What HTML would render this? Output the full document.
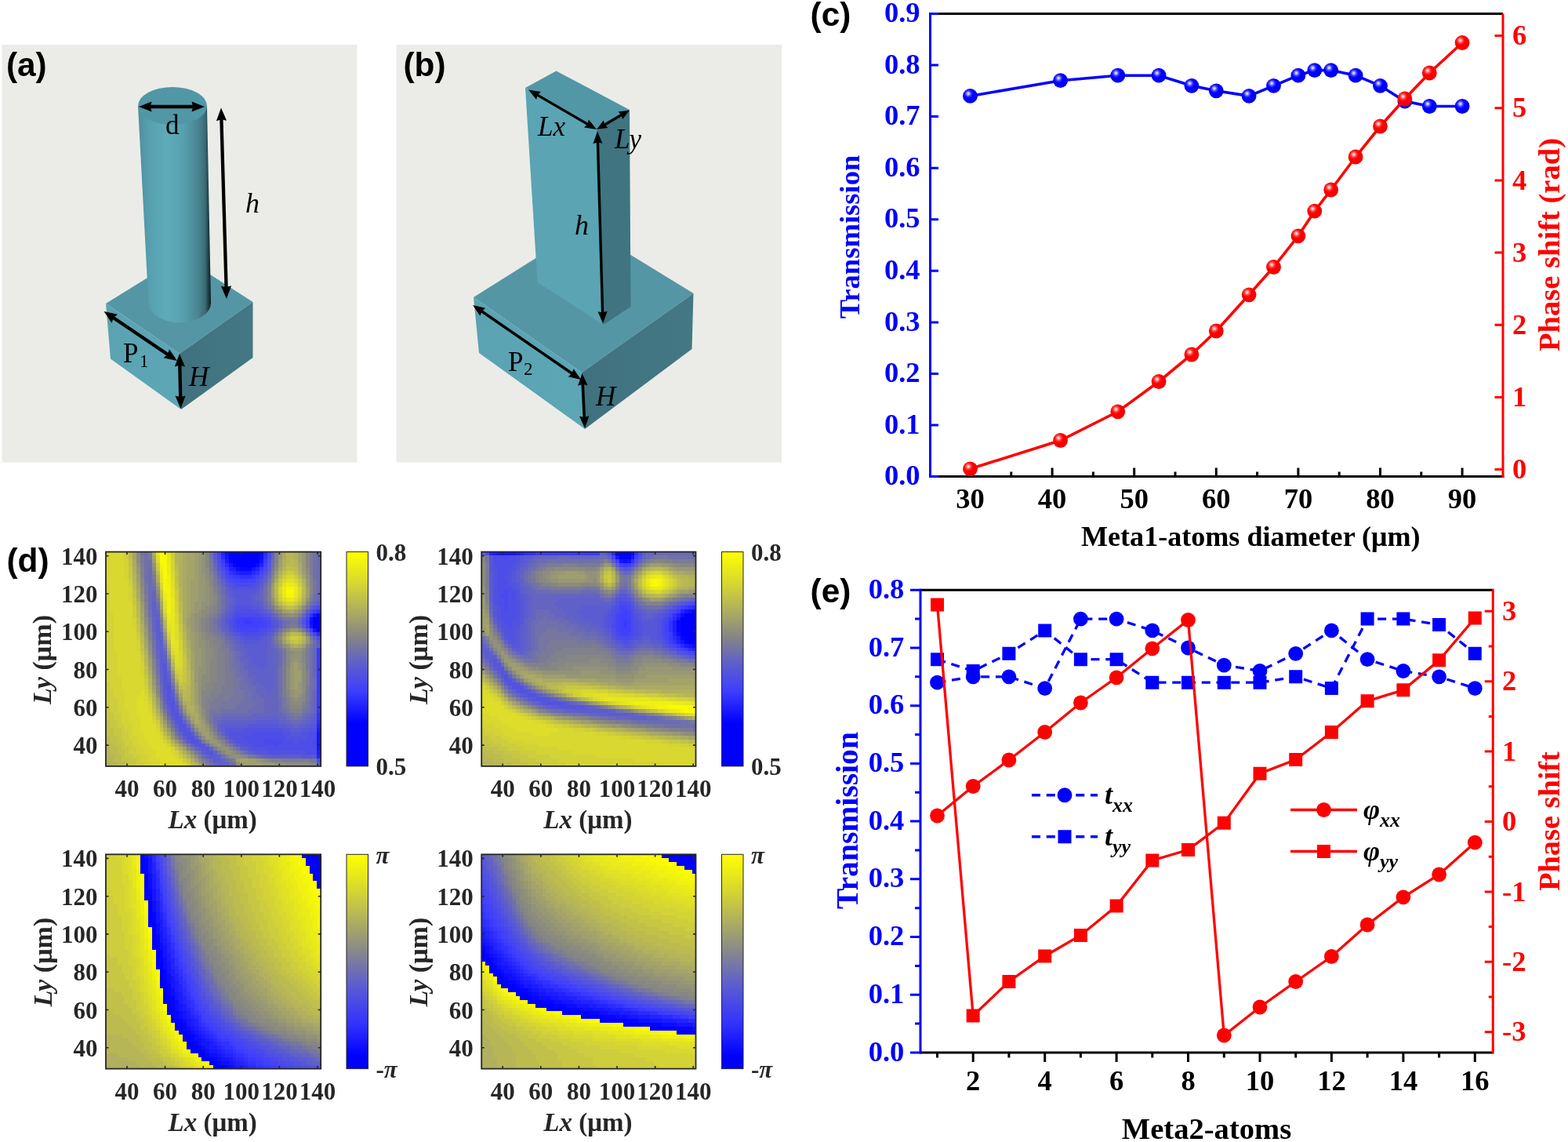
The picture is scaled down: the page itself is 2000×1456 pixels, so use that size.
<!DOCTYPE html>
<html lang="en"><head><meta charset="utf-8"><title>Meta-atoms figure</title>
<style>
html,body{margin:0;padding:0;background:#fff}
body{width:2000px;height:1456px;overflow:hidden}
svg{display:block}
.s{font-family:'Liberation Serif','DejaVu Serif',serif;font-weight:bold}
.n{font-family:'Liberation Serif','DejaVu Serif',serif;font-weight:normal}
.a{font-family:'Liberation Sans','DejaVu Sans',sans-serif;font-weight:bold}
</style></head><body>
<svg width="2000" height="1456" viewBox="0 0 2000 1456">
<defs>
<linearGradient id="gC" x1="176" y1="0" x2="269" y2="0" gradientUnits="userSpaceOnUse">
<stop offset="0" stop-color="#4d909f"/><stop offset=".15" stop-color="#569fae"/><stop offset=".4" stop-color="#5eacbb"/><stop offset=".62" stop-color="#58a0af"/><stop offset=".82" stop-color="#4a8592"/><stop offset=".92" stop-color="#3b6c77"/><stop offset=".97" stop-color="#1e3a41"/><stop offset="1" stop-color="#0a1518"/></linearGradient>
<linearGradient id="gL" x1="0" y1="0" x2="1" y2="0"><stop offset="0" stop-color="#5ba3b2"/><stop offset="1" stop-color="#5ca6b5"/></linearGradient>
<linearGradient id="gR" x1="0" y1="0" x2="1" y2="0"><stop offset="0" stop-color="#3f727e"/><stop offset="1" stop-color="#437884"/></linearGradient>
<radialGradient id="sB" cx=".38" cy=".36" r=".62" fx=".37" fy=".33"><stop offset="0" stop-color="#f4f4ff"/><stop offset=".1" stop-color="#c4c4ff"/><stop offset=".3" stop-color="#3c3cff"/><stop offset=".5" stop-color="#0000ff"/><stop offset="1" stop-color="#0000f4"/></radialGradient>
<radialGradient id="sR" cx=".38" cy=".36" r=".62" fx=".37" fy=".33"><stop offset="0" stop-color="#fff4f4"/><stop offset=".1" stop-color="#ffc4c4"/><stop offset=".3" stop-color="#ff3c3c"/><stop offset=".5" stop-color="#ff0000"/><stop offset="1" stop-color="#f40000"/></radialGradient>
</defs>
<rect x="2.5" y="57" width="453" height="532.5" fill="#ebece8"/>
<rect x="505.5" y="57" width="491.5" height="532.5" fill="#ebece8"/>
<polygon points="135,387 232,327 322.5,385 229,451" fill="#5596a5"/>
<polygon points="135,387 229,451 231,522 141,457.5" fill="url(#gL)"/>
<polygon points="229,451 322.5,385 322.5,456 231,522" fill="url(#gR)"/>
<path d="M176,135 L189.5,388 A39.8,25 0 0 0 269,386 L264,135 Z" fill="url(#gC)"/>
<ellipse cx="220" cy="135" rx="44" ry="24" fill="#5297a6"/>
<polygon points="604,379 746.5,289.5 884.5,374 742,475" fill="#5596a5"/>
<polygon points="604,379 742,475 746,547 611,450" fill="url(#gL)"/>
<polygon points="742,475 884.5,374 882.5,445 746,547" fill="url(#gR)"/>
<polygon points="670,112 709.5,90.5 803,140 761,166" fill="#5297a6"/>
<polygon points="670,112 761,166 769.5,414 685.5,360" fill="#5aa4b3"/>
<polygon points="761,166 803,140 804.5,391 769.5,414" fill="#3f7480"/>
<path d="M191.0,136.0L247.0,136.0" stroke="#000" stroke-width="4.3" fill="none"/>
<path d="M261.0,136.0L244.5,142.6L246.2,136.0L244.5,129.4zM177.0,136.0L193.5,129.4L191.8,136.0L193.5,142.6z"/>
<path d="M282.4,151.5L288.6,367.0" stroke="#000" stroke-width="4.3" fill="none"/>
<path d="M289.0,381.0L281.9,364.7L288.6,366.2L295.1,364.3zM282.0,137.5L289.1,153.8L282.4,152.3L275.9,154.2z"/>
<path d="M144.1,404.8L214.4,452.2" stroke="#000" stroke-width="4.3" fill="none"/>
<path d="M226.0,460.0L208.6,456.3L213.7,451.7L216.0,445.3zM132.5,397.0L149.9,400.7L144.8,405.3L142.5,411.7z"/>
<path d="M229.3,465.0L230.2,507.0" stroke="#000" stroke-width="4.3" fill="none"/>
<path d="M230.5,521.0L223.5,504.6L230.2,506.2L236.7,504.4zM229.0,451.0L236.0,467.4L229.3,465.8L222.8,467.6z"/>
<path d="M685.0,120.9L750.0,158.6" stroke="#000" stroke-width="3.3" fill="none"/>
<path d="M761.0,165.0L745.1,162.5L749.3,158.2L750.9,152.5zM674.0,114.5L689.9,117.0L685.7,121.3L684.1,127.0z"/>
<path d="M770.9,159.2L793.1,146.3" stroke="#000" stroke-width="3.3" fill="none"/>
<path d="M803.0,140.5L794.2,152.1L792.5,146.6L788.5,142.5zM761.0,165.0L769.8,153.4L771.5,158.9L775.5,163.0z"/>
<path d="M762.4,180.7L768.6,399.3" stroke="#000" stroke-width="3.4" fill="none"/>
<path d="M769.0,412.5L762.6,397.2L768.6,398.6L774.6,396.8zM762.0,167.5L768.4,182.8L762.4,181.4L756.4,183.2z"/>
<path d="M613.9,396.5L730.1,476.5" stroke="#000" stroke-width="3.4" fill="none"/>
<path d="M741.0,484.0L724.8,480.2L729.5,476.1L731.6,470.3zM603.0,389.0L619.2,392.8L614.5,396.9L612.4,402.7z"/>
<path d="M743.2,489.2L745.3,532.8" stroke="#000" stroke-width="3.6" fill="none"/>
<path d="M746.0,546.0L739.0,530.8L745.3,532.1L751.4,530.2zM742.5,476.0L749.5,491.2L743.2,489.9L737.1,491.8z"/>
<text class="a" x="7.9" y="97.3" font-size="42.4">(a)</text>
<text class="a" x="514.4" y="97.3" font-size="42.4">(b)</text>
<text class="n" x="211" y="171.3" font-size="35">d</text>
<text class="n" x="313" y="271" font-size="36" font-style="italic">h</text>
<text class="n" x="157" y="462" font-size="35">P</text>
<text class="n" x="178" y="467.5" font-size="23">1</text>
<text class="n" x="241" y="492" font-size="35" font-style="italic">H</text>
<text class="n" x="686" y="172.5" font-size="35" font-style="italic">Lx</text>
<text class="n" x="784" y="189" font-size="35" font-style="italic">Ly</text>
<text class="n" x="733" y="299" font-size="36" font-style="italic">h</text>
<text class="n" x="648" y="472.5" font-size="35">P</text>
<text class="n" x="668" y="477.5" font-size="23">2</text>
<text class="n" x="760" y="517" font-size="35" font-style="italic">H</text>
<line x1="1185.0" y1="17.5" x2="1917" y2="17.5" stroke="#000" stroke-width="3" />
<line x1="1185.0" y1="607.6" x2="1918.5" y2="607.6" stroke="#000" stroke-width="3" />
<line x1="1186.5" y1="16.0" x2="1186.5" y2="609.1" stroke="#0000ff" stroke-width="3" />
<line x1="1917" y1="17.5" x2="1917" y2="609.1" stroke="#ff0000" stroke-width="3" />
<path d="M1186.5,607.6h10.5M1186.5,542.0h10.5M1186.5,476.5h10.5M1186.5,410.9h10.5M1186.5,345.3h10.5M1186.5,279.8h10.5M1186.5,214.2h10.5M1186.5,148.6h10.5M1186.5,83.1h10.5M1186.5,17.5h10.5" stroke="#0000ff" stroke-width="3" fill="none"/>
<path d="M1917,598.5h-10.5M1917,506.4h-10.5M1917,414.2h-10.5M1917,322.0h-10.5M1917,229.9h-10.5M1917,137.8h-10.5M1917,45.6h-10.5" stroke="#ff0000" stroke-width="3" fill="none"/>
<path d="M1237.5,607.6v-11M1289.8,607.6v-6M1342.1,607.6v-11M1394.4,607.6v-6M1446.7,607.6v-11M1499.0,607.6v-6M1551.3,607.6v-11M1603.6,607.6v-6M1655.9,607.6v-11M1708.2,607.6v-6M1760.5,607.6v-11M1812.8,607.6v-6M1865.1,607.6v-11" stroke="#000" stroke-width="3" fill="none"/>
<text class="s" x="1173.5" y="618.2" font-size="36.5" fill="#0000ff" text-anchor="end">0.0</text>
<text class="s" x="1173.5" y="552.6" font-size="36.5" fill="#0000ff" text-anchor="end">0.1</text>
<text class="s" x="1173.5" y="487.1" font-size="36.5" fill="#0000ff" text-anchor="end">0.2</text>
<text class="s" x="1173.5" y="421.5" font-size="36.5" fill="#0000ff" text-anchor="end">0.3</text>
<text class="s" x="1173.5" y="355.9" font-size="36.5" fill="#0000ff" text-anchor="end">0.4</text>
<text class="s" x="1173.5" y="290.4" font-size="36.5" fill="#0000ff" text-anchor="end">0.5</text>
<text class="s" x="1173.5" y="224.8" font-size="36.5" fill="#0000ff" text-anchor="end">0.6</text>
<text class="s" x="1173.5" y="159.2" font-size="36.5" fill="#0000ff" text-anchor="end">0.7</text>
<text class="s" x="1173.5" y="93.7" font-size="36.5" fill="#0000ff" text-anchor="end">0.8</text>
<text class="s" x="1173.5" y="28.1" font-size="36.5" fill="#0000ff" text-anchor="end">0.9</text>
<text class="s" x="1929" y="610.1" font-size="36.5" fill="#ff0000">0</text>
<text class="s" x="1929" y="518.0" font-size="36.5" fill="#ff0000">1</text>
<text class="s" x="1929" y="425.8" font-size="36.5" fill="#ff0000">2</text>
<text class="s" x="1929" y="333.6" font-size="36.5" fill="#ff0000">3</text>
<text class="s" x="1929" y="241.5" font-size="36.5" fill="#ff0000">4</text>
<text class="s" x="1929" y="149.3" font-size="36.5" fill="#ff0000">5</text>
<text class="s" x="1929" y="57.2" font-size="36.5" fill="#ff0000">6</text>
<text class="s" x="1237.5" y="647.6" font-size="36.5" text-anchor="middle">30</text>
<text class="s" x="1342.1" y="647.6" font-size="36.5" text-anchor="middle">40</text>
<text class="s" x="1446.7" y="647.6" font-size="36.5" text-anchor="middle">50</text>
<text class="s" x="1551.3" y="647.6" font-size="36.5" text-anchor="middle">60</text>
<text class="s" x="1655.9" y="647.6" font-size="36.5" text-anchor="middle">70</text>
<text class="s" x="1760.5" y="647.6" font-size="36.5" text-anchor="middle">80</text>
<text class="s" x="1865.1" y="647.6" font-size="36.5" text-anchor="middle">90</text>
<text class="s" x="1595.3" y="696.2" font-size="36.1" text-anchor="middle">Meta1-atoms diameter (μm)</text>
<text class="s" x="1096" y="302" font-size="36.6" fill="#0000ff" text-anchor="middle" transform="rotate(-90 1096 302)">Transmission</text>
<text class="s" x="1988.5" y="312" font-size="38.6" fill="#ff0000" text-anchor="middle" transform="rotate(-90 1988.5 312)">Phase shift (rad)</text>
<text class="a" x="1033.6" y="33.3" font-size="42.4">(c)</text>
<polyline points="1237.5,122.4 1352.6,102.7 1425.8,96.2 1478.1,96.2 1519.9,109.3 1551.3,115.8 1593.1,122.4 1624.5,109.3 1655.9,96.2 1676.8,89.6 1697.7,89.6 1729.1,96.2 1760.5,109.3 1791.9,129.0 1823.3,135.5 1865.1,135.5" fill="none" stroke="#0000ff" stroke-width="3.6"/>
<g fill="url(#sB)"><circle cx="1237.5" cy="122.4" r="9.4"/><circle cx="1352.6" cy="102.7" r="9.4"/><circle cx="1425.8" cy="96.2" r="9.4"/><circle cx="1478.1" cy="96.2" r="9.4"/><circle cx="1519.9" cy="109.3" r="9.4"/><circle cx="1551.3" cy="115.8" r="9.4"/><circle cx="1593.1" cy="122.4" r="9.4"/><circle cx="1624.5" cy="109.3" r="9.4"/><circle cx="1655.9" cy="96.2" r="9.4"/><circle cx="1676.8" cy="89.6" r="9.4"/><circle cx="1697.7" cy="89.6" r="9.4"/><circle cx="1729.1" cy="96.2" r="9.4"/><circle cx="1760.5" cy="109.3" r="9.4"/><circle cx="1791.9" cy="129.0" r="9.4"/><circle cx="1823.3" cy="135.5" r="9.4"/><circle cx="1865.1" cy="135.5" r="9.4"/></g>
<polyline points="1237.5,597.8 1352.6,561.5 1425.8,524.8 1478.1,486.5 1519.9,452.0 1551.3,422.0 1593.1,375.8 1624.5,340.5 1655.9,300.8 1676.8,269.2 1697.7,242.0 1729.1,200.0 1760.5,161.0 1791.9,126.0 1823.3,93.0 1865.1,54.5" fill="none" stroke="#ff0000" stroke-width="3.6"/>
<g fill="url(#sR)"><circle cx="1237.5" cy="597.8" r="9.4"/><circle cx="1352.6" cy="561.5" r="9.4"/><circle cx="1425.8" cy="524.8" r="9.4"/><circle cx="1478.1" cy="486.5" r="9.4"/><circle cx="1519.9" cy="452.0" r="9.4"/><circle cx="1551.3" cy="422.0" r="9.4"/><circle cx="1593.1" cy="375.8" r="9.4"/><circle cx="1624.5" cy="340.5" r="9.4"/><circle cx="1655.9" cy="300.8" r="9.4"/><circle cx="1676.8" cy="269.2" r="9.4"/><circle cx="1697.7" cy="242.0" r="9.4"/><circle cx="1729.1" cy="200.0" r="9.4"/><circle cx="1760.5" cy="161.0" r="9.4"/><circle cx="1791.9" cy="126.0" r="9.4"/><circle cx="1823.3" cy="93.0" r="9.4"/><circle cx="1865.1" cy="54.5" r="9.4"/></g>
<line x1="1174" y1="752.25" x2="1904.25" y2="752.25" stroke="#000" stroke-width="3" />
<line x1="1174" y1="1342" x2="1904.25" y2="1342" stroke="#000" stroke-width="3" />
<line x1="1174" y1="750.75" x2="1174" y2="1343.5" stroke="#0000ff" stroke-width="3" />
<line x1="1904.25" y1="750.75" x2="1904.25" y2="1343.5" stroke="#ff0000" stroke-width="3" />
<path d="M1174,1342.0h-13M1174,1305.1h-7M1174,1268.3h-13M1174,1231.4h-7M1174,1194.6h-13M1174,1157.7h-7M1174,1120.8h-13M1174,1084.0h-7M1174,1047.1h-13M1174,1010.3h-7M1174,973.4h-13M1174,936.5h-7M1174,899.7h-13M1174,862.8h-7M1174,826.0h-13M1174,789.1h-7M1174,752.2h-13" stroke="#0000ff" stroke-width="3" fill="none"/>
<path d="M1904.25,1315.7h-10.5M1904.25,1271.0h-5.5M1904.25,1226.3h-10.5M1904.25,1181.6h-5.5M1904.25,1136.9h-10.5M1904.25,1092.2h-5.5M1904.25,1047.5h-10.5M1904.25,1002.8h-5.5M1904.25,958.1h-10.5M1904.25,913.4h-5.5M1904.25,868.7h-10.5M1904.25,824.0h-5.5M1904.25,779.3h-10.5" stroke="#ff0000" stroke-width="3" fill="none"/>
<path d="M1195.5,1342v6.5M1241.2,1342v12M1286.9,1342v6.5M1332.7,1342v12M1378.4,1342v6.5M1424.1,1342v12M1469.8,1342v6.5M1515.5,1342v12M1561.3,1342v6.5M1607.0,1342v12M1652.7,1342v6.5M1698.4,1342v12M1744.1,1342v6.5M1789.9,1342v12M1835.6,1342v6.5M1881.3,1342v12" stroke="#000" stroke-width="3" fill="none"/>
<text class="s" x="1153.3" y="1352.5" font-size="36.5" fill="#0000ff" text-anchor="end">0.0</text>
<text class="s" x="1153.3" y="1278.8" font-size="36.5" fill="#0000ff" text-anchor="end">0.1</text>
<text class="s" x="1153.3" y="1205.1" font-size="36.5" fill="#0000ff" text-anchor="end">0.2</text>
<text class="s" x="1153.3" y="1131.3" font-size="36.5" fill="#0000ff" text-anchor="end">0.3</text>
<text class="s" x="1153.3" y="1057.6" font-size="36.5" fill="#0000ff" text-anchor="end">0.4</text>
<text class="s" x="1153.3" y="983.9" font-size="36.5" fill="#0000ff" text-anchor="end">0.5</text>
<text class="s" x="1153.3" y="910.2" font-size="36.5" fill="#0000ff" text-anchor="end">0.6</text>
<text class="s" x="1153.3" y="836.5" font-size="36.5" fill="#0000ff" text-anchor="end">0.7</text>
<text class="s" x="1153.3" y="762.8" font-size="36.5" fill="#0000ff" text-anchor="end">0.8</text>
<text class="s" x="1916" y="1327.3" font-size="36.5" fill="#ff0000">-3</text>
<text class="s" x="1916" y="1237.9" font-size="36.5" fill="#ff0000">-2</text>
<text class="s" x="1916" y="1148.5" font-size="36.5" fill="#ff0000">-1</text>
<text class="s" x="1916" y="1059.1" font-size="36.5" fill="#ff0000">0</text>
<text class="s" x="1916" y="969.7" font-size="36.5" fill="#ff0000">1</text>
<text class="s" x="1916" y="880.3" font-size="36.5" fill="#ff0000">2</text>
<text class="s" x="1916" y="790.9" font-size="36.5" fill="#ff0000">3</text>
<text class="s" x="1241.2" y="1389.5" font-size="36.5" text-anchor="middle">2</text>
<text class="s" x="1332.7" y="1389.5" font-size="36.5" text-anchor="middle">4</text>
<text class="s" x="1424.1" y="1389.5" font-size="36.5" text-anchor="middle">6</text>
<text class="s" x="1515.5" y="1389.5" font-size="36.5" text-anchor="middle">8</text>
<text class="s" x="1607.0" y="1389.5" font-size="36.5" text-anchor="middle">10</text>
<text class="s" x="1698.4" y="1389.5" font-size="36.5" text-anchor="middle">12</text>
<text class="s" x="1789.9" y="1389.5" font-size="36.5" text-anchor="middle">14</text>
<text class="s" x="1881.3" y="1389.5" font-size="36.5" text-anchor="middle">16</text>
<text class="s" x="1539" y="1451.5" font-size="38.6" text-anchor="middle">Meta2-atoms</text>
<text class="s" x="1094" y="1046" font-size="39.6" fill="#0000ff" text-anchor="middle" transform="rotate(-90 1094 1046)">Transmission</text>
<text class="s" x="1989" y="1047" font-size="38.3" fill="#ff0000" text-anchor="middle" transform="rotate(-90 1989 1047)">Phase shift</text>
<text class="a" x="1033.6" y="768.3" font-size="42.4">(e)</text>
<polyline points="1195.5,840.7 1241.2,855.5 1286.9,833.3 1332.7,803.9 1378.4,840.7 1424.1,840.7 1469.8,870.2 1515.5,870.2 1561.3,870.2 1607.0,870.2 1652.7,862.8 1698.4,877.6 1744.1,789.1 1789.9,789.1 1835.6,796.5 1881.3,833.3" fill="none" stroke="#0000ff" stroke-width="3.3" stroke-dasharray="11 7.75"/>
<path fill="#0000ff" d="M1187.0,832.2h17v17h-17zM1232.7,847.0h17v17h-17zM1278.4,824.8h17v17h-17zM1324.2,795.4h17v17h-17zM1369.9,832.2h17v17h-17zM1415.6,832.2h17v17h-17zM1461.3,861.7h17v17h-17zM1507.0,861.7h17v17h-17zM1552.8,861.7h17v17h-17zM1598.5,861.7h17v17h-17zM1644.2,854.3h17v17h-17zM1689.9,869.1h17v17h-17zM1735.6,780.6h17v17h-17zM1781.4,780.6h17v17h-17zM1827.1,788.0h17v17h-17zM1872.8,824.8h17v17h-17z"/>
<polyline points="1195.5,870.2 1241.2,862.8 1286.9,862.8 1332.7,877.6 1378.4,789.1 1424.1,789.1 1469.8,803.9 1515.5,826.0 1561.3,848.1 1607.0,855.5 1652.7,833.3 1698.4,803.9 1744.1,840.7 1789.9,855.5 1835.6,862.8 1881.3,877.6" fill="none" stroke="#0000ff" stroke-width="3.3" stroke-dasharray="11 7.75"/>
<g fill="#0000ff"><circle cx="1195.5" cy="870.2" r="9.4"/><circle cx="1241.2" cy="862.8" r="9.4"/><circle cx="1286.9" cy="862.8" r="9.4"/><circle cx="1332.7" cy="877.6" r="9.4"/><circle cx="1378.4" cy="789.1" r="9.4"/><circle cx="1424.1" cy="789.1" r="9.4"/><circle cx="1469.8" cy="803.9" r="9.4"/><circle cx="1515.5" cy="826.0" r="9.4"/><circle cx="1561.3" cy="848.1" r="9.4"/><circle cx="1607.0" cy="855.5" r="9.4"/><circle cx="1652.7" cy="833.3" r="9.4"/><circle cx="1698.4" cy="803.9" r="9.4"/><circle cx="1744.1" cy="840.7" r="9.4"/><circle cx="1789.9" cy="855.5" r="9.4"/><circle cx="1835.6" cy="862.8" r="9.4"/><circle cx="1881.3" cy="877.6" r="9.4"/></g>
<polyline points="1195.5,771.0 1241.2,1295.0 1286.9,1251.5 1332.7,1219.0 1378.4,1192.5 1424.1,1155.0 1469.8,1097.0 1515.5,1083.5 1561.3,1049.2 1607.0,986.2 1652.7,968.5 1698.4,933.5 1744.1,893.8 1789.9,879.8 1835.6,841.8 1881.3,788.0" fill="none" stroke="#ff0000" stroke-width="3.3"/>
<path fill="#ff0000" d="M1187.0,762.5h17v17h-17zM1232.7,1286.5h17v17h-17zM1278.4,1243.0h17v17h-17zM1324.2,1210.5h17v17h-17zM1369.9,1184.0h17v17h-17zM1415.6,1146.5h17v17h-17zM1461.3,1088.5h17v17h-17zM1507.0,1075.0h17v17h-17zM1552.8,1040.8h17v17h-17zM1598.5,977.8h17v17h-17zM1644.2,960.0h17v17h-17zM1689.9,925.0h17v17h-17zM1735.6,885.2h17v17h-17zM1781.4,871.2h17v17h-17zM1827.1,833.2h17v17h-17zM1872.8,779.5h17v17h-17z"/>
<polyline points="1195.5,1040.0 1241.2,1002.5 1286.9,969.0 1332.7,933.5 1378.4,896.0 1424.1,863.8 1469.8,826.8 1515.5,790.5 1561.3,1320.0 1607.0,1284.0 1652.7,1251.5 1698.4,1219.5 1744.1,1179.0 1789.9,1143.8 1835.6,1115.0 1881.3,1074.2" fill="none" stroke="#ff0000" stroke-width="3.3"/>
<g fill="#ff0000"><circle cx="1195.5" cy="1040.0" r="9.4"/><circle cx="1241.2" cy="1002.5" r="9.4"/><circle cx="1286.9" cy="969.0" r="9.4"/><circle cx="1332.7" cy="933.5" r="9.4"/><circle cx="1378.4" cy="896.0" r="9.4"/><circle cx="1424.1" cy="863.8" r="9.4"/><circle cx="1469.8" cy="826.8" r="9.4"/><circle cx="1515.5" cy="790.5" r="9.4"/><circle cx="1561.3" cy="1320.0" r="9.4"/><circle cx="1607.0" cy="1284.0" r="9.4"/><circle cx="1652.7" cy="1251.5" r="9.4"/><circle cx="1698.4" cy="1219.5" r="9.4"/><circle cx="1744.1" cy="1179.0" r="9.4"/><circle cx="1789.9" cy="1143.8" r="9.4"/><circle cx="1835.6" cy="1115.0" r="9.4"/><circle cx="1881.3" cy="1074.2" r="9.4"/></g>
<line x1="1316" y1="1013.75" x2="1400" y2="1013.75" stroke="#0000ff" stroke-width="3.3" stroke-dasharray="11 7.75"/>
<circle cx="1358.0" cy="1013.75" r="9.4" fill="#0000ff"/>
<text class="s" x="1409" y="1025.25" font-size="36" font-style="italic">t<tspan font-size="26" dy="9.5">xx</tspan></text>
<line x1="1316" y1="1066.75" x2="1400" y2="1066.75" stroke="#0000ff" stroke-width="3.3" stroke-dasharray="11 7.75"/>
<rect x="1349.5" y="1058.25" width="17" height="17" fill="#0000ff"/>
<text class="s" x="1409" y="1078.25" font-size="36" font-style="italic">t<tspan font-size="26" dy="9.5">yy</tspan></text>
<line x1="1646" y1="1032.5" x2="1731" y2="1032.5" stroke="#ff0000" stroke-width="3.3"/>
<circle cx="1688.5" cy="1032.5" r="9.4" fill="#ff0000"/>
<text class="s" x="1739" y="1044.0" font-size="36" font-style="italic">φ<tspan font-size="26" dy="9.5">xx</tspan></text>
<line x1="1646" y1="1085.5" x2="1731" y2="1085.5" stroke="#ff0000" stroke-width="3.3"/>
<rect x="1680.0" y="1077.0" width="17" height="17" fill="#ff0000"/>
<text class="s" x="1739" y="1097.0" font-size="36" font-style="italic">φ<tspan font-size="26" dy="9.5">yy</tspan></text>
<text class="a" x="8.4" y="728.6" font-size="42.4">(d)</text>
<defs><linearGradient id="cb" x1="0" y1="1" x2="0" y2="0">
<stop offset="0.0" stop-color="#0000ff"/>
<stop offset="0.2" stop-color="#0000ff"/>
<stop offset="0.35" stop-color="#3e3eff"/>
<stop offset="0.47" stop-color="#5c5cd0"/>
<stop offset="0.6" stop-color="#848486"/>
<stop offset="0.72" stop-color="#acac62"/>
<stop offset="0.85" stop-color="#d6d632"/>
<stop offset="1.0" stop-color="#ffff00"/>
</linearGradient><linearGradient id="cp" x1="0" y1="1" x2="0" y2="0">
<stop offset="0.0" stop-color="#0000ff"/>
<stop offset="0.06" stop-color="#0000ff"/>
<stop offset="0.2" stop-color="#3030ff"/>
<stop offset="0.37" stop-color="#5858d8"/>
<stop offset="0.55" stop-color="#88888c"/>
<stop offset="0.65" stop-color="#a4a46a"/>
<stop offset="0.75" stop-color="#c0c04c"/>
<stop offset="0.87" stop-color="#e0e024"/>
<stop offset="1.0" stop-color="#ffff00"/>
</linearGradient></defs>
<g shape-rendering="crispEdges" transform="translate(135 703.6) scale(4.89643 4.88036)"><path fill="#d8d830" d="M0 0h56v56H0z"/><path fill="#0000ff" d="m35 0h3v1h-3z"/><path fill="#0000ff" d="m35 1h2v1h-2zm20 17h1v1h-1z"/><path fill="#0000ff" d="m34 0h1v1h-1zm4 0h1v1h-1zm-1 1h1v1h-1zm18 18h1v1h-1z"/><path fill="#0000ff" d="m34 1h1v1h-1zm4 0h1v1h-1zm-3 1h2v1h-2z"/><path fill="#0000ff" d="m33 0h1v1h-1zm4 2h1v1h-1zm18 15h1v1h-1zm-1 1h1v1h-1z"/><path fill="#0000ff" d="m39 0h1v1h-1zm-6 1h1v1h-1zm1 1h1v1h-1zm4 0h1v1h-1z"/><path fill="#0000ff" d="m39 1h1v1h-1zm-4 2h3v1h-3zm19 14h1v1h-1zm0 2h1v1h-1z"/><path fill="#0000ff" d="m32 0h1v1h-1zm1 2h1v1h-1zm1 1h1v1h-1z"/><path fill="#0000ff" d="m32 1h1v1h-1zm7 1h1v1h-1zm-1 1h1v1h-1zm17 17h1v1h-1z"/><path fill="#0606ff" d="m40 0h1v1h-1zm-8 2h1v1h-1zm1 1h1v1h-1zm2 1h3v1h-3zm20 12h1v1h-1z"/><path fill="#0d0dff" d="m31 0h1v1h-1zm9 1h1v1h-1zm-1 2h1v1h-1zm-5 1h1v1h-1zm19 14h1v1h-1z"/><path fill="#1515ff" d="m31 1h1v1h-1zm9 1h1v1h-1zm-8 1h1v1h-1zm6 1h1v1h-1zm16 12h1v1h-1zm-1 1h1v1h-1zm0 2h1v1h-1zm1 1h1v1h-1zm1 27h1v5h-1z"/><path fill="#1c1cff" d="m31 2h1v1h-1zm2 2h1v1h-1zm2 1h3v1h-3zm20 41h1v1h-1zm0 6h1v1h-1z"/><path fill="#2323ff" d="m30 0h1v1h-1zm10 3h1v1h-1zm-8 1h1v1h-1zm7 0h1v1h-1zm-5 1h1v1h-1zm21 40h1v1h-1zm0 8h1v1h-1z"/><path fill="#2b2bff" d="m41 0h1v1h-1zm-11 1h1v1h-1zm1 2h1v1h-1zm2 2h1v1h-1zm5 0h1v1h-1zm17 16h1v1h-1zm0 23h1v1h-1z"/><path fill="#3232ff" d="m41 1h1v1h-1zm-9 4h1v1h-1zm7 0h1v1h-1zm-4 1h3v1h-3zm20 9h1v1h-1zm-2 1h1v1h-1zm2 26h1v2h-1z"/><path fill="#3a3aff" d="m30 2h1v1h-1zm11 0h1v1h-1zm-10 2h1v1h-1zm9 0h1v1h-1zm-7 2h2v1h-2zm5 0h1v1h-1zm-2 12h2v1h-2zm16 0h1v1h-1zm3 7h1v17h-1z"/><path fill="#4040fc" d="m30 3h1v1h-1zm11 0h1v1h-1zm-9 3h1v1h-1zm3 1h2v1h-2zm19 8h1v1h-1zm-19 2h4v1h-4zm17 0h1v1h-1zm-18 1h2v1h-2zm4 0h3v1h-3zm-3 1h5v1h-5zm17 0h1v1h-1zm1 1h1v1h-1z"/><path fill="#4444f5" d="m29 0h1v1h-1zm2 5h1v1h-1zm9 0h1v1h-1zm-1 1h1v1h-1zm-6 1h2v1h-2zm4 0h2v1h-2zm-3 10h1v1h-1zm5 0h2v1h-2zm2 1h1v1h-1zm-7 1h1v1h-1zm6 0h2v1h-2zm-5 1h5v1h-5zm19 1h1v1h-1z"/><path fill="#4949ee" d="m42 0h1v1h-1zm-13 1h1v1h-1zm1 3h1v1h-1zm11 0h1v1h-1zm-10 2h1v1h-1zm1 1h1v1h-1zm2 1h4v1h-4zm21 6h1v1h-1zm-21 2h6v1h-6zm-1 1h1v3h-1zm8 0h1v1h-1zm1 1h1v2h-1zm-8 2h1v1h-1zm6 0h1v1h-1zm-4 1h1v1h-1zm5 28h5v1h-5zm13 0h1v2h-1zm-10 1h1v1h-1z"/><path fill="#4d4de7" d="m42 1h1v1h-1zm-13 1h1v1h-1zm11 4h1v1h-1zm-1 1h1v1h-1zm-6 1h1v1h-1zm5 0h1v1h-1zm-4 7h5v1h-5zm19 0h1v1h-1zm-20 1h1v1h-1zm7 0h1v1h-1zm12 0h1v1h-1zm-10 1h1v1h-1zm-10 1h1v1h-1zm1 2h1v1h-1zm8 0h1v1h-1zm-6 1h1v1h-1zm2 0h4v1h-4zm18 1h1v1h-1zm-17 25h8v1h-8zm15 0h2v1h-2zm-17 1h11v1h-11zm16 0h3v1h-3zm-15 1h4v1h-4zm9 0h3v1h-3zm4 0h4v1h-4zm-12 1h6v1h-6zm7 0h9v1h-9zm-3 1h13v1h-13zm10 1h3v1h-3zm3 2h1v1h-1z"/><path fill="#5252e0" d="m42 2h1v1h-1zm-13 1h1v1h-1zm1 2h1v1h-1zm11 0h1v1h-1zm-10 2h1v1h-1zm1 1h1v1h-1zm7 0h1v1h-1zm-6 1h6v1h-6zm1 5h4v1h-4zm20 0h1v1h-1zm-21 1h1v1h-1zm6 0h1v1h-1zm2 1h1v1h-1zm-9 1h1v1h-1zm11 1h1v2h-1zm8 0h1v1h-1zm-19 1h1v1h-1zm10 1h1v1h-1zm-8 1h1v1h-1zm7 0h1v1h-1zm-5 1h4v1h-4zm-20 13h1v4h-1zm1 4h1v3h-1zm1 3h1v2h-1zm1 2h1v1h-1zm0 1h2v1h-2zm1 1h1v1h-1zm16 0h10v1h-10zm17 0h2v1h-2zm-33 1h2v1h-2zm12 0h6v1h-6zm14 0h2v1h-2zm5 0h2v1h-2zm-30 1h2v1h-2zm12 0h3v1h-3zm14 0h5v1h-5zm-25 1h2v1h-2zm12 0h3v1h-3zm15 0h1v1h-1zm-25 1h1v1h-1zm12 0h2v1h-2zm2 1h4v1h-4zm4 1h10v1h-10z"/><path fill="#5656d9" d="m28 0h1v1h-1zm14 3h1v1h-1zm-13 1h1v1h-1zm1 2h1v1h-1zm10 1h1v1h-1zm-9 1h1v1h-1zm1 1h1v1h-1zm7 0h1v1h-1zm-6 1h6v1h-6zm0 1h5v1h-5zm1 1h4v2h-4zm-1 2h1v1h-1zm5 0h2v1h-2zm2 1h1v1h-1zm-8 1h1v1h-1zm10 0h1v1h-1zm-11 1h1v2h-1zm12 0h1v1h-1zm8 0h1v1h-1zm-7 1h1v2h-1zm-12 2h1v1h-1zm11 0h1v1h-1zm-10 1h1v1h-1zm2 1h1v1h-1zm5 0h1v1h-1zm-4 1h4v1h-4zm-21 6h1v5h-1zm0 5h2v1h-2zm0 1h1v1h-1zm2 3h1v1h-1zm-1 1h1v1h-1zm2 2h1v1h-1zm-1 1h1v1h-1zm2 1h1v1h-1zm-1 1h1v1h-1zm19 1h8v1h-8zm16 0h2v1h-2zm-34 1h1v1h-1zm2 0h1v1h-1zm10 0h5v1h-5zm15 0h2v1h-2zm5 0h2v1h-2zm-20 1h1v1h-1zm17 0h3v1h-3zm-16 1h1v1h-1zm1 1h1v1h-1zm-10 1h1v1h-1zm2 0h1v1h-1zm10 0h1v1h-1zm-10 1h2v1h-2zm12 0h1v1h-1zm-11 1h2v1h-2zm13 0h3v1h-3zm12 1h4v1h-4z"/><path fill="#5b5bd2" d="m28 1h1v1h-1zm14 3h1v1h-1zm-1 2h1v1h-1zm-1 2h1v1h-1zm-8 2h1v2h-1zm7 0h1v1h-1zm-1 1h1v2h-1zm-5 1h1v2h-1zm5 1h2v1h-2zm17 0h1v1h-1zm-23 1h1v2h-1zm8 0h1v1h-1zm1 1h1v1h-1zm-10 1h1v1h-1zm-18 2h1v5h-1zm18 1h1v1h-1zm20 0h1v1h-1zm1 1h1v1h-1zm-10 1h1v1h-1zm11 0h1v1h-1zm-19 1h1v1h-1zm7 0h1v1h-1zm-27 1h1v5h-1zm21 0h1v1h-1zm5 0h2v1h-2zm15 0h1v1h-1zm-19 1h6v1h-6zm1 1h5v2h-5zm1 2h4v2h-4zm-24 1h2v1h-2zm0 1h1v2h-1zm25 0h3v1h-3zm1 1h1v1h-1zm-24 3h1v1h-1zm-1 3h1v2h-1zm2 1h1v1h-1zm-1 3h1v1h-1zm2 0h1v1h-1zm-1 3h1v1h-1zm37 0h1v1h-1zm-15 1h6v1h-6zm14 0h2v1h-2zm-35 1h1v1h-1zm12 0h7v1h-7zm15 0h2v1h-2zm7 0h1v1h-1zm-22 1h1v1h-1zm18 0h3v1h-3zm-26 1h1v1h-1zm-2 1h1v1h-1zm1 1h1v1h-1zm3 0h1v1h-1zm10 1h1v1h-1zm-10 1h1v1h-1zm12 0h1v1h-1zm-11 1h1v1h-1zm13 0h1v1h-1zm-11 1h2v1h-2zm16 0h8v1h-8zm-15 1h2v1h-2zm27 1h1v1h-1z"/><path fill="#6060c9" d="m28 2h1v1h-1zm1 3h1v1h-1zm1 2h1v1h-1zm11 0h1v1h-1zm-10 2h1v2h-1zm9 0h1v1h-1zm-1 2h1v2h-1zm-7 1h1v2h-1zm-20 1h1v3h-1zm28 0h1v1h-1zm13 1h1v1h-1zm-22 1h1v1h-1zm21 0h1v1h-1zm-40 1h2v1h-2zm31 0h1v1h-1zm-30 1h1v1h-1zm17 0h1v3h-1zm14 0h1v1h-1zm1 1h1v2h-1zm-14 2h1v1h-1zm13 0h1v1h-1zm-30 1h1v2h-1zm18 0h1v1h-1zm11 0h1v1h-1zm-10 1h1v1h-1zm9 0h1v3h-1zm12 0h1v1h-1zm-41 1h1v3h-1zm21 0h1v1h-1zm1 1h1v1h-1zm20 0h1v1h-1zm-20 1h2v1h-2zm7 0h2v5h-2zm-6 1h1v1h-1zm-21 1h1v1h-1zm21 0h2v1h-2zm1 1h1v1h-1zm0 1h2v1h-2zm0 1h3v1h-3zm4 0h3v1h-3zm-27 1h1v3h-1zm24 0h6v1h-6zm-22 1h1v1h-1zm23 0h5v2h-5zm1 2h4v1h-4zm1 1h3v1h-3zm-24 1h1v1h-1zm25 0h1v1h-1zm-27 2h1v1h-1zm1 3h1v1h-1zm3 1h1v1h-1zm35 0h1v1h-1zm-15 1h6v1h-6zm14 0h1v1h-1zm-33 1h1v1h-1zm10 0h9v1h-9zm15 0h2v1h-2zm7 0h1v1h-1zm-23 1h1v1h-1zm18 0h2v1h-2zm3 0h2v1h-2zm-31 2h1v1h-1zm11 0h1v1h-1zm-7 1h1v1h-1zm8 0h1v1h-1zm1 1h1v1h-1zm-10 1h1v1h-1zm13 1h1v1h-1zm-7 1h1v1h-1zm9 0h1v1h-1zm-11 1h1v1h-1zm3 0h1v1h-1zm12 0h2v1h-2zm-11 1h1v1h-1zm-1 1h3v1h-3z"/><path fill="#6565bf" d="m43 0h1v2h-1zm-15 3h1v1h-1zm14 2h1v1h-1zm-13 1h1v1h-1zm1 2h1v1h-1zm-18 2h1v3h-1zm28 0h1v3h-1zm-9 1h1v4h-1zm24 0h1v2h-1zm-1 2h1v1h-1zm-13 1h1v1h-1zm-28 1h1v1h-1zm29 0h1v1h-1zm-12 1h1v1h-1zm21 0h1v1h-1zm-39 1h1v4h-1zm38 1h1v1h-1zm-20 2h1v1h-1zm1 1h1v1h-1zm1 1h1v1h-1zm1 1h1v1h-1zm1 1h1v2h-1zm9 0h1v1h-1zm1 1h1v11h-1zm10 0h1v8h-1zm-41 1h1v2h-1zm2 0h1v1h-1zm20 0h1v2h-1zm0 2h2v1h-2zm1 1h1v2h-1zm-20 2h1v1h-1zm21 0h1v1h-1zm0 1h2v1h-2zm1 1h1v1h-1zm-24 1h1v1h-1zm24 0h2v1h-2zm1 1h2v1h-2zm0 1h3v1h-3zm4 0h2v1h-2zm11 0h1v6h-1zm-14 1h5v1h-5zm1 1h4v4h-4zm-26 1h1v1h-1zm3 0h1v1h-1zm-2 3h1v1h-1zm22 0h8v1h-8zm15 0h1v1h-1zm-23 1h9v1h-9zm15 0h2v1h-2zm7 0h1v1h-1zm-35 1h1v1h-1zm12 0h1v1h-1zm18 0h1v1h-1zm4 0h1v1h-1zm-30 1h1v1h-1zm28 0h1v1h-1zm-31 1h1v1h-1zm11 0h1v1h-1zm4 4h1v1h-1zm-10 1h1v1h-1zm4 0h1v1h-1zm13 2h1v1h-1zm-13 1h1v1h-1zm1 1h1v1h-1z"/><path fill="#6b6bb5" d="m55 0h1v11h-1zm-12 2h1v1h-1zm-32 2h1v5h-1zm17 0h1v1h-1zm14 2h1v1h-1zm-13 1h1v1h-1zm12 1h1v1h-1zm-30 1h2v1h-2zm19 0h1v2h-1zm-19 1h1v5h-1zm43 2h1v1h-1zm-13 1h1v1h-1zm-28 1h1v1h-1zm17 1h1v1h-1zm14 1h1v1h-1zm-15 1h1v3h-1zm16 0h1v1h-1zm5 0h1v1h-1zm-4 1h1v2h-1zm-32 2h1v1h-1zm-2 1h1v2h-1zm19 1h1v1h-1zm12 0h1v2h-1zm-11 1h1v1h-1zm22 0h1v2h-1zm-21 1h1v2h-1zm-18 1h1v1h-1zm19 1h1v3h-1zm11 0h1v4h-1zm-32 2h1v2h-1zm22 1h1v2h-1zm0 2h2v1h-2zm1 1h1v1h-1zm0 1h2v1h-2zm18 0h1v3h-1zm-17 1h1v1h-1zm-23 1h1v2h-1zm3 0h1v1h-1zm20 0h2v1h-2zm1 1h1v1h-1zm0 1h2v1h-2zm0 1h3v1h-3zm7 0h1v4h-1zm-6 1h2v1h-2zm14 0h1v3h-1zm-38 1h1v1h-1zm23 0h3v1h-3zm-1 1h4v1h-4zm-7 1h8v1h-8zm16 0h1v1h-1zm6 0h1v1h-1zm-24 1h2v1h-2zm19 0h1v1h-1zm4 0h1v1h-1zm-23 1h1v1h-1zm20 0h3v1h-3zm-29 4h1v1h-1zm1 1h1v1h-1zm6 1h1v1h-1zm-2 2h1v1h-1zm12 0h1v1h-1zm-11 1h1v1h-1zm14 0h1v1h-1zm-8 1h1v1h-1zm1 1h1v1h-1z"/><path fill="#7070ab" d="m10 0h1v2h-1zm17 0h1v2h-1zm27 0h1v7h-1zm-44 2h2v2h-2zm33 1h1v1h-1zm-33 1h1v4h-1zm18 1h1v1h-1zm-16 3h1v1h-1zm17 0h1v1h-1zm12 1h1v4h-1zm-11 2h1v4h-1zm24 0h1v1h-1zm-41 2h1v1h-1zm40 0h1v1h-1zm-11 1h1v1h-1zm-31 1h1v2h-1zm32 0h1v1h-1zm-14 1h1v1h-1zm-1 2h1v1h-1zm19 0h1v1h-1zm-33 1h1v1h-1zm36 0h1v1h-1zm-21 1h1v1h-1zm16 0h1v1h-1zm-15 1h1v1h-1zm14 0h1v1h-1zm-32 2h1v2h-1zm19 0h1v1h-1zm1 1h1v2h-1zm12 0h1v1h-1zm1 1h1v1h-1zm8 0h1v14h-1zm-20 1h1v3h-1zm0 3h2v1h-2zm-20 1h1v2h-1zm3 0h1v1h-1zm18 0h1v2h-1zm11 0h1v8h-1zm-11 2h2v1h-2zm1 1h1v1h-1zm0 1h2v2h-2zm1 2h2v3h-2zm-22 1h1v1h-1zm4 1h1v1h-1zm17 1h4v1h-4zm-1 1h4v1h-4zm-15 1h1v1h-1zm11 0h7v1h-7zm16 0h1v1h-1zm6 0h1v1h-1zm-24 1h2v1h-2zm19 0h1v1h-1zm4 0h1v1h-1zm-35 1h1v1h-1zm4 0h1v1h-1zm28 0h1v1h-1zm2 0h1v1h-1zm-33 2h1v1h-1zm11 0h1v1h-1zm-6 1h1v1h-1zm-4 1h1v1h-1zm11 0h1v1h-1zm1 1h1v1h-1zm1 1h1v1h-1zm-10 1h1v1h-1zm13 1h1v1h-1zm-4 2h1v1h-1zm-4 1h1v1h-1zm1 1h1v1h-1zm6 0h1v1h-1z"/><path fill="#7676a0" d="m9 0h1v1h-1zm2 1h1v1h-1zm16 1h1v1h-1zm16 2h1v1h-1zm-15 2h1v1h-1zm-16 1h1v1h-1zm30 0h1v1h-1zm12 0h1v4h-1zm-44 1h1v3h-1zm19 1h1v2h-1zm13 4h1v1h-1zm10 1h1v1h-1zm-23 1h1v1h-1zm-18 2h1v2h-1zm17 0h1v1h-1zm18 0h1v1h-1zm2 1h2v1h-2zm-20 1h1v2h-1zm19 0h1v1h-1zm4 1h1v1h-1zm-22 1h1v1h-1zm1 1h1v1h-1zm23 0h1v1h-1zm-9 1h1v1h-1zm-29 1h1v1h-1zm16 0h1v1h-1zm22 0h1v1h-1zm-41 1h1v2h-1zm20 1h1v4h-1zm14 0h1v3h-1zm-30 3h1v1h-1zm16 1h2v1h-2zm1 1h1v2h-1zm-20 1h1v1h-1zm20 1h2v3h-2zm-16 1h1v1h-1zm16 2h3v2h-3zm-19 2h1v1h-1zm18 0h4v1h-4zm14 0h1v3h-1zm-16 1h5v1h-5zm22 0h1v2h-1zm-23 1h5v1h-5zm-14 1h1v1h-1zm12 0h3v1h-3zm20 0h1v1h-1zm4 0h1v1h-1zm-24 1h1v3h-1zm21 0h1v1h-1zm1 1h1v1h-1zm-21 3h1v1h-1zm-5 1h1v1h-1zm1 1h1v1h-1zm1 1h1v1h-1zm7 1h1v1h-1zm-10 1h1v1h-1zm1 1h1v1h-1zm6 0h1v1h-1zm6 0h1v1h-1zm3 1h1v1h-1zm-6 1h1v1h-1zm21 0h2v1h-2z"/><path fill="#7b7b96" d="m11 0h1v1h-1zm42 0h1v6h-1zm-44 1h1v3h-1zm18 2h1v2h-1zm16 2h1v1h-1zm-31 1h1v1h-1zm16 1h1v2h-1zm14 1h1v1h-1zm-32 3h1v2h-1zm19 0h1v4h-1zm-16 1h1v1h-1zm40 0h1v1h-1zm-10 2h1v1h-1zm8 1h1v1h-1zm-23 1h1v1h-1zm17 0h1v1h-1zm5 0h1v1h-1zm-23 1h1v4h-1zm20 0h3v1h-3zm-33 1h1v1h-1zm-3 1h1v2h-1zm37 0h2v1h-2zm-20 2h1v1h-1zm24 0h1v1h-1zm-23 1h1v1h-1zm15 0h1v1h-1zm-14 1h1v2h-1zm15 1h1v1h-1zm-15 1h2v1h-2zm16 0h1v1h-1zm6 0h1v6h-1zm-21 1h1v5h-1zm-19 1h1v1h-1zm34 2h1v9h-1zm-15 2h2v4h-2zm-18 2h1v2h-1zm17 2h3v2h-3zm22 0h1v4h-1zm-34 2h1v1h-1zm11 0h4v1h-4zm-1 1h4v1h-4zm-1 1h3v1h-3zm-8 1h1v1h-1zm8 0h2v1h-2zm20 0h1v1h-1zm4 0h1v1h-1zm-2 2h2v1h-2zm-33 2h1v1h-1zm5 0h1v1h-1zm-4 2h1v1h-1zm12 2h1v1h-1zm-1 3h1v1h-1zm5 0h1v1h-1zm-9 2h1v1h-1zm13 0h1v1h-1zm-12 1h1v1h-1zm21 0h7v1h-7zm-20 1h1v1h-1z"/><path fill="#81818c" d="m26 0h1v1h-1zm18 0h1v3h-1zm-35 4h1v3h-1zm3 1h1v1h-1zm15 0h1v1h-1zm26 1h1v2h-1zm-25 3h1v2h-1zm14 0h1v4h-1zm-29 2h1v1h-1zm40 0h1v1h-1zm-43 2h1v2h-1zm18 1h1v2h-1zm16 1h1v1h-1zm-17 1h1v1h-1zm-13 1h1v1h-1zm12 0h1v4h-1zm20 3h1v1h-1zm-35 1h1v2h-1zm16 0h1v1h-1zm18 0h1v1h-1zm-17 1h1v1h-1zm-13 1h1v1h-1zm13 0h2v1h-2zm25 0h1v1h-1zm-24 1h1v2h-1zm0 2h2v8h-2zm-17 2h1v1h-1zm4 0h1v1h-1zm36 3h1v4h-1zm-35 2h1v1h-1zm11 1h3v1h-3zm-15 1h1v1h-1zm15 0h2v1h-2zm-1 1h3v1h-3zm0 1h2v1h-2zm-1 1h2v1h-2zm21 0h1v2h-1zm-33 1h1v1h-1zm12 0h1v5h-1zm25 0h1v1h-1zm-3 2h3v1h-3zm-33 1h1v1h-1zm5 0h1v1h-1zm2 3h1v1h-1zm5 0h1v1h-1zm1 2h1v1h-1zm-10 1h1v1h-1zm1 1h1v1h-1zm11 0h1v1h-1zm1 1h1v1h-1zm3 2h1v1h-1zm-3 1h1v1h-1zm2 1h1v1h-1zm10 0h3v1h-3z"/><path fill="#868684" d="m52 0h1v4h-1zm-26 1h1v3h-1zm18 2h1v1h-1zm-17 3h1v3h-1zm16 0h1v1h-1zm-34 1h1v2h-1zm44 1h1v3h-1zm-25 3h1v3h-1zm24 2h1v1h-1zm-25 1h1v2h-1zm-17 1h1v2h-1zm16 1h1v1h-1zm20 0h1v1h-1zm-21 1h1v4h-1zm1 4h1v1h-1zm0 1h2v1h-2zm-15 1h1v1h-1zm16 0h1v1h-1zm18 0h1v1h-1zm-18 1h2v1h-2zm25 0h1v1h-1zm-24 1h1v3h-1zm19 1h1v4h-1zm4 0h1v3h-1zm-24 2h2v6h-2zm-15 1h1v2h-1zm14 5h2v2h-2zm-13 2h1v1h-1zm12 0h2v2h-2zm22 0h1v2h-1zm4 1h1v2h-1zm-26 1h1v3h-1zm23 1h1v1h-1zm-34 1h1v1h-1zm34 0h3v1h-3zm-22 4h1v1h-1zm-10 1h1v1h-1zm11 1h1v1h-1zm-7 4h1v1h-1zm7 0h1v1h-1zm-6 1h1v1h-1zm11 0h1v1h-1zm-2 1h1v1h-1zm6 1h1v1h-1zm6 1h1v1h-1zm11 1h2v1h-2z"/><path fill="#8c8c7e" d="m8 0h1v3h-1zm4 4h1v1h-1zm14 0h1v3h-1zm18 0h1v1h-1zm8 0h1v2h-1zm-9 3h1v1h-1zm-34 2h1v2h-1zm18 0h1v5h-1zm-14 1h1v1h-1zm30 3h1v1h-1zm-17 1h1v1h-1zm25 0h1v1h-1zm-26 1h2v1h-2zm20 0h1v1h-1zm-31 1h1v1h-1zm11 0h1v1h-1zm22 0h1v1h-1zm2 0h1v1h-1zm-39 1h1v2h-1zm14 0h1v4h-1zm23 3h1v1h-1zm3 0h1v1h-1zm-25 1h1v2h-1zm-10 1h1v1h-1zm30 0h1v1h-1zm-19 1h1v2h-1zm-15 1h1v2h-1zm35 0h1v1h-1zm-20 1h2v3h-2zm21 0h1v1h-1zm4 0h1v1h-1zm-3 1h1v1h-1zm-22 2h1v4h-1zm25 1h1v8h-1zm-4 1h1v6h-1zm-35 1h1v1h-1zm5 1h1v1h-1zm8 0h2v2h-2zm0 2h1v2h-1zm-7 2h1v1h-1zm-5 1h1v1h-1zm35 1h1v1h-1zm2 0h1v1h-1zm-31 1h1v1h-1zm30 0h2v1h-2zm-24 2h1v2h-1zm-10 2h1v1h-1zm6 0h1v1h-1zm2 3h1v1h-1zm-6 1h1v1h-1zm7 0h1v1h-1zm1 1h1v1h-1zm3 0h1v1h-1zm-2 1h1v1h-1zm3 0h1v1h-1zm1 1h1v1h-1zm-1 1h1v1h-1zm-7 1h1v1h-1zm11 0h1v1h-1zm-10 1h1v1h-1zm9 0h1v1h-1zm3 0h1v1h-1zm-11 1h1v1h-1zm17 0h1v1h-1zm-16 1h1v1h-1zm9 0h1v1h-1zm13 0h6v1h-6z"/><path fill="#929279" d="m25 0h1v6h-1zm-17 3h1v1h-1zm4 0h1v1h-1zm40 3h1v1h-1zm-26 1h1v6h-1zm-13 2h1v1h-1zm-4 2h1v2h-1zm34 1h1v1h-1zm9 0h1v1h-1zm-27 1h2v1h-2zm0 1h1v1h-1zm19 0h1v1h-1zm-20 1h1v1h-1zm26 0h1v1h-1zm-27 1h2v1h-2zm25 0h1v1h-1zm-25 1h1v4h-1zm-13 2h1v1h-1zm14 2h1v2h-1zm0 2h2v2h-2zm1 2h1v5h-1zm-14 1h1v1h-1zm38 0h2v1h-2zm-33 1h1v1h-1zm32 0h3v1h-3zm0 1h1v1h-1zm2 0h1v1h-1zm-26 2h2v2h-2zm-12 2h1v1h-1zm12 0h1v8h-1zm24 4h1v2h-1zm2 1h1v1h-1zm-1 1h1v1h-1zm-35 3h1v1h-1zm6 0h1v1h-1zm5 2h1v1h-1zm1 2h1v1h-1zm1 2h1v1h-1zm1 3h1v1h-1zm2 1h2v1h-2zm1 1h2v1h-2zm2 1h2v1h-2zm7 1h1v1h-1zm4 1h3v1h-3z"/><path fill="#989874" d="m24 0h1v6h-1zm21 0h1v2h-1zm6 0h1v5h-1zm-43 4h1v2h-1zm36 1h1v1h-1zm-20 1h2v7h-2zm28 1h1v2h-1zm-9 1h1v1h-1zm-34 5h1v1h-1zm14 0h2v2h-2zm-9 2h1v1h-1zm9 0h1v1h-1zm-1 1h1v5h-1zm-12 4h1v2h-1zm38 0h2v1h-2zm-33 1h1v1h-1zm8 0h1v4h-1zm23 0h1v1h-1zm6 1h1v2h-1zm-5 2h1v1h-1zm-24 1h2v5h-2zm25 0h3v1h-3zm-37 2h1v1h-1zm38 1h1v1h-1zm-1 1h1v7h-1zm2 0h1v2h-1zm-27 1h1v4h-1zm-6 1h1v1h-1zm-5 2h1v2h-1zm38 1h1v2h-1zm-32 1h1v1h-1zm31 1h2v1h-2zm0 1h1v1h-1zm-36 1h1v1h-1zm6 0h1v1h-1zm5 2h1v2h-1zm-9 4h1v1h-1zm7 0h1v1h-1zm3 0h1v1h-1zm-9 2h1v1h-1zm10 0h1v1h-1zm-9 2h1v1h-1zm10 0h1v1h-1zm-9 1h1v1h-1zm9 0h2v1h-2zm-8 1h1v1h-1zm10 0h1v1h-1zm10 4h1v1h-1zm-4 1h1v1h-1zm6 0h3v1h-3z"/><path fill="#9e9e6e" d="m23 0h1v7h-1zm-11 2h1v1h-1zm33 0h1v2h-1zm6 3h1v1h-1zm-43 1h1v2h-1zm36 0h1v1h-1zm-22 1h2v6h-2zm-9 1h1v1h-1zm30 1h1v3h-1zm9 0h1v3h-1zm-30 4h1v3h-1zm-13 1h1v2h-1zm37 1h1v1h-1zm3 0h1v1h-1zm-28 2h1v3h-1zm1 4h1v5h-1zm29 0h1v1h-1zm-41 1h1v1h-1zm36 1h1v1h-1zm5 1h1v1h-1zm-35 2h1v1h-1zm-5 2h1v2h-1zm38 1h1v2h-1zm0 2h2v3h-2zm-26 3h1v6h-1zm26 0h1v2h-1zm-37 1h1v1h-1zm1 4h1v1h-1zm7 1h1v1h-1zm-6 2h1v1h-1zm7 0h1v1h-1zm3 0h1v2h-1zm-1 3h1v1h-1zm2 0h1v1h-1zm-1 1h2v1h-2zm1 1h2v1h-2zm1 1h1v1h-1zm-6 3h1v1h-1zm1 1h1v1h-1zm1 1h1v1h-1zm1 1h1v1h-1zm11 0h1v1h-1zm3 0h2v1h-2zm-13 1h1v1h-1zm12 0h5v1h-5z"/><path fill="#a4a469" d="m7 0h1v2h-1zm14 0h2v7h-2zm29 0h1v3h-1zm-38 1h1v1h-1zm33 3h1v1h-1zm6 2h1v1h-1zm-30 1h1v10h-1zm-13 1h1v2h-1zm36 5h1v1h-1zm7 0h1v1h-1zm-37 1h1v1h-1zm31 0h1v1h-1zm5 0h1v1h-1zm-3 1h1v1h-1zm-38 1h1v2h-1zm6 4h1v1h-1zm6 0h1v3h-1zm25 2h1v1h-1zm-36 1h1v2h-1zm12 3h1v5h-1zm-11 4h1v1h-1zm7 4h1v1h-1zm-6 2h1v1h-1zm7 1h1v1h-1zm-6 3h1v1h-1zm10 0h1v2h-1zm-1 3h1v1h-1zm2 1h1v2h-1zm-9 1h1v1h-1zm1 2h1v1h-1zm19 7h2v1h-2z"/><path fill="#aaaa64" d="m20 0h1v19h-1zm26 0h1v2h-1zm-39 2h1v2h-1zm43 1h1v2h-1zm-37 4h1v1h-1zm31 0h1v1h-1zm-36 3h1v2h-1zm6 3h1v1h-1zm34 2h1v1h-1zm-39 3h1v1h-1zm38 3h1v1h-1zm-26 2h1v2h-1zm27 1h1v1h-1zm2 0h1v1h-1zm-40 1h1v1h-1zm6 0h1v1h-1zm1 5h1v1h-1zm-6 1h1v1h-1zm11 0h1v9h-1zm-2 8h1v1h-1zm1 2h1v1h-1zm1 1h2v1h-2zm-8 1h1v1h-1zm9 0h1v2h-1z"/><path fill="#b0b05e" d="m12 0h1v1h-1zm7 0h1v9h-1zm30 0h1v2h-1zm-3 2h1v2h-1zm-39 2h1v2h-1zm38 1h1v1h-1zm5 0h1v1h-1zm-37 1h1v1h-1zm38 1h1v1h-1zm-43 5h1v1h-1zm36 0h1v1h-1zm7 0h1v1h-1zm-42 7h1v2h-1zm6 0h1v1h-1zm5 0h1v2h-1zm27 4h1v1h-1zm4 0h1v1h-1zm-2 1h1v1h-1zm-28 1h1v3h-1zm-11 1h1v1h-1zm1 6h1v1h-1zm8 4h1v1h-1zm-7 1h1v1h-1zm9 2h1v1h-1zm0 1h2v1h-2zm-8 1h1v1h-1zm9 0h1v1h-1zm-8 3h1v1h-1zm1 2h1v1h-1zm2 3h1v1h-1zm1 1h1v1h-1zm1 1h1v1h-1zm1 1h1v1h-1zm1 1h1v1h-1zm1 1h1v1h-1zm-22 1h1v1h-1zm23 0h1v1h-1z"/><path fill="#b6b657" d="m18 0h1v3h-1zm29 0h2v2h-2zm0 2h1v1h-1zm2 0h1v2h-1zm-3 2h1v1h-1zm-39 2h1v2h-1zm37 2h1v1h-1zm7 0h1v1h-1zm-32 1h1v4h-1zm25 2h1v1h-1zm7 0h1v1h-1zm-37 1h1v1h-1zm-6 1h1v2h-1zm38 1h1v1h-1zm3 0h1v1h-1zm-34 4h1v1h-1zm-6 3h1v1h-1zm11 0h1v2h-1zm30 0h1v1h-1zm1 1h1v1h-1zm-35 2h1v1h-1zm-6 3h1v2h-1zm11 1h1v3h-1zm-4 1h1v1h-1zm-6 4h1v2h-1zm7 0h1v1h-1zm3 2h1v3h-1zm-9 3h1v1h-1zm8 0h2v1h-2zm-7 4h1v1h-1zm3 6h1v1h-1zm-16 3h1v2h-1zm0 2h2v2h-2zm1 2h2v1h-2z"/><path fill="#bbbb50" d="m6 0h1v2h-1zm42 2h1v1h-1zm-30 1h1v2h-1zm29 0h2v1h-2zm2 1h1v1h-1zm-36 1h1v1h-1zm32 1h1v1h-1zm5 0h1v1h-1zm-43 2h1v2h-1zm37 1h1v2h-1zm7 0h1v2h-1zm-32 4h1v3h-1zm26 0h1v1h-1zm5 0h1v1h-1zm-42 2h1v2h-1zm40 6h2v1h-2zm-39 1h1v2h-1zm38 0h1v1h-1zm-27 1h1v2h-1zm-10 6h1v1h-1zm11 2h1v4h-1zm-10 4h1v1h-1zm8 0h1v1h-1zm1 1h1v2h-1zm-8 3h1v1h-1zm2 6h1v1h-1zm1 2h1v1h-1zm-15 1h1v2h-1zm0 2h2v1h-2zm1 1h2v2h-2zm1 2h2v2h-2zm1 2h2v1h-2zm19 0h1v1h-1z"/><path fill="#c1c14a" d="m6 2h1v2h-1zm41 2h2v1h-2zm-29 1h1v3h-1zm28 0h1v1h-1zm3 0h1v1h-1zm-42 5h1v2h-1zm7 1h1v1h-1zm33 3h2v1h-2zm-28 2h1v3h-1zm-11 1h1v2h-1zm7 0h1v1h-1zm1 6h1v1h-1zm32 0h1v1h-1zm2 0h1v1h-1zm-41 1h1v2h-1zm11 1h1v2h-1zm-3 3h1v1h-1zm-7 2h1v2h-1zm8 2h1v1h-1zm2 2h1v2h-1zm-9 2h1v1h-1zm1 4h1v1h-1zm1 3h1v1h-1zm-13 1h1v2h-1zm0 2h2v2h-2zm1 2h2v2h-2zm1 2h2v1h-2zm15 0h1v1h-1zm-14 1h1v1h-1zm15 0h1v1h-1zm-15 1h2v1h-2zm16 0h1v1h-1zm-15 1h1v1h-1zm16 0h1v1h-1zm-16 1h2v1h-2zm17 0h1v1h-1zm-16 1h1v1h-1z"/><path fill="#c7c743" d="m6 4h1v3h-1zm7 0h1v1h-1zm32 3h1v1h-1zm5 0h1v1h-1zm-32 1h1v2h-1zm-4 2h1v1h-1zm-7 2h1v2h-1zm1 7h1v2h-1zm11 0h1v2h-1zm31 3h1v1h-1zm-1 1h1v1h-1zm-40 3h1v1h-1zm11 1h1v7h-1zm-10 5h1v1h-1zm9 2h1v1h-1zm-8 3h1v1h-1zm-11 3h1v2h-1zm12 1h1v1h-1zm-12 1h2v2h-2zm1 2h2v2h-2zm1 2h2v2h-2zm12 0h1v1h-1zm-11 2h1v1h-1zm12 0h1v1h-1zm-12 1h2v1h-2zm13 0h1v1h-1zm-12 1h1v1h-1zm0 1h2v1h-2zm1 1h1v1h-1zm0 1h2v1h-2zm1 1h2v2h-2z"/><path fill="#cdcd3d" d="m5 0h1v2h-1zm12 0h1v2h-1zm-4 3h1v1h-1zm34 2h2v1h-2zm-1 1h1v1h-1zm3 0h1v1h-1zm-43 1h1v2h-1zm39 1h1v1h-1zm5 0h1v1h-1zm-32 2h1v3h-1zm27 2h1v1h-1zm5 0h1v1h-1zm-4 1h1v1h-1zm3 0h1v1h-1zm-42 1h1v3h-1zm8 2h1v1h-1zm-7 5h1v2h-1zm11 0h1v2h-1zm-3 1h1v1h-1zm32 0h2v1h-2zm-39 5h1v2h-1zm8 0h1v1h-1zm1 4h1v1h-1zm1 1h1v2h-1zm-9 1h1v2h-1zm-10 1h1v2h-1zm0 2h2v2h-2zm0 2h3v2h-3zm11 0h1v1h-1zm-10 2h2v2h-2zm1 2h2v2h-2zm10 0h1v1h-1zm-9 2h1v1h-1zm10 0h1v1h-1zm-10 1h2v1h-2zm1 1h1v1h-1zm0 1h2v2h-2zm1 2h2v2h-2zm1 2h2v2h-2zm1 2h2v1h-2zm12 0h1v1h-1zm-11 1h1v1h-1zm12 0h1v1h-1zm-12 1h2v1h-2zm13 0h1v1h-1z"/><path fill="#d3d336" d="m5 2h1v5h-1zm12 0h1v3h-1zm-17 6h1v8h-1zm6 1h1v4h-1zm8 0h1v1h-1zm31 2h1v1h-1zm5 0h1v1h-1zm-32 2h1v3h-1zm-18 3h2v10h-2zm7 1h1v3h-1zm9 4h1v1h-1zm-8 2h1v3h-1zm11 0h1v3h-1zm-19 3h3v6h-3zm9 3h1v3h-1zm9 1h2v1h-2zm1 1h1v1h-1zm-19 1h4v2h-4zm1 2h3v2h-3zm9 1h1v2h-1zm-8 1h3v2h-3zm1 2h2v3h-2zm8 1h1v1h-1zm-8 2h3v1h-3zm1 1h2v3h-2zm8 1h1v1h-1zm-7 2h2v2h-2zm8 0h1v1h-1zm-7 2h1v1h-1zm8 0h1v1h-1zm-8 1h2v1h-2zm1 1h1v1h-1zm8 0h1v1h-1zm-8 1h2v1h-2zm9 0h1v1h-1zm-8 1h2v2h-2zm9 0h1v1h-1zm1 1h1v1h-1zm-9 1h2v2h-2zm1 2h2v1h-2z"/><path fill="#dddd2a" d="m13 1h1v1h-1zm4 6h1v2h-1zm29 5h1v1h-1zm3 0h1v1h-1zm-34 2h1v1h-1zm3 5h1v4h-1zm-2 1h1v1h-1zm1 5h1v1h-1zm1 2h1v2h-1zm-9 9h1v2h-1zm-1 2h2v1h-2zm0 1h3v3h-3zm0 3h4v1h-4zm1 1h3v2h-3zm0 2h4v2h-4zm1 2h4v2h-4zm1 2h4v1h-4zm0 1h5v1h-5zm1 1h5v1h-5zm1 1h4v1h-4zm0 1h5v1h-5zm1 1h5v1h-5zm0 1h6v1h-6z"/><path fill="#e2e224" d="m16 0h1v1h-1zm-2 7h1v1h-1zm33 0h2v1h-2zm-1 1h1v1h-1zm3 0h1v1h-1zm-32 1h1v3h-1zm-2 4h1v1h-1zm1 6h1v1h-1zm2 4h1v1h-1zm-1 1h2v1h-2zm1 1h1v2h-1z"/><path fill="#e7e71e" d="m13 0h1v1h-1zm3 1h1v2h-1zm-2 5h1v1h-1zm32 5h1v1h-1zm3 0h1v1h-1zm-34 1h1v1h-1zm2 0h1v6h-1zm30 0h1v1h-1zm-31 6h2v1h-2zm1 1h1v5h-1z"/><path fill="#ebeb18" d="m16 3h1v3h-1zm-2 2h1v1h-1zm33 3h2v1h-2zm-1 1h1v2h-1zm3 0h1v2h-1zm-34 2h1v1h-1zm33 1h1v1h-1zm-32 4h1v2h-1z"/><path fill="#f0f012" d="m14 4h1v1h-1zm2 2h1v4h-1zm-1 4h2v1h-2zm1 1h1v5h-1z"/><path fill="#f5f50c" d="m15 0h1v1h-1zm-1 3h1v1h-1zm1 4h1v3h-1zm32 2h2v1h-2zm0 2h2v1h-2z"/><path fill="#fafa06" d="m14 1h2v2h-2zm1 2h1v4h-1zm32 7h2v1h-2z"/><path fill="#ffff00" d="m14 0h1v1h-1z"/></g>
<path d="M162.0 976.9000000000001v-3.5M162.0 703.6v3.5M135 950.1h3.5M409.2 950.1h-3.5M210.6 976.9000000000001v-3.5M210.6 703.6v3.5M135 901.8h3.5M409.2 901.8h-3.5M259.2 976.9000000000001v-3.5M259.2 703.6v3.5M135 853.5h3.5M409.2 853.5h-3.5M307.8 976.9000000000001v-3.5M307.8 703.6v3.5M135 805.2h3.5M409.2 805.2h-3.5M356.4 976.9000000000001v-3.5M356.4 703.6v3.5M135 757.0h3.5M409.2 757.0h-3.5M405.0 976.9000000000001v-3.5M405.0 703.6v3.5M135 708.7h3.5M409.2 708.7h-3.5" stroke="#262626" stroke-width="1.6" fill="none"/><rect x="135" y="703.6" width="274.2" height="273.3" fill="none" stroke="#262626" stroke-width="1.8"/><g class="s" font-size="31" fill="#262626" text-anchor="end"><text x="124.5" y="961.1">40</text><text x="124.5" y="912.8">60</text><text x="124.5" y="864.5">80</text><text x="124.5" y="816.2">100</text><text x="124.5" y="768.0">120</text><text x="124.5" y="719.7">140</text></g><g class="s" font-size="31" fill="#262626" text-anchor="middle"><text x="162.0" y="1016.2">40</text><text x="210.6" y="1016.2">60</text><text x="259.2" y="1016.2">80</text><text x="307.8" y="1016.2">100</text><text x="356.4" y="1016.2">120</text><text x="405.0" y="1016.2">140</text></g><text class="s" font-size="33" fill="#262626" text-anchor="middle" x="271.1" y="1055.9"><tspan font-style="italic">Lx</tspan> (μm)</text><text class="s" font-size="34.2" fill="#262626" text-anchor="middle" x="65.5" y="840.9" transform="rotate(-90 65.5 840.9)"><tspan font-style="italic">Ly</tspan> (μm)</text><rect x="442" y="703.6" width="27.5" height="273.3" fill="url(#cb)" stroke="#262626" stroke-width="1"/><text class="s" font-size="31" fill="#262626" x="479.5" y="715.0">0.8</text><text class="s" font-size="31" fill="#262626" x="479.5" y="988.3">0.5</text>
<g shape-rendering="crispEdges" transform="translate(614.2 703.6) scale(4.88036 4.88036)"><path fill="#d8d830" d="M0 0h56v56H0z"/><path fill="#0000ff" d="m55 18h1v3h-1z"/><path fill="#0000ff" d="m37 0h1v1h-1zm17 19h1v2h-1z"/><path fill="#0000ff" d="m36 0h1v1h-1zm19 17h1v1h-1zm-1 1h1v1h-1zm1 3h1v1h-1z"/><path fill="#0000ff" d="m54 17h1v1h-1zm-1 2h1v2h-1zm1 2h1v1h-1z"/><path fill="#0000ff" d="m38 0h1v1h-1zm-1 1h1v1h-1zm16 17h1v1h-1zm2 4h1v1h-1z"/><path fill="#0000ff" d="m55 16h1v1h-1zm-2 1h1v1h-1zm0 4h1v1h-1zm1 1h1v1h-1z"/><path fill="#0000ff" d="m36 1h1v1h-1zm2 0h1v1h-1zm16 15h1v1h-1zm-2 2h1v3h-1z"/><path fill="#0000ff" d="m52 21h1v1h-1zm1 1h1v1h-1zm2 1h1v1h-1z"/><path fill="#0000ff" d="m35 0h1v1h-1zm18 16h1v1h-1zm-1 1h1v1h-1zm2 6h1v1h-1z"/><path fill="#0606ff" d="m39 0h1v1h-1zm16 15h1v1h-1zm-4 3h1v3h-1zm1 4h1v1h-1zm1 1h1v1h-1z"/><path fill="#0d0dff" d="m37 2h1v1h-1zm17 13h1v1h-1zm-2 1h1v1h-1zm-1 5h1v1h-1zm4 3h1v1h-1z"/><path fill="#1515ff" d="m4 0h5v1h-5zm31 1h1v1h-1zm4 0h1v1h-1zm-3 1h1v1h-1zm2 0h1v1h-1zm15 13h1v1h-1zm-2 2h1v1h-1zm1 6h1v1h-1zm2 1h1v1h-1z"/><path fill="#1c1cff" d="m3 0h1v1h-1zm6 0h1v1h-1zm41 18h1v3h-1zm1 4h1v1h-1zm2 2h1v1h-1z"/><path fill="#2323ff" d="m2 0h1v1h-1zm8 0h1v1h-1zm42 15h1v1h-1zm-1 1h1v1h-1zm-1 5h1v1h-1zm1 2h1v1h-1zm4 2h1v1h-1z"/><path fill="#2b2bff" d="m11 0h1v1h-1zm23 0h1v1h-1zm21 14h1v1h-1zm-5 3h1v1h-1zm0 5h1v1h-1zm2 2h1v1h-1zm2 1h1v1h-1z"/><path fill="#3232ff" d="m12 0h2v1h-2zm28 0h1v1h-1zm-1 2h1v1h-1zm15 12h1v1h-1zm-4 2h1v1h-1zm-1 2h1v3h-1zm1 5h1v1h-1z"/><path fill="#3a3aff" d="m14 0h17v1h-17zm23 3h1v1h-1zm16 11h1v1h-1zm-2 1h1v1h-1zm-2 2h1v1h-1zm-12 1h1v2h-1zm12 3h1v2h-1zm2 3h1v1h-1zm2 1h1v1h-1z"/><path fill="#4040fc" d="m40 1h1v1h-1zm-5 1h1v1h-1zm1 1h1v1h-1zm2 0h1v1h-1zm14 11h1v1h-1zm-15 1h1v1h-1zm-1 1h2v1h-2zm0 1h3v1h-3zm0 1h1v2h-1zm2 0h1v2h-1zm10 1h1v2h-1zm-12 1h3v1h-3zm1 1h1v1h-1zm12 2h1v1h-1zm3 2h1v1h-1z"/><path fill="#4444f5" d="m34 1h1v1h-1zm2 13h2v1h-2zm0 1h1v1h-1zm2 0h1v2h-1zm12 0h1v1h-1zm-15 1h1v5h-1zm14 0h1v1h-1zm-1 1h1v2h-1zm-12 4h1v1h-1zm2 0h1v1h-1zm10 0h1v2h-1zm2 3h1v1h-1zm5 2h1v1h-1z"/><path fill="#4949ee" d="m41 0h1v1h-1zm-36 1h2v1h-2zm1 9h1v1h-1zm-1 1h2v1h-2zm1 1h1v3h-1zm30 1h2v1h-2zm19 0h1v1h-1zm-17 1h1v1h-1zm13 0h1v1h-1zm-16 1h1v1h-1zm4 1h1v6h-1zm8 2h1v4h-1zm-13 1h1v1h-1zm1 2h1v1h-1zm1 1h3v1h-3zm12 1h1v1h-1zm1 1h1v1h-1zm2 1h1v1h-1zm3 1h1v1h-1z"/><path fill="#4d4de7" d="m1 0h1v1h-1zm32 0h1v1h-1zm-30 1h2v1h-2zm4 0h2v1h-2zm-4 1h6v1h-6zm37 0h1v1h-1zm-37 1h5v1h-5zm36 0h1v1h-1zm-35 1h3v2h-3zm0 2h2v1h-2zm0 1h3v2h-3zm0 2h4v1h-4zm0 1h2v1h-2zm3 0h2v5h-2zm-3 1h1v1h-1zm0 1h2v2h-2zm34 1h1v1h-1zm16 0h1v1h-1zm-49 1h1v1h-1zm30 0h1v1h-1zm-30 1h4v3h-4zm29 0h1v4h-1zm5 0h1v1h-1zm10 0h1v1h-1zm-1 1h1v1h-1zm-8 1h1v5h-1zm7 0h1v1h-1zm-41 1h2v1h-2zm1 1h1v1h-1zm27 1h1v1h-1zm1 2h1v1h-1zm4 0h1v1h-1zm8 0h1v1h-1zm-10 1h1v1h-1zm16 3h1v1h-1z"/><path fill="#5252e0" d="m9 1h1v2h-1zm32 0h1v1h-1zm-33 2h1v1h-1zm-5 1h1v10h-1zm4 0h2v1h-2zm30 0h1v1h-1zm-30 1h1v1h-1zm-1 1h2v1h-2zm1 1h1v1h-1zm0 1h2v1h-2zm1 1h1v1h-1zm1 1h1v8h-1zm27 2h2v1h-2zm-1 1h1v1h-1zm18 0h1v1h-1zm-49 1h1v4h-1zm30 0h1v1h-1zm5 0h1v1h-1zm11 0h1v1h-1zm-17 2h1v4h-1zm7 0h1v1h-1zm7 0h1v1h-1zm-1 1h1v6h-1zm-41 1h1v1h-1zm3 0h2v2h-2zm33 0h1v4h-1zm-36 1h2v1h-2zm1 1h3v2h-3zm28 1h1v1h-1zm-27 1h2v1h-2zm33 0h1v1h-1zm-32 1h1v1h-1zm28 0h1v1h-1zm2 0h1v1h-1zm9 0h1v1h-1zm1 1h1v1h-1zm2 1h1v1h-1zm2 1h1v1h-1zm-47 5h1v1h-1zm1 1h1v1h-1zm0 1h2v1h-2zm1 1h2v1h-2zm1 1h3v1h-3zm2 1h2v1h-2zm2 1h2v1h-2zm2 1h3v1h-3zm3 1h4v1h-4z"/><path fill="#5656d9" d="m2 1h1v4h-1zm8 0h1v2h-1zm-1 2h1v2h-1zm29 1h1v1h-1zm-30 1h1v3h-1zm1 3h1v2h-1zm1 3h1v8h-1zm26 0h2v1h-2zm-1 1h1v1h-1zm3 0h1v1h-1zm1 1h1v1h-1zm13 0h1v1h-1zm-49 1h1v3h-1zm30 1h1v1h-1zm7 0h1v1h-1zm8 0h1v1h-1zm-16 1h1v4h-1zm9 0h1v2h-1zm5 0h1v1h-1zm-1 1h1v1h-1zm-41 1h1v1h-1zm38 0h4v4h-4zm-37 2h1v1h-1zm4 0h1v4h-1zm24 0h1v1h-1zm-27 2h1v1h-1zm28 0h1v1h-1zm7 0h1v1h-1zm3 0h2v1h-2zm-37 1h1v1h-1zm28 0h1v1h-1zm4 0h1v1h-1zm7 0h1v1h-1zm-38 1h2v1h-2zm29 0h2v1h-2zm10 0h1v1h-1zm2 1h1v1h-1zm2 1h1v1h-1zm4 1h1v1h-1zm-52 1h1v1h-1zm0 1h2v1h-2zm1 1h2v1h-2zm1 2h1v1h-1zm4 2h1v1h-1zm0 2h1v1h-1zm3 0h1v1h-1zm-1 1h1v1h-1zm3 0h1v1h-1zm-1 1h1v1h-1zm4 0h1v1h-1zm-1 1h1v1h-1zm5 0h1v1h-1zm-1 1h7v1h-7z"/><path fill="#5b5bd2" d="m0 0h1v1h-1zm32 0h1v1h-1zm10 0h1v1h-1zm-31 1h2v1h-2zm0 1h1v1h-1zm23 0h1v1h-1zm-24 1h1v1h-1zm25 0h1v1h-1zm1 1h1v1h-1zm-34 1h1v8h-1zm7 0h1v3h-1zm1 4h1v2h-1zm1 2h1v6h-1zm23 2h1v1h-1zm17 0h1v1h-1zm-25 1h8v1h-8zm14 0h1v1h-1zm9 0h1v1h-1zm-24 1h8v1h-8zm16 0h1v1h-1zm6 0h1v1h-1zm-21 1h6v1h-6zm16 0h1v1h-1zm3 0h1v1h-1zm-42 1h1v1h-1zm24 0h5v1h-5zm15 0h3v1h-3zm-13 1h3v1h-3zm-25 1h1v1h-1zm6 0h1v6h-1zm21 0h1v1h-1zm1 1h1v1h-1zm-27 1h1v1h-1zm28 0h1v1h-1zm9 1h2v1h-2zm-2 1h2v1h-2zm4 0h2v1h-2zm-8 1h1v1h-1zm3 0h1v1h-1zm-30 1h2v1h-2zm-8 1h1v1h-1zm0 1h2v1h-2zm53 0h1v1h-1zm-52 1h1v1h-1zm1 2h1v1h-1zm1 1h1v1h-1zm2 0h1v1h-1zm2 2h1v1h-1zm-2 1h1v1h-1zm1 1h1v1h-1zm3 2h1v1h-1zm5 0h1v1h-1zm-3 1h1v1h-1zm6 0h1v1h-1zm-3 1h1v1h-1zm7 0h1v1h-1zm-4 1h2v1h-2zm9 0h1v1h-1zm-2 1h8v1h-8zm8 1h5v1h-5z"/><path fill="#6060c9" d="m31 0h1v1h-1zm-18 1h1v1h-1zm20 0h1v1h-1zm-21 1h1v1h-1zm29 0h1v1h-1zm-30 1h1v1h-1zm29 0h1v1h-1zm-30 1h1v2h-1zm0 3h1v2h-1zm1 2h1v2h-1zm25 1h2v1h-2zm-24 1h1v6h-1zm23 0h1v1h-1zm3 0h1v1h-1zm-18 1h11v1h-11zm14 0h1v1h-1zm5 0h1v1h-1zm-37 1h1v2h-1zm17 0h15v1h-15zm1 1h6v1h-6zm28 0h1v1h-1zm-27 1h4v1h-4zm21 0h1v1h-1zm4 0h1v1h-1zm-24 1h4v1h-4zm21 0h2v1h-2zm-32 1h1v9h-1zm13 0h3v1h-3zm-21 1h1v1h-1zm22 0h4v1h-4zm3 1h3v1h-3zm-24 1h1v1h-1zm26 0h2v1h-2zm2 1h1v1h-1zm1 1h1v1h-1zm-27 1h1v1h-1zm28 0h1v1h-1zm8 0h2v1h-2zm-42 1h1v1h-1zm7 0h1v1h-1zm28 0h1v1h-1zm5 0h1v1h-1zm5 0h2v1h-2zm-45 1h2v1h-2zm8 0h1v1h-1zm28 0h3v1h-3zm12 0h1v1h-1zm-48 1h1v1h-1zm2 0h1v1h-1zm8 0h1v1h-1zm40 0h1v1h-1zm-47 1h1v1h-1zm50 0h1v1h-1zm-51 2h1v1h-1zm5 3h1v1h-1zm-2 1h1v1h-1zm6 2h1v1h-1zm-3 1h1v1h-1zm5 0h1v1h-1zm6 2h1v1h-1zm-5 1h1v1h-1zm9 0h1v1h-1zm-6 1h1v1h-1zm11 0h1v1h-1zm-6 1h3v1h-3zm11 0h2v1h-2zm-3 1h3v1h-3zm8 0h2v1h-2zm1 1h4v1h-4z"/><path fill="#6565bf" d="m43 0h2v1h-2zm-29 1h6v1h-6zm9 0h8v1h-8zm19 0h1v1h-1zm-29 1h1v1h-1zm-1 1h1v1h-1zm-1 1h1v1h-1zm28 0h1v1h-1zm-2 1h1v1h-1zm-27 1h1v1h-1zm1 2h1v1h-1zm1 1h1v1h-1zm0 1h2v1h-2zm1 1h18v1h-18zm0 1h7v1h-7zm18 0h1v1h-1zm23 0h2v1h-2zm-41 1h6v1h-6zm27 0h1v1h-1zm10 0h1v1h-1zm-37 1h7v1h-7zm28 0h1v1h-1zm-39 1h1v1h-1zm11 0h1v2h-1zm5 0h3v1h-3zm25 0h3v1h-3zm-24 1h3v1h-3zm-7 1h2v1h-2zm9 0h3v1h-3zm-9 1h1v8h-1zm11 0h2v1h-2zm2 1h3v1h-3zm2 1h3v1h-3zm3 1h2v1h-2zm-25 1h1v1h-1zm27 0h1v1h-1zm1 1h1v1h-1zm1 1h1v1h-1zm7 0h4v1h-4zm-6 1h1v1h-1zm4 0h1v1h-1zm8 0h1v1h-1zm-38 1h1v1h-1zm2 0h1v1h-1zm38 0h1v1h-1zm-49 1h1v1h-1zm52 0h1v1h-1zm-51 1h1v1h-1zm3 0h1v1h-1zm0 4h1v1h-1zm6 2h1v1h-1zm-1 3h1v1h-1zm7 0h1v1h-1zm-5 1h1v1h-1zm2 1h1v1h-1zm11 0h1v1h-1zm-8 1h1v1h-1zm13 0h1v1h-1zm-8 1h1v1h-1zm7 1h2v1h-2zm12 0h1v1h-1zm-5 1h4v1h-4zm8 0h3v1h-3z"/><path fill="#6b6bb5" d="m45 0h11v1h-11zm-25 1h3v1h-3zm11 0h2v1h-2zm12 0h1v1h-1zm-29 1h3v1h-3zm-1 1h1v1h-1zm-1 1h1v1h-1zm-1 1h1v3h-1zm27 0h1v1h-1zm-26 3h1v1h-1zm1 1h1v1h-1zm23 0h2v1h-2zm-22 1h4v1h-4zm12 0h4v1h-4zm12 0h1v1h-1zm1 1h1v1h-1zm-7 1h2v1h-2zm21 0h1v1h-1zm-4 1h1v1h-1zm-7 1h1v1h-1zm5 0h1v1h-1zm-33 1h4v1h-4zm-12 1h1v1h-1zm12 0h5v1h-5zm0 1h2v1h-2zm3 0h4v1h-4zm-4 1h2v1h-2zm7 0h3v1h-3zm-17 1h1v1h-1zm10 0h1v7h-1zm9 0h3v1h-3zm2 1h3v1h-3zm3 1h3v1h-3zm3 1h2v1h-2zm-30 1h1v1h-1zm32 0h1v1h-1zm-31 1h1v1h-1zm32 0h1v1h-1zm7 1h1v1h-1zm5 0h2v1h-2zm-33 1h1v1h-1zm24 0h3v1h-3zm12 0h1v1h-1zm-37 1h2v1h-2zm40 0h1v1h-1zm-46 2h1v1h-1zm-3 1h1v1h-1zm1 1h1v1h-1zm3 4h1v1h-1zm1 1h1v1h-1zm13 2h1v1h-1zm-5 2h1v1h-1zm15 0h1v1h-1zm-11 1h2v1h-2zm16 0h1v1h-1zm-9 1h2v1h-2zm15 0h1v1h-1zm-8 1h2v1h-2zm13 0h1v1h-1zm-5 1h11v1h-11z"/><path fill="#7070ab" d="m44 1h1v1h-1zm5 0h7v1h-7zm-32 1h14v1h-14zm25 0h1v1h-1zm-28 1h1v1h-1zm-1 1h1v1h-1zm-1 1h1v1h-1zm24 0h1v1h-1zm-24 2h1v1h-1zm1 1h1v1h-1zm24 0h1v1h-1zm-23 1h1v1h-1zm4 1h8v1h-8zm12 0h1v1h-1zm5 0h1v1h-1zm-4 1h1v1h-1zm3 0h1v1h-1zm6 1h1v1h-1zm12 0h1v1h-1zm-11 1h1v1h-1zm2 1h4v1h-4zm-27 3h1v1h-1zm-1 1h5v1h-5zm-1 1h8v1h-8zm0 1h3v1h-3zm6 0h4v1h-4zm-16 1h1v1h-1zm10 0h2v1h-2zm9 0h4v1h-4zm-23 1h1v1h-1zm14 0h1v4h-1zm12 0h4v1h-4zm4 1h2v1h-2zm-24 1h1v1h-1zm26 0h1v1h-1zm-30 1h1v1h-1zm5 0h1v1h-1zm27 0h1v1h-1zm7 0h4v1h-4zm-33 1h1v1h-1zm5 0h1v2h-1zm22 0h1v1h-1zm4 0h1v1h-1zm8 0h1v1h-1zm-37 1h1v1h-1zm27 0h1v1h-1zm13 0h1v1h-1zm-50 1h1v1h-1zm54 0h2v1h-2zm-53 1h1v1h-1zm8 4h1v1h-1zm-4 1h1v1h-1zm7 1h1v1h-1zm2 1h1v1h-1zm-6 1h1v1h-1zm9 0h1v1h-1zm-7 1h1v1h-1zm2 1h1v1h-1zm13 0h1v1h-1zm-7 2h1v1h-1zm18 0h1v1h-1zm-12 1h2v1h-2zm18 0h1v1h-1zm-11 1h2v1h-2zm16 0h1v1h-1zm-8 1h2v1h-2zm13 0h2v1h-2zm-4 1h8v1h-8z"/><path fill="#7676a0" d="m1 1h1v2h-1zm44 0h4v1h-4zm-14 1h1v1h-1zm2 0h1v1h-1zm-18 1h2v1h-2zm26 0h1v1h-1zm-27 1h1v1h-1zm21 0h1v1h-1zm-23 2h1v1h-1zm25 0h1v2h-1zm-24 1h1v1h-1zm1 1h1v1h-1zm22 0h1v1h-1zm-21 1h3v1h-3zm12 0h3v1h-3zm11 0h1v1h-1zm-6 2h1v1h-1zm19 1h1v1h-1zm-9 1h1v1h-1zm6 0h1v1h-1zm-46 4h1v1h-1zm1 3h1v1h-1zm14 0h3v1h-3zm-1 1h7v1h-7zm-1 1h11v1h-11zm-14 1h1v1h-1zm4 0h1v1h-1zm10 0h3v1h-3zm10 0h5v1h-5zm-10 1h2v2h-2zm16 0h1v1h-1zm2 1h1v1h-1zm-30 1h1v1h-1zm11 0h2v1h-2zm20 0h1v1h-1zm6 0h1v1h-1zm5 0h2v1h-2zm-36 1h1v1h-1zm5 0h1v1h-1zm21 0h2v1h-2zm3 0h1v1h-1zm11 0h1v1h-1zm-38 1h4v1h-4zm42 0h1v1h-1zm-47 2h1v1h-1zm1 1h1v1h-1zm-4 1h1v1h-1zm5 0h1v1h-1zm-4 1h1v1h-1zm17 5h1v1h-1zm5 1h1v1h-1zm-12 1h1v1h-1zm17 0h1v1h-1zm-14 1h1v1h-1zm6 1h1v1h-1zm6 1h2v1h-2zm19 0h1v1h-1zm-11 1h2v1h-2zm17 0h1v1h-1zm-9 1h3v1h-3zm10 1h1v1h-1z"/><path fill="#7b7b96" d="m43 2h1v1h-1zm7 0h6v1h-6zm-49 1h1v7h-1zm16 0h4v1h-4zm8 0h6v1h-6zm9 0h1v1h-1zm-19 1h1v1h-1zm25 0h1v1h-1zm-27 1h1v2h-1zm26 0h1v1h-1zm-3 1h1v2h-1zm2 0h1v3h-1zm-23 2h1v1h-1zm3 1h9v1h-9zm12 0h1v1h-1zm1 1h1v1h-1zm8 0h1v1h-1zm-6 1h1v1h-1zm8 1h1v1h-1zm9 0h1v1h-1zm-3 1h1v1h-1zm-45 5h1v1h-1zm2 4h1v1h-1zm14 1h7v1h-7zm-1 1h14v1h-14zm0 1h4v1h-4zm13 0h3v1h-3zm-23 1h1v1h-1zm9 0h3v1h-3zm17 0h1v1h-1zm8 0h4v1h-4zm-37 1h1v1h-1zm11 0h3v1h-3zm19 0h1v1h-1zm5 0h1v1h-1zm8 0h2v1h-2zm-32 1h2v1h-2zm20 0h4v1h-4zm16 0h2v1h-2zm-51 1h1v1h-1zm1 1h1v1h-1zm1 1h1v1h-1zm9 3h1v1h-1zm4 2h1v1h-1zm3 1h1v1h-1zm-9 1h1v1h-1zm2 1h1v1h-1zm26 2h1v1h-1zm-16 1h2v1h-2zm22 0h1v1h-1zm-15 1h1v1h-1zm21 0h1v1h-1zm-14 1h2v1h-2zm20 0h1v1h-1zm-12 1h2v1h-2zm9 1h3v1h-3z"/><path fill="#81818c" d="m32 2h1v1h-1zm12 0h1v1h-1zm4 0h2v1h-2zm-27 1h4v1h-4zm-5 1h1v1h-1zm-2 1h1v3h-1zm2 3h2v1h-2zm19 1h1v1h-1zm-34 1h1v3h-1zm33 0h1v1h-1zm6 1h1v1h-1zm13 0h3v1h-3zm-10 2h4v1h-4zm-40 8h1v1h-1zm-2 1h1v1h-1zm1 2h1v1h-1zm3 0h1v1h-1zm1 1h1v1h-1zm15 0h9v1h-9zm-2 1h14v1h-14zm-11 1h1v1h-1zm10 0h4v1h-4zm14 0h2v1h-2zm8 0h2v1h-2zm5 0h2v1h-2zm-35 1h1v1h-1zm7 0h3v1h-3zm17 0h1v1h-1zm5 0h1v1h-1zm11 0h1v1h-1zm-38 1h6v1h-6zm23 0h4v1h-4zm20 0h1v1h-1zm-45 4h1v1h-1zm3 2h1v1h-1zm-7 1h1v1h-1zm1 1h1v1h-1zm15 1h1v1h-1zm5 1h1v1h-1zm-14 1h1v1h-1zm19 0h1v1h-1zm-16 1h1v1h-1zm22 0h1v1h-1zm-18 1h1v1h-1zm24 0h1v1h-1zm-17 1h1v1h-1zm23 0h1v1h-1zm-17 1h2v1h-2zm8 1h2v1h-2zm8 1h3v1h-3z"/><path fill="#868684" d="m0 1h1v2h-1zm45 1h3v1h-3zm-14 1h1v1h-1zm11 0h1v1h-1zm10 0h4v1h-4zm-35 1h2v1h-2zm10 0h3v1h-3zm-12 1h1v2h-1zm0 2h2v1h-2zm3 1h2v1h-2zm8 0h4v1h-4zm13 1h1v1h-1zm-7 1h1v1h-1zm20 1h1v1h-1zm-3 1h1v1h-1zm-48 1h1v1h-1zm1 6h1v1h-1zm2 4h1v1h-1zm-1 2h1v1h-1zm19 2h10v1h-10zm20 0h3v1h-3zm-37 1h1v1h-1zm4 0h1v1h-1zm11 0h8v1h-8zm11 0h3v1h-3zm9 0h2v1h-2zm7 0h3v1h-3zm-36 1h1v1h-1zm7 0h4v1h-4zm15 0h2v1h-2zm6 0h1v1h-1zm13 0h3v1h-3zm-37 1h5v1h-5zm20 0h4v1h-4zm-31 4h1v1h-1zm1 1h1v1h-1zm5 4h1v1h-1zm5 2h1v1h-1zm4 1h1v1h-1zm6 1h2v1h-2zm7 1h1v1h-1zm7 1h2v1h-2zm8 1h2v1h-2z"/><path fill="#8c8c7e" d="m0 3h1v6h-1zm50 0h2v1h-2zm-31 1h8v1h-8zm11 0h1v1h-1zm11 0h1v1h-1zm-25 1h2v1h-2zm19 0h1v1h-1zm-19 1h1v1h-1zm23 0h1v1h-1zm-22 1h1v1h-1zm12 0h1v1h-1zm-9 1h6v1h-6zm10 0h1v1h-1zm5 0h1v1h-1zm4 0h1v1h-1zm-8 1h1v1h-1zm2 1h1v1h-1zm7 0h1v1h-1zm11 1h1v1h-1zm-9 1h1v1h-1zm6 0h1v1h-1zm-47 2h1v1h-1zm1 6h1v1h-1zm-2 1h1v1h-1zm3 1h1v1h-1zm-1 1h1v1h-1zm3 2h1v1h-1zm-1 1h1v1h-1zm2 0h1v1h-1zm1 1h1v1h-1zm21 1h3v1h-3zm14 0h5v1h-5zm-36 1h1v1h-1zm16 0h11v1h-11zm18 0h2v1h-2zm9 0h3v1h-3zm-49 1h1v1h-1zm7 0h1v1h-1zm6 0h2v1h-2zm7 0h4v1h-4zm13 0h2v1h-2zm6 0h2v1h-2zm-38 1h1v1h-1zm7 0h1v1h-1zm27 0h4v1h-4zm-33 1h1v1h-1zm7 0h1v1h-1zm-6 1h1v1h-1zm9 1h1v1h-1zm4 2h1v1h-1zm3 1h1v1h-1zm-11 1h1v1h-1zm15 0h1v1h-1zm-11 2h1v1h-1zm21 0h1v1h-1zm6 1h1v1h-1zm-21 1h1v1h-1zm27 0h1v1h-1zm-21 1h1v1h-1zm27 0h1v1h-1zm-21 1h2v1h-2zm7 1h2v1h-2zm8 1h2v1h-2zm8 1h3v1h-3z"/><path fill="#929279" d="m43 3h1v1h-1zm6 0h1v1h-1zm-31 2h1v1h-1zm9 0h3v1h-3zm13 0h1v1h-1zm-23 1h1v1h-1zm11 0h2v1h-2zm-10 1h2v1h-2zm9 0h2v1h-2zm12 0h1v1h-1zm-39 2h1v3h-1zm41 2h1v1h-1zm2 1h1v1h-1zm-42 3h1v1h-1zm1 6h1v2h-1zm1 2h1v1h-1zm0 1h2v1h-2zm1 1h1v1h-1zm1 2h1v1h-1zm3 1h1v1h-1zm2 1h1v1h-1zm32 0h7v1h-7zm-30 1h1v1h-1zm12 0h9v1h-9zm17 0h2v1h-2zm9 0h6v1h-6zm-34 1h10v1h-10zm15 0h4v1h-4zm8 0h2v1h-2zm-4 1h5v1h-5zm-21 3h1v1h-1zm14 4h1v1h-1zm-14 2h1v1h-1zm32 1h1v1h-1zm-23 1h1v1h-1zm29 0h1v1h-1zm-23 1h1v1h-1zm7 1h1v1h-1zm7 1h2v1h-2zm9 1h1v1h-1z"/><path fill="#989874" d="m32 3h2v1h-2zm15 0h2v1h-2zm4 1h5v1h-5zm-32 1h3v1h-3zm6 0h2v1h-2zm5 0h1v3h-1zm-12 1h2v1h-2zm9 0h1v1h-1zm8 0h1v2h-1zm-15 1h7v1h-7zm11 1h1v1h-1zm3 1h1v1h-1zm20 1h2v1h-2zm-4 1h1v1h-1zm-50 1h1v3h-1zm47 0h1v1h-1zm-46 4h1v1h-1zm-1 4h1v1h-1zm5 6h1v1h-1zm1 1h1v1h-1zm0 1h2v1h-2zm3 1h1v1h-1zm2 1h1v1h-1zm32 0h7v1h-7zm-29 1h2v1h-2zm12 0h5v1h-5zm15 0h15v1h-15zm-19 1h13v1h-13zm18 0h3v1h-3zm-29 1h1v1h-1zm24 0h5v1h-5zm-30 3h1v1h-1zm12 0h1v1h-1zm-11 1h1v1h-1zm14 0h1v1h-1zm-13 1h1v1h-1zm17 0h1v1h-1zm-15 1h1v1h-1zm2 1h1v1h-1zm23 0h1v1h-1zm6 1h1v1h-1zm-23 1h1v1h-1zm4 1h2v1h-2zm7 1h1v1h-1zm6 1h2v1h-2zm8 1h1v1h-1zm8 1h2v1h-2z"/><path fill="#9e9e6e" d="m44 3h3v1h-3zm-13 1h1v1h-1zm3 0h1v1h-1zm16 0h1v1h-1zm-28 1h3v1h-3zm-2 1h7v1h-7zm20 0h1v1h-1zm-8 3h1v1h-1zm8 0h1v1h-1zm12 1h2v1h-2zm-3 1h1v1h-1zm-5 1h3v1h-3zm-44 3h1v2h-1zm0 2h2v2h-2zm0 2h1v1h-1zm1 2h1v1h-1zm6 8h2v1h-2zm1 1h3v1h-3zm-8 1h1v1h-1zm9 0h1v1h-1zm3 0h2v1h-2zm-11 1h1v1h-1zm9 0h1v1h-1zm6 0h6v1h-6zm27 0h13v1h-13zm-41 1h1v1h-1zm28 0h5v1h-5zm10 0h9v1h-9zm-37 1h1v1h-1zm10 0h1v1h-1zm23 0h3v1h-3zm-32 1h1v1h-1zm11 0h1v1h-1zm14 4h1v1h-1zm-16 2h1v1h-1zm3 1h1v1h-1zm31 0h1v1h-1zm-27 1h1v1h-1zm33 0h1v1h-1zm-27 1h2v1h-2zm7 1h1v1h-1zm7 1h2v1h-2zm8 1h2v1h-2z"/><path fill="#a4a469" d="m42 4h1v1h-1zm7 0h1v1h-1zm-8 1h1v1h-1zm12 0h3v1h-3zm-13 3h1v1h-1zm-7 1h1v1h-1zm8 1h1v1h-1zm10 0h1v1h-1zm-9 1h1v1h-1zm-41 8h1v2h-1zm9 12h2v1h-2zm4 1h2v1h-2zm-2 1h1v1h-1zm13 0h5v1h-5zm24 0h7v1h-7zm-16 1h3v1h-3zm6 0h17v1h-17zm-21 2h1v1h-1zm3 1h1v1h-1zm-13 2h1v1h-1zm2 1h1v1h-1zm25 0h1v1h-1zm6 1h1v1h-1zm-26 1h1v1h-1zm4 1h1v1h-1zm35 0h1v1h-1zm-29 1h1v1h-1zm6 1h2v1h-2zm7 1h2v1h-2zm8 1h2v1h-2zm8 1h2v1h-2z"/><path fill="#aaaa64" d="m31 5h1v1h-1zm20 0h2v1h-2zm-20 2h1v1h-1zm9 0h1v1h-1zm-6 1h1v1h-1zm20 1h2v1h-2zm-6 2h1v1h-1zm-37 21h3v1h-3zm2 1h1v1h-1zm3 0h9v1h-9zm-2 1h1v1h-1zm17 0h2v1h-2zm-15 1h1v1h-1zm21 0h19v1h-19zm-12 3h1v1h-1zm5 1h1v1h-1zm-18 2h1v1h-1zm30 0h1v1h-1zm6 1h1v1h-1zm-24 2h1v1h-1zm6 1h1v1h-1zm7 1h1v1h-1zm7 1h2v1h-2zm8 1h2v1h-2z"/><path fill="#b0b05e" d="m32 4h1v1h-1zm11 0h1v1h-1zm5 0h1v1h-1zm2 1h1v1h-1zm-19 1h1v1h-1zm23 0h2v1h-2zm-22 2h1v1h-1zm20 1h2v1h-2zm-2 1h1v1h-1zm-7 1h1v1h-1zm-43 21h1v1h-1zm1 1h1v1h-1zm13 0h2v1h-2zm-12 1h1v1h-1zm13 0h2v1h-2zm13 0h3v1h-3zm-25 1h1v1h-1zm32 0h2v1h-2zm-31 1h1v1h-1zm15 0h1v1h-1zm28 0h9v1h-9zm-42 1h1v1h-1zm1 1h1v1h-1zm3 2h1v1h-1zm27 0h1v1h-1zm-25 1h1v1h-1zm3 1h1v1h-1zm35 0h1v1h-1zm-31 1h1v1h-1zm37 0h1v1h-1zm-32 1h1v1h-1zm6 1h1v1h-1zm6 1h2v1h-2zm8 1h1v1h-1zm7 1h2v1h-2zm-50 7h1v1h-1z"/><path fill="#b6b657" d="m33 4h1v1h-1zm11 0h1v1h-1zm3 0h1v1h-1zm-13 1h1v1h-1zm7 1h1v1h-1zm11 0h2v1h-2zm2 1h2v1h-2zm-1 1h3v1h-3zm-12 1h1v1h-1zm10 0h1v1h-1zm-7 2h1v1h-1zm3 0h1v1h-1zm-30 23h4v1h-4zm8 0h3v1h-3zm-8 1h1v1h-1zm16 0h2v1h-2zm10 1h4v1h-4zm-21 1h1v1h-1zm31 0h3v1h-3zm-27 1h1v1h-1zm-19 1h1v1h-1zm24 0h1v1h-1zm6 1h1v1h-1zm6 1h1v1h-1zm-30 1h1v1h-1zm4 1h1v1h-1zm4 1h2v1h-2zm6 1h2v1h-2zm7 1h1v1h-1zm7 1h2v1h-2zm7 1h2v1h-2zm-48 5h1v1h-1zm0 1h3v1h-3zm1 1h4v1h-4z"/><path fill="#bbbb50" d="m45 4h2v1h-2zm-3 1h1v1h-1zm7 0h1v1h-1zm-15 1h1v2h-1zm17 0h1v1h-1zm1 1h2v1h-2zm-19 1h1v1h-1zm19 0h1v1h-1zm-10 2h1v1h-1zm7 0h1v1h-1zm-4 1h2v1h-2zm-45 22h1v1h-1zm21 1h4v1h-4zm-3 1h2v1h-2zm13 0h2v1h-2zm-11 1h1v1h-1zm20 0h3v1h-3zm11 1h2v1h-2zm-43 3h1v1h-1zm2 1h1v1h-1zm40 1h1v1h-1zm-34 1h1v1h-1zm4 1h1v1h-1zm6 1h1v1h-1zm6 1h2v1h-2zm7 1h2v1h-2zm7 1h2v1h-2zm8 1h2v1h-2zm-54 2h1v1h-1zm0 1h3v1h-3zm1 1h4v1h-4zm2 1h3v1h-3zm2 1h3v1h-3z"/><path fill="#c1c14a" d="m32 5h1v1h-1zm18 1h1v1h-1zm-18 1h1v1h-1zm9 0h1v2h-1zm10 0h1v2h-1zm-1 2h1v1h-1zm-49 25h1v1h-1zm1 1h1v1h-1zm18 0h2v1h-2zm9 0h2v1h-2zm-26 1h1v1h-1zm34 0h3v1h-3zm-33 1h1v1h-1zm19 0h1v1h-1zm25 0h3v1h-3zm-43 1h1v1h-1zm22 0h1v1h-1zm5 1h1v1h-1zm6 1h1v1h-1zm6 1h1v1h-1zm-32 1h1v1h-1zm3 1h1v1h-1zm4 1h1v1h-1zm5 1h2v1h-2zm6 1h2v1h-2zm7 1h2v1h-2zm7 1h2v1h-2zm8 1h2v1h-2zm-52 1h2v1h-2zm1 1h3v1h-3zm2 1h3v1h-3zm2 1h3v1h-3zm1 1h4v1h-4zm2 1h4v1h-4z"/><path fill="#c7c743" d="m33 5h1v1h-1zm15 0h1v1h-1zm-16 1h1v1h-1zm16 4h1v1h-1zm-26 25h7v1h-7zm-1 1h1v1h-1zm14 0h2v1h-2zm11 1h2v1h-2zm-40 2h1v1h-1zm1 1h1v1h-1zm2 1h1v1h-1zm36 0h1v1h-1zm6 1h1v1h-1zm-37 1h1v1h-1zm4 1h1v1h-1zm5 1h1v1h-1zm6 1h1v1h-1zm6 1h2v1h-2zm-35 1h2v1h-2zm42 0h2v1h-2zm-42 1h3v1h-3zm49 0h3v1h-3zm-47 1h3v1h-3zm2 1h3v1h-3zm2 1h4v1h-4zm2 1h4v1h-4zm2 1h4v1h-4zm2 1h4v1h-4z"/><path fill="#cdcd3d" d="m43 5h1v1h-1zm4 0h1v1h-1zm-14 1h1v2h-1zm9 0h1v1h-1zm7 0h1v1h-1zm1 1h1v2h-1zm-8 2h1v1h-1zm7 0h1v1h-1zm-6 1h1v1h-1zm4 0h1v1h-1zm-47 24h1v1h-1zm1 1h1v1h-1zm1 1h1v1h-1zm20 0h2v1h-2zm11 0h2v1h-2zm-9 1h1v1h-1zm19 0h3v1h-3zm-15 1h1v1h-1zm26 0h2v1h-2zm-21 1h1v1h-1zm6 1h1v1h-1zm-28 2h1v1h-1zm41 0h1v1h-1zm-39 1h1v1h-1zm4 1h1v1h-1zm4 1h2v1h-2zm-21 1h1v1h-1zm27 0h2v1h-2zm-27 1h3v1h-3zm33 0h2v1h-2zm-31 1h3v1h-3zm37 0h3v1h-3zm-36 1h4v1h-4zm44 0h2v1h-2zm-42 1h4v1h-4zm49 0h2v1h-2zm-47 1h4v1h-4zm3 1h4v1h-4zm2 1h6v1h-6zm2 1h6v1h-6zm2 1h6v1h-6z"/><path fill="#d3d336" d="m44 5h1v1h-1zm0 5h1v1h-1zm-20 26h2v1h-2zm6 0h3v1h-3zm-27 1h1v1h-1zm22 0h1v1h-1zm15 0h3v1h-3zm-36 1h1v1h-1zm47 0h3v1h-3zm-46 1h1v1h-1zm29 0h1v1h-1zm-28 1h1v1h-1zm2 1h1v1h-1zm38 0h1v1h-1zm-36 1h1v1h-1zm2 1h1v1h-1zm-12 1h1v1h-1zm16 0h1v1h-1zm-16 1h3v1h-3zm19 0h2v1h-2zm-18 1h4v1h-4zm23 0h3v1h-3zm-21 1h3v1h-3zm27 0h3v1h-3zm-25 1h3v1h-3zm31 0h3v1h-3zm-29 1h4v1h-4zm36 0h4v1h-4zm-34 1h6v1h-6zm40 0h5v1h-5zm-38 1h9v1h-9zm3 1h10v1h-10zm4 1h12v1h-12zm2 1h20v1h-20zm2 1h26v1h-26z"/><path fill="#dddd2a" d="m43 6h1v1h-1zm0 3h1v1h-1zm-43 27h1v1h-1zm0 1h2v1h-2zm27 0h2v1h-2zm6 0h4v1h-4zm-33 1h3v1h-3zm30 0h1v1h-1zm17 0h2v1h-2zm-47 1h5v1h-5zm35 0h1v1h-1zm-35 1h6v1h-6zm41 0h1v1h-1zm-41 1h7v1h-7zm2 1h7v1h-7zm52 0h1v1h-1zm-50 1h7v1h-7zm1 1h9v1h-9zm2 1h10v1h-10zm2 1h11v1h-11zm4 1h5v1h-5z"/><path fill="#e2e224" d="m47 6h1v1h-1zm1 1h1v2h-1zm-1 2h1v1h-1zm-18 28h4v1h-4zm2 1h1v1h-1zm13 0h3v1h-3zm-8 1h1v1h-1zm19 0h1v1h-1zm-13 1h1v1h-1zm6 1h1v1h-1z"/><path fill="#e7e71e" d="m44 6h1v1h-1zm-1 2h1v1h-1zm1 1h1v1h-1zm-12 29h12v1h-12zm5 1h1v1h-1zm16 0h2v1h-2zm-10 1h1v1h-1zm6 1h1v1h-1zm6 1h1v1h-1z"/><path fill="#ebeb18" d="m45 6h2v1h-2zm-2 1h1v1h-1zm4 0h1v2h-1zm-2 2h2v1h-2zm-7 30h2v1h-2zm12 0h3v1h-3zm-6 1h1v1h-1zm6 1h1v1h-1z"/><path fill="#f0f012" d="m40 39h10v1h-10zm5 1h1v1h-1zm6 1h1v1h-1z"/><path fill="#f5f50c" d="m44 7h1v2h-1zm2 0h1v2h-1zm0 33h3v1h-3zm9 0h1v1h-1zm-3 1h1v1h-1z"/><path fill="#fafa06" d="m45 7h1v2h-1zm4 33h6v1h-6zm4 1h2v1h-2z"/><path fill="#ffff00" d="m55 41h1v1h-1z"/></g>
<path d="M641.2 976.9000000000001v-3.5M641.2 703.6v3.5M614.2 950.1h3.5M887.5 950.1h-3.5M689.8 976.9000000000001v-3.5M689.8 703.6v3.5M614.2 901.8h3.5M887.5 901.8h-3.5M738.4 976.9000000000001v-3.5M738.4 703.6v3.5M614.2 853.5h3.5M887.5 853.5h-3.5M787.0 976.9000000000001v-3.5M787.0 703.6v3.5M614.2 805.2h3.5M887.5 805.2h-3.5M835.6 976.9000000000001v-3.5M835.6 703.6v3.5M614.2 757.0h3.5M887.5 757.0h-3.5M884.2 976.9000000000001v-3.5M884.2 703.6v3.5M614.2 708.7h3.5M887.5 708.7h-3.5" stroke="#262626" stroke-width="1.6" fill="none"/><rect x="614.2" y="703.6" width="273.3" height="273.3" fill="none" stroke="#262626" stroke-width="1.8"/><g class="s" font-size="31" fill="#262626" text-anchor="end"><text x="603.7" y="961.1">40</text><text x="603.7" y="912.8">60</text><text x="603.7" y="864.5">80</text><text x="603.7" y="816.2">100</text><text x="603.7" y="768.0">120</text><text x="603.7" y="719.7">140</text></g><g class="s" font-size="31" fill="#262626" text-anchor="middle"><text x="641.2" y="1016.2">40</text><text x="689.8" y="1016.2">60</text><text x="738.4" y="1016.2">80</text><text x="787.0" y="1016.2">100</text><text x="835.6" y="1016.2">120</text><text x="884.2" y="1016.2">140</text></g><text class="s" font-size="33" fill="#262626" text-anchor="middle" x="749.85" y="1055.9"><tspan font-style="italic">Lx</tspan> (μm)</text><text class="s" font-size="34.2" fill="#262626" text-anchor="middle" x="544.7" y="840.9" transform="rotate(-90 544.7 840.9)"><tspan font-style="italic">Ly</tspan> (μm)</text><rect x="920.5" y="703.6" width="27.5" height="273.3" fill="url(#cb)" stroke="#262626" stroke-width="1"/><text class="s" font-size="31" fill="#262626" x="958.0" y="715.0">0.8</text><text class="s" font-size="31" fill="#262626" x="958.0" y="988.3">0.5</text>
<g shape-rendering="crispEdges" transform="translate(135 1089.3) scale(4.89643 4.88036)"><path fill="#cdcd3d" d="M0 0h56v56H0z"/><path fill="#0000ff" d="m51 0h1v1h-1zm1 2h1v1h-1zm-43 2h1v1h-1zm44 0h1v1h-1zm1 2h1v1h-1zm1 2h1v1h-1zm-44 10h1v1h-1zm1 6h1v1h-1zm2 10h1v1h-1zm1 4h1v1h-1zm10 15h1v1h-1z"/><path fill="#0000ff" d="m52 0h1v1h-1zm0 1h2v1h-2zm1 1h1v1h-1zm-44 1h1v1h-1zm44 0h2v1h-2zm1 1h1v1h-1zm0 1h2v1h-2zm1 1h1v2h-1zm-42 23h1v1h-1zm5 16h1v1h-1zm3 5h1v1h-1zm1 1h1v1h-1zm6 4h1v1h-1z"/><path fill="#0000ff" d="m53 0h1v1h-1zm1 1h1v2h-1zm-45 1h1v1h-1zm46 1h1v2h-1zm-45 8h1v1h-1zm1 6h1v1h-1zm1 6h1v1h-1zm3 14h1v1h-1zm1 4h1v1h-1zm1 2h1v1h-1zm3 5h1v1h-1z"/><path fill="#0000ff" d="m54 0h1v1h-1zm-45 1h1v1h-1zm46 0h1v2h-1zm-42 27h1v1h-1zm1 5h1v1h-1zm13 21h1v1h-1z"/><path fill="#0000ff" d="m55 0h1v1h-1zm-45 10h1v1h-1zm2 12h1v1h-1zm7 24h1v1h-1z"/><path fill="#0000ff" d="m9 0h1v1h-1zm2 16h1v1h-1zm2 11h1v1h-1zm1 5h1v1h-1zm1 4h1v1h-1zm1 4h1v1h-1zm2 4h1v1h-1zm3 5h1v1h-1zm3 3h1v1h-1z"/><path fill="#0000ff" d="m10 9h1v1h-1zm2 12h1v1h-1zm5 21h1v1h-1zm3 5h1v1h-1zm3 4h1v1h-1zm3 2h1v1h-1zm3 2h1v1h-1z"/><path fill="#0000ff" d="m11 15h1v1h-1zm2 11h1v1h-1zm1 5h1v1h-1zm1 4h1v1h-1zm1 4h1v1h-1zm6 11h1v1h-1z"/><path fill="#0000ff" d="m10 8h1v1h-1zm9 37h1v1h-1z"/><path fill="#0000ff" d="m11 14h1v1h-1zm1 6h1v1h-1zm1 5h1v1h-1zm1 5h1v1h-1zm2 8h1v1h-1zm5 10h1v1h-1zm7 6h1v1h-1z"/><path fill="#0000ff" d="m15 34h1v1h-1zm2 7h1v1h-1zm1 2h1v1h-1zm7 9h1v1h-1z"/><path fill="#0000ff" d="m10 5h1v3h-1zm1 7h1v2h-1zm1 6h1v2h-1zm1 6h1v1h-1zm1 4h1v2h-1zm1 5h1v1h-1zm1 4h1v1h-1zm1 3h1v1h-1zm2 4h1v1h-1zm1 2h1v1h-1zm1 1h1v1h-1zm1 2h1v1h-1zm1 1h1v1h-1zm1 1h1v1h-1zm3 2h1v1h-1zm3 2h1v1h-1z"/><path fill="#0606ff" d="m10 1h1v4h-1zm1 8h1v3h-1zm1 6h1v3h-1zm1 6h1v3h-1zm1 4h1v3h-1zm1 5h1v3h-1zm1 4h1v3h-1zm1 3h1v3h-1zm1 4h1v2h-1zm1 2h1v1h-1zm1 1h1v2h-1zm1 2h1v1h-1zm1 1h1v2h-1zm1 2h1v1h-1zm1 1h1v1h-1zm1 1h1v1h-1zm1 1h1v1h-1zm2 1h1v1h-1zm1 1h1v1h-1zm2 1h1v1h-1z"/><path fill="#0d0dff" d="m10 0h1v1h-1zm1 5h1v4h-1zm1 7h1v3h-1zm1 6h1v3h-1zm1 5h1v2h-1zm1 4h1v3h-1zm1 4h1v3h-1zm1 4h1v2h-1zm1 3h1v3h-1zm1 3h1v2h-1zm1 2h1v1h-1zm1 2h1v1h-1zm1 1h1v1h-1zm1 1h1v1h-1zm0 1h2v1h-2zm1 1h1v1h-1zm1 1h1v1h-1zm1 1h1v1h-1zm1 1h2v1h-2zm2 1h1v1h-1zm1 1h2v1h-2zm2 1h1v1h-1z"/><path fill="#1515ff" d="m11 1h1v4h-1zm1 8h1v3h-1zm1 6h1v3h-1zm1 5h1v3h-1zm1 4h1v3h-1zm1 4h1v3h-1zm1 4h1v3h-1zm1 4h1v2h-1zm1 3h1v2h-1zm1 2h1v2h-1zm1 2h1v2h-1zm1 2h1v1h-1zm1 1h1v1h-1zm1 1h1v1h-1zm1 1h1v1h-1zm0 1h2v1h-2zm1 1h1v1h-1zm1 1h2v1h-2zm2 1h1v1h-1zm1 1h2v1h-2zm2 1h1v1h-1zm1 1h1v1h-1z"/><path fill="#1c1cff" d="m11 0h1v1h-1zm1 5h1v4h-1zm1 7h1v3h-1zm1 5h1v3h-1zm1 5h1v2h-1zm1 4h1v2h-1zm1 4h1v2h-1zm1 3h1v3h-1zm1 3h1v3h-1zm1 3h1v2h-1zm1 2h1v2h-1zm1 2h1v2h-1zm1 2h1v1h-1zm1 1h1v1h-1zm1 1h1v1h-1zm1 1h1v1h-1zm1 1h1v1h-1zm0 1h2v1h-2zm2 1h1v1h-1zm1 1h1v1h-1zm2 1h1v1h-1zm1 1h1v1h-1zm1 1h2v1h-2z"/><path fill="#2323ff" d="m12 2h1v3h-1zm1 7h1v3h-1zm1 6h1v2h-1zm1 4h1v3h-1zm1 4h1v3h-1zm1 4h1v3h-1zm1 4h1v2h-1zm1 3h1v2h-1zm1 3h1v2h-1zm1 3h1v1h-1zm1 2h1v1h-1zm1 1h1v2h-1zm1 2h1v1h-1zm1 1h1v1h-1zm1 1h1v1h-1zm1 1h1v1h-1zm1 1h1v1h-1zm1 1h1v1h-1zm1 1h1v1h-1zm1 1h2v1h-2zm2 1h1v1h-1zm1 1h2v1h-2zm2 1h1v1h-1z"/><path fill="#2b2bff" d="m12 0h1v2h-1zm1 6h1v3h-1zm1 6h1v3h-1zm1 5h1v2h-1zm1 4h1v2h-1zm1 4h1v2h-1zm1 4h1v2h-1zm1 3h1v2h-1zm1 3h1v2h-1zm1 3h1v2h-1zm1 2h1v2h-1zm1 2h1v1h-1zm1 2h1v1h-1zm1 1h1v1h-1zm1 1h1v1h-1zm1 1h1v1h-1zm1 1h1v1h-1zm1 1h1v1h-1zm1 1h1v1h-1zm1 1h2v1h-2zm2 1h1v1h-1zm1 1h2v1h-2zm2 1h1v1h-1zm1 1h2v1h-2z"/><path fill="#3232ff" d="m13 4h1v2h-1zm1 6h1v2h-1zm1 5h1v2h-1zm1 4h1v2h-1zm1 4h1v2h-1zm1 4h1v2h-1zm1 3h1v2h-1zm1 3h1v2h-1zm1 3h1v2h-1zm1 2h1v2h-1zm1 3h1v1h-1zm1 1h1v2h-1zm1 2h1v1h-1zm1 1h1v1h-1zm1 1h1v1h-1zm1 1h1v1h-1zm1 1h1v1h-1zm1 1h2v1h-2zm1 1h2v1h-2zm2 1h1v1h-1zm1 1h2v1h-2zm2 1h1v1h-1zm1 1h2v1h-2zm2 1h2v1h-2z"/><path fill="#3a3aff" d="m13 2h1v2h-1zm1 6h1v2h-1zm1 5h1v2h-1zm1 5h1v1h-1zm1 3h1v2h-1zm1 4h1v2h-1zm1 3h1v2h-1zm1 3h1v2h-1zm1 3h1v2h-1zm1 3h1v1h-1zm1 2h1v2h-1zm1 2h1v1h-1zm1 2h1v1h-1zm1 1h1v1h-1zm1 1h1v1h-1zm1 1h1v1h-1zm1 1h1v1h-1zm1 1h2v1h-2zm2 1h1v1h-1zm1 1h1v1h-1zm1 1h2v1h-2zm2 1h1v1h-1zm1 1h2v1h-2zm2 1h2v1h-2zm2 1h2v1h-2z"/><path fill="#4040fc" d="m13 0h1v2h-1zm1 5h1v3h-1zm1 6h1v2h-1zm1 5h1v2h-1zm1 4h1v1h-1zm1 3h1v2h-1zm1 3h1v2h-1zm1 3h1v2h-1zm1 3h1v2h-1zm1 3h1v2h-1zm1 3h1v1h-1zm1 2h1v1h-1zm1 1h1v2h-1zm1 2h1v1h-1zm1 1h1v1h-1zm1 1h1v1h-1zm1 1h1v1h-1zm1 1h2v1h-2zm2 1h1v1h-1zm1 1h1v1h-1zm1 1h2v1h-2zm2 1h1v1h-1zm1 1h2v1h-2zm2 1h2v1h-2zm2 1h2v1h-2zm2 1h2v1h-2z"/><path fill="#4444f5" d="m14 3h1v2h-1zm1 6h1v2h-1zm1 5h1v2h-1zm1 4h1v2h-1zm1 4h1v1h-1zm1 3h1v1h-1zm1 3h1v1h-1zm1 3h1v1h-1zm1 2h1v2h-1zm1 3h1v2h-1zm1 2h1v2h-1zm1 2h1v1h-1zm1 2h1v1h-1zm1 1h1v1h-1zm1 1h1v1h-1zm1 1h1v1h-1zm1 1h1v1h-1zm2 1h1v1h-1zm1 1h1v1h-1zm1 1h2v1h-2zm2 1h1v1h-1zm1 1h2v1h-2zm2 1h2v1h-2zm2 1h2v1h-2zm2 1h2v1h-2zm2 1h2v1h-2z"/><path fill="#4949ee" d="m14 1h1v2h-1zm1 6h1v2h-1zm1 5h1v2h-1zm1 4h1v2h-1zm1 4h1v2h-1zm1 3h1v2h-1zm1 3h1v2h-1zm1 3h1v2h-1zm1 3h1v1h-1zm1 2h1v2h-1zm1 3h1v1h-1zm1 2h1v1h-1zm1 1h1v2h-1zm1 2h1v1h-1zm1 1h1v1h-1zm1 1h1v1h-1zm1 1h1v1h-1zm1 1h2v1h-2zm2 1h1v1h-1zm1 1h2v1h-2zm2 1h1v1h-1zm1 1h2v1h-2zm2 1h2v1h-2zm2 1h1v1h-1zm2 1h2v1h-2zm2 1h2v1h-2zm2 1h2v1h-2z"/><path fill="#4d4de7" d="m14 0h1v1h-1zm1 5h1v2h-1zm1 5h1v2h-1zm1 5h1v1h-1zm1 3h1v2h-1zm1 4h1v1h-1zm1 3h1v1h-1zm1 2h1v2h-1zm1 3h1v2h-1zm1 3h1v1h-1zm1 2h1v2h-1zm1 2h1v2h-1zm1 2h1v1h-1zm1 2h1v1h-1zm1 1h1v1h-1zm1 1h1v1h-1zm1 1h1v1h-1zm1 1h1v1h-1zm2 1h1v1h-1zm1 1h1v1h-1zm2 1h1v1h-1zm1 1h2v1h-2zm2 1h1v1h-1zm2 1h1v1h-1zm1 1h2v1h-2zm3 1h1v1h-1zm2 1h2v1h-2zm2 1h2v1h-2z"/><path fill="#5252e0" d="m15 3h1v2h-1zm1 5h1v2h-1zm1 5h1v2h-1zm1 4h1v1h-1zm1 3h1v2h-1zm1 3h1v2h-1zm1 3h1v1h-1zm1 3h1v1h-1zm1 2h1v2h-1zm1 3h1v1h-1zm1 2h1v1h-1zm1 2h1v1h-1zm1 2h1v1h-1zm1 1h1v1h-1zm1 1h1v1h-1zm1 1h1v1h-1zm1 1h1v1h-1zm1 1h1v1h-1zm2 1h1v1h-1zm1 1h1v1h-1zm2 1h1v1h-1zm2 1h1v1h-1zm1 1h2v1h-2zm2 1h2v1h-2zm2 1h2v1h-2zm2 1h2v1h-2zm3 1h2v1h-2zm2 1h2v1h-2z"/><path fill="#5656d9" d="m15 1h1v2h-1zm1 5h1v2h-1zm1 5h1v2h-1zm1 4h1v2h-1zm1 4h1v1h-1zm1 3h1v1h-1zm1 2h1v2h-1zm1 3h1v2h-1zm1 3h1v1h-1zm1 2h1v2h-1zm1 3h1v1h-1zm1 2h1v1h-1zm1 1h1v2h-1zm1 2h1v1h-1zm1 1h1v1h-1zm3 3h1v1h-1zm1 1h1v1h-1zm2 1h1v1h-1zm1 1h2v1h-2zm2 1h1v1h-1zm2 1h1v1h-1zm2 1h1v1h-1zm2 1h1v1h-1zm2 1h2v1h-2zm2 1h2v1h-2zm3 1h1v1h-1zm2 1h2v1h-2z"/><path fill="#5b5bd2" d="m15 0h1v1h-1zm1 5h1v1h-1zm1 4h1v2h-1zm1 5h1v1h-1zm1 3h1v2h-1zm1 3h1v2h-1zm1 3h1v1h-1zm1 3h1v1h-1zm1 2h1v2h-1zm1 3h1v1h-1zm1 2h1v2h-1zm1 2h1v2h-1zm1 2h1v1h-1zm1 2h1v1h-1zm1 1h1v1h-1zm1 2h1v1h-1zm1 1h1v1h-1zm2 1h1v1h-1zm1 1h1v1h-1zm2 1h1v1h-1zm2 1h1v1h-1zm1 1h2v1h-2zm2 1h2v1h-2zm2 1h2v1h-2zm2 1h2v1h-2zm3 1h1v1h-1zm2 1h2v1h-2zm2 1h2v1h-2zm3 1h1v1h-1z"/><path fill="#6060c9" d="m16 3h1v2h-1zm1 5h1v1h-1zm1 4h1v2h-1zm1 4h1v1h-1zm1 3h1v1h-1zm1 3h1v1h-1zm1 2h1v2h-1zm1 3h1v1h-1zm1 2h1v2h-1zm1 3h1v1h-1zm1 2h1v1h-1zm1 2h1v1h-1zm1 2h1v1h-1zm1 1h1v1h-1zm1 2h1v1h-1zm1 1h1v1h-1zm1 1h1v1h-1zm2 1h1v1h-1zm1 1h1v1h-1zm2 1h1v1h-1zm2 1h1v1h-1zm2 1h1v1h-1zm2 1h1v1h-1zm2 1h1v1h-1zm2 1h1v1h-1zm2 1h2v1h-2zm3 1h2v1h-2zm2 1h2v1h-2z"/><path fill="#6565bf" d="m16 1h1v2h-1zm1 5h1v2h-1zm1 4h1v2h-1zm1 4h1v2h-1zm1 3h1v2h-1zm1 3h1v2h-1zm1 3h1v1h-1zm1 3h1v1h-1zm1 2h1v1h-1zm1 2h1v2h-1zm1 3h1v1h-1zm1 2h1v1h-1zm1 2h1v1h-1zm1 1h1v1h-1zm1 2h1v1h-1zm1 1h1v1h-1zm1 1h1v1h-1zm1 1h1v1h-1zm3 2h1v1h-1zm2 1h1v1h-1zm2 1h1v1h-1zm2 1h1v1h-1zm2 1h1v1h-1zm2 1h2v1h-2zm2 1h2v1h-2zm3 1h2v1h-2zm3 1h1v1h-1z"/><path fill="#6b6bb5" d="m16 0h1v1h-1zm1 4h1v2h-1zm1 5h1v1h-1zm1 4h1v1h-1zm1 3h1v1h-1zm1 3h1v1h-1zm1 3h1v1h-1zm1 2h1v2h-1zm1 3h1v1h-1zm1 2h1v1h-1zm1 2h1v2h-1zm1 2h1v2h-1zm1 2h1v2h-1zm1 2h1v1h-1zm1 2h1v1h-1zm1 1h1v1h-1zm1 1h1v1h-1zm1 1h1v1h-1zm1 1h1v1h-1zm1 1h1v1h-1zm2 1h1v1h-1zm2 1h1v1h-1zm2 1h1v1h-1zm2 1h2v1h-2zm2 1h2v1h-2zm3 1h1v1h-1zm2 1h2v1h-2zm3 1h1v1h-1zm2 1h1v1h-1z"/><path fill="#7070ab" d="m17 3h1v1h-1zm1 4h1v2h-1zm1 4h1v2h-1zm1 4h1v1h-1zm1 3h1v1h-1zm1 3h1v1h-1zm1 2h1v1h-1zm1 2h1v2h-1zm1 3h1v1h-1zm1 2h1v1h-1zm1 2h1v1h-1zm1 2h1v1h-1zm1 2h1v1h-1zm1 2h1v1h-1zm1 1h1v1h-1zm1 1h1v1h-1zm3 3h1v1h-1zm1 1h1v1h-1zm2 1h1v1h-1zm2 1h1v1h-1zm2 1h2v1h-2zm3 1h1v1h-1zm2 1h1v1h-1zm2 1h2v1h-2zm3 1h1v1h-1zm2 1h2v1h-2z"/><path fill="#7676a0" d="m17 1h1v2h-1zm1 4h1v2h-1zm1 5h1v1h-1zm1 3h1v2h-1zm1 4h1v1h-1zm1 2h1v2h-1zm1 3h1v1h-1zm1 2h1v1h-1zm1 2h1v2h-1zm1 3h1v1h-1zm1 2h1v1h-1zm1 2h1v1h-1zm1 2h1v1h-1zm1 2h1v1h-1zm1 1h1v1h-1zm1 1h1v1h-1zm1 2h1v1h-1zm1 1h1v1h-1zm2 1h1v1h-1zm1 1h1v1h-1zm2 1h1v1h-1zm2 1h1v1h-1zm3 1h1v1h-1zm2 1h1v1h-1zm2 1h2v1h-2zm3 1h1v1h-1zm2 1h2v1h-2z"/><path fill="#7b7b96" d="m17 0h1v1h-1zm1 4h1v1h-1zm1 4h1v2h-1zm1 4h1v1h-1zm1 3h1v2h-1zm1 3h1v1h-1zm1 3h1v1h-1zm1 2h1v1h-1zm1 2h1v1h-1zm1 2h1v2h-1zm1 2h1v2h-1zm1 3h1v1h-1zm1 2h1v1h-1zm1 1h1v2h-1zm1 2h1v1h-1zm1 1h1v1h-1zm1 2h1v1h-1zm1 1h1v1h-1zm1 1h1v1h-1zm3 2h1v1h-1zm2 1h1v1h-1zm2 1h1v1h-1zm3 1h1v1h-1zm2 1h1v1h-1zm3 1h1v1h-1zm2 1h2v1h-2zm3 1h1v1h-1z"/><path fill="#81818c" d="m18 2h1v2h-1zm1 5h1v1h-1zm1 4h1v1h-1zm1 3h1v1h-1zm1 3h1v1h-1zm1 2h1v2h-1zm1 3h1v1h-1zm1 2h1v1h-1zm1 2h1v1h-1zm1 2h1v1h-1zm1 2h1v2h-1zm1 2h1v2h-1zm1 2h1v1h-1zm1 2h1v1h-1zm2 3h1v1h-1zm1 1h1v1h-1zm1 1h1v1h-1zm1 1h1v1h-1zm1 1h1v1h-1zm2 1h1v1h-1zm2 1h1v1h-1zm2 1h2v1h-2zm3 1h1v1h-1zm2 1h2v1h-2zm3 1h1v1h-1zm3 1h1v1h-1z"/><path fill="#868684" d="m18 0h1v2h-1zm1 2h1v4h-1zm0 4h2v1h-2zm1 1h1v3h-1zm0 3h2v1h-2zm1 1h1v2h-1zm0 2h2v1h-2zm1 1h1v2h-1zm0 2h2v1h-2zm1 1h1v2h-1zm1 2h1v2h-1zm0 2h2v1h-2zm1 1h1v1h-1zm0 1h2v1h-2zm1 1h1v1h-1zm0 1h2v1h-2zm1 1h1v1h-1zm0 1h2v1h-2zm1 1h1v1h-1zm0 1h2v1h-2zm1 1h1v1h-1zm0 1h2v1h-2zm1 1h1v1h-1zm0 1h2v1h-2zm1 1h1v1h-1zm0 1h2v1h-2zm1 1h2v2h-2zm1 2h2v1h-2zm1 1h2v1h-2zm1 1h2v1h-2zm1 1h2v1h-2zm1 1h2v1h-2zm1 1h2v1h-2zm2 1h2v1h-2zm2 1h2v1h-2zm3 1h2v1h-2zm2 1h3v1h-3zm3 1h2v1h-2zm2 1h3v1h-3zm3 1h1v1h-1z"/><path fill="#8c8c7e" d="m19 0h1v1h-1zm0 1h2v1h-2zm1 1h1v3h-1zm0 3h2v1h-2zm1 1h1v3h-1zm0 3h2v1h-2zm1 1h1v2h-1zm0 2h2v1h-2zm1 1h1v2h-1zm0 2h2v1h-2zm1 1h1v2h-1zm0 2h2v1h-2zm1 1h1v1h-1zm0 1h2v1h-2zm1 1h1v1h-1zm0 1h2v1h-2zm1 1h1v1h-1zm0 1h2v1h-2zm1 1h1v1h-1zm0 1h2v1h-2zm1 1h1v1h-1zm0 1h2v1h-2zm1 1h1v1h-1zm0 1h2v1h-2zm1 1h1v1h-1zm0 1h2v1h-2zm1 1h1v1h-1zm0 1h2v1h-2zm1 1h2v1h-2zm1 1h1v1h-1zm0 1h2v1h-2zm1 1h2v1h-2zm1 1h2v1h-2zm1 1h2v1h-2zm1 1h2v1h-2zm1 1h2v1h-2zm1 1h3v1h-3zm2 1h3v1h-3zm2 1h3v1h-3zm3 1h2v1h-2zm3 1h2v1h-2zm2 1h3v1h-3zm3 1h1v1h-1z"/><path fill="#929279" d="m20 0h2v1h-2zm1 1h1v3h-1zm0 3h2v1h-2zm1 1h1v3h-1zm0 3h2v1h-2zm1 1h1v2h-1zm0 2h2v1h-2zm1 1h1v2h-1zm0 2h2v1h-2zm1 1h1v2h-1zm0 2h2v1h-2zm1 1h1v1h-1zm0 1h2v1h-2zm1 1h1v2h-1zm1 2h1v2h-1zm1 2h1v2h-1zm1 2h1v1h-1zm0 1h2v1h-2zm1 1h1v1h-1zm0 1h2v1h-2zm1 1h1v1h-1zm0 1h2v1h-2zm1 1h1v1h-1zm0 1h2v1h-2zm1 1h2v1h-2zm1 1h1v1h-1zm0 1h2v1h-2zm1 1h2v1h-2zm1 1h2v1h-2zm1 1h2v1h-2zm1 1h2v1h-2zm1 1h2v1h-2zm1 1h2v1h-2zm2 1h2v1h-2zm2 1h2v1h-2zm2 1h2v1h-2zm2 1h3v1h-3zm3 1h3v1h-3zm3 1h1v1h-1z"/><path fill="#989874" d="m22 0h1v3h-1zm0 3h2v1h-2zm1 1h1v3h-1zm0 3h2v1h-2zm1 1h1v3h-1zm1 3h1v3h-1zm1 3h1v2h-1zm0 2h2v1h-2zm1 1h1v2h-1zm1 2h1v2h-1zm0 2h2v1h-2zm1 1h1v1h-1zm0 1h2v1h-2zm1 1h1v1h-1zm0 1h2v1h-2zm1 1h2v1h-2zm1 1h1v1h-1zm0 1h2v1h-2zm1 1h1v1h-1zm0 1h2v1h-2zm1 1h1v1h-1zm0 1h2v1h-2zm1 1h2v1h-2zm1 1h1v1h-1zm0 1h2v1h-2zm1 1h2v1h-2zm1 1h2v1h-2zm1 1h2v1h-2zm1 1h2v1h-2zm1 1h2v1h-2zm1 1h2v1h-2zm1 1h2v1h-2zm2 1h2v1h-2zm2 1h2v1h-2zm2 1h3v1h-3zm3 1h2v1h-2zm3 1h1v1h-1z"/><path fill="#9e9e6e" d="m23 0h1v2h-1zm0 2h2v1h-2zm1 1h1v3h-1zm0 3h2v1h-2zm1 1h1v3h-1zm0 3h2v1h-2zm1 1h1v2h-1zm0 2h2v1h-2zm1 1h1v1h-1zm0 1h2v1h-2zm1 1h1v2h-1zm0 2h2v1h-2zm1 1h1v1h-1zm0 1h2v1h-2zm1 1h1v1h-1zm0 1h2v1h-2zm1 1h1v1h-1zm0 1h2v1h-2zm1 1h1v1h-1zm1 1h1v1h-1zm0 1h2v1h-2zm1 1h1v1h-1zm0 1h2v1h-2zm1 1h1v1h-1zm0 1h2v1h-2zm1 1h2v1h-2zm1 1h1v1h-1zm0 1h2v1h-2zm1 1h2v1h-2zm1 1h2v1h-2zm1 1h2v1h-2zm1 1h1v1h-1zm1 1h2v1h-2zm1 1h2v1h-2zm1 1h2v1h-2zm1 1h2v1h-2zm2 1h2v1h-2zm2 1h2v1h-2zm3 1h2v1h-2zm2 1h2v1h-2z"/><path fill="#a4a469" d="m24 0h1v2h-1zm1 2h1v3h-1zm0 3h2v1h-2zm1 1h1v3h-1zm0 3h2v1h-2zm1 1h1v2h-1zm0 2h2v1h-2zm1 1h1v2h-1zm1 2h1v2h-1zm0 2h2v1h-2zm1 1h1v1h-1zm0 1h2v1h-2zm1 1h1v1h-1zm0 1h2v1h-2zm1 1h1v1h-1zm0 1h2v1h-2zm1 1h1v1h-1zm0 1h2v1h-2zm1 1h2v1h-2zm1 1h1v1h-1zm0 1h2v1h-2zm1 1h1v1h-1zm0 1h2v1h-2zm1 1h2v1h-2zm1 1h1v1h-1zm0 1h2v1h-2zm1 1h2v1h-2zm1 1h2v1h-2zm1 1h1v1h-1zm1 1h1v1h-1zm0 1h2v1h-2zm2 1h1v1h-1zm1 1h2v1h-2zm1 1h2v1h-2zm1 1h2v1h-2zm2 1h2v1h-2zm2 1h3v1h-3zm3 1h2v1h-2z"/><path fill="#aaaa64" d="m25 0h1v1h-1zm0 1h2v1h-2zm1 1h1v2h-1zm0 2h2v1h-2zm1 1h1v3h-1zm0 3h2v1h-2zm1 1h1v2h-1zm0 2h2v1h-2zm1 1h1v2h-1zm0 2h2v1h-2zm1 1h1v1h-1zm0 1h2v1h-2zm1 1h1v1h-1zm0 1h2v1h-2zm1 1h1v1h-1zm0 1h2v1h-2zm1 1h1v1h-1zm0 1h2v1h-2zm1 1h1v1h-1zm0 1h2v1h-2zm1 1h1v1h-1zm1 1h1v1h-1zm0 1h2v1h-2zm1 1h1v1h-1zm0 1h2v1h-2zm1 1h2v1h-2zm1 1h1v1h-1zm0 1h2v1h-2zm1 1h2v1h-2zm1 1h2v1h-2zm1 1h1v1h-1zm0 1h2v1h-2zm1 1h2v1h-2zm1 1h2v1h-2zm1 1h2v1h-2zm2 1h2v1h-2zm1 1h2v1h-2zm1 1h2v1h-2zm2 1h2v1h-2zm3 1h2v1h-2z"/><path fill="#b0b05e" d="m26 0h2v1h-2zm1 1h1v3h-1zm1 3h1v3h-1zm0 3h2v1h-2zm1 1h1v2h-1zm0 2h2v1h-2zm1 1h1v2h-1zm0 2h2v1h-2zm1 1h1v2h-1zm1 2h1v2h-1zm1 2h1v2h-1zm1 2h1v2h-1zm1 2h1v1h-1zm0 1h2v1h-2zm1 1h1v1h-1zm0 1h2v1h-2zm1 1h2v1h-2zm1 1h1v1h-1zm0 1h2v1h-2zm1 1h2v1h-2zm1 1h1v1h-1zm0 1h2v1h-2zm1 1h2v1h-2zm1 1h1v1h-1zm1 1h1v1h-1zm0 1h2v1h-2zm1 1h2v1h-2zm1 1h2v1h-2zm1 1h2v1h-2zm1 1h2v1h-2zm2 1h2v1h-2zm1 1h2v1h-2zm1 1h3v1h-3zm2 1h3v1h-3zm-53 9h3v1h-3zm0 1h6v1h-6zm0 1h8v1h-8zm0 1h9v1h-9z"/><path fill="#b6b657" d="m28 0h1v1h-1zm0 1h2v3h-2zm1 3h1v1h-1zm0 1h2v2h-2zm1 2h1v1h-1zm0 1h2v2h-2zm1 2h1v1h-1zm0 1h2v2h-2zm1 2h1v1h-1zm0 1h2v2h-2zm1 2h2v2h-2zm1 2h2v2h-2zm1 2h2v2h-2zm1 2h2v1h-2zm1 1h1v1h-1zm0 1h2v1h-2zm1 1h2v1h-2zm1 1h1v1h-1zm0 1h2v1h-2zm1 1h2v1h-2zm1 1h1v1h-1zm0 1h2v1h-2zm1 1h2v1h-2zm1 1h2v2h-2zm1 2h2v1h-2zm1 1h2v1h-2zm1 1h2v1h-2zm1 1h2v1h-2zm1 1h2v1h-2zm1 1h3v1h-3zm2 1h2v1h-2zm1 1h2v1h-2zm2 1h2v1h-2zm-54 5h4v1h-4zm0 1h6v1h-6zm0 1h7v1h-7zm0 1h8v1h-8zm0 1h9v1h-9zm3 1h7v1h-7zm3 1h5v1h-5zm2 1h4v1h-4zm1 1h4v1h-4z"/><path fill="#bbbb50" d="m29 0h2v1h-2zm1 1h2v3h-2zm0 3h3v1h-3zm1 1h2v2h-2zm0 2h3v1h-3zm1 1h2v2h-2zm0 2h3v1h-3zm1 1h2v2h-2zm0 2h3v1h-3zm1 1h2v2h-2zm1 2h2v2h-2zm1 2h2v2h-2zm1 2h2v2h-2zm1 2h2v2h-2zm1 2h2v1h-2zm1 1h2v2h-2zm1 2h2v1h-2zm1 1h2v2h-2zm1 2h2v1h-2zm1 1h2v1h-2zm1 1h2v1h-2zm0 1h3v1h-3zm1 1h3v1h-3zm1 1h3v1h-3zm1 1h3v1h-3zm1 1h3v1h-3zm1 1h3v1h-3zm2 1h2v1h-2zm1 1h3v1h-3zm-53 1h2v1h-2zm54 0h2v1h-2zm-54 1h4v1h-4zm0 1h5v1h-5zm0 1h6v1h-6zm0 1h7v1h-7zm0 1h8v1h-8zm4 1h5v1h-5zm2 1h3v1h-3zm1 1h3v1h-3zm1 1h2v1h-2zm1 1h2v1h-2zm1 1h2v1h-2zm1 1h3v1h-3zm1 1h3v1h-3zm1 1h3v1h-3z"/><path fill="#c1c14a" d="m31 0h3v1h-3zm1 1h2v2h-2zm0 2h3v1h-3zm1 1h2v3h-2zm1 3h2v3h-2zm1 3h2v3h-2zm1 3h2v2h-2zm0 2h3v1h-3zm1 1h2v2h-2zm1 2h2v2h-2zm1 2h2v2h-2zm1 2h2v2h-2zm1 2h2v1h-2zm1 1h2v2h-2zm1 2h2v1h-2zm1 1h2v2h-2zm1 2h2v1h-2zm1 1h2v1h-2zm1 1h2v1h-2zm1 1h2v1h-2zm1 1h2v1h-2zm-49 1h2v1h-2zm50 0h2v1h-2zm-50 1h4v1h-4zm51 0h2v1h-2zm-51 1h5v2h-5zm52 0h2v1h-2zm1 1h3v1h-3zm-53 1h6v1h-6zm54 0h2v1h-2zm-54 1h7v1h-7zm2 1h5v1h-5zm2 1h4v1h-4zm1 1h3v1h-3zm1 1h3v1h-3zm1 1h2v1h-2zm1 1h2v1h-2zm1 1h2v2h-2zm1 2h2v2h-2zm1 2h2v1h-2zm1 1h2v1h-2zm2 1h1v1h-1zm1 1h1v1h-1zm1 1h2v1h-2z"/><path fill="#c7c743" d="m34 0h2v3h-2zm1 3h2v3h-2zm0 3h3v1h-3zm1 1h2v2h-2zm0 2h3v1h-3zm1 1h2v2h-2zm0 2h3v1h-3zm1 1h2v2h-2zm1 2h2v2h-2zm0 2h3v1h-3zm1 1h2v2h-2zm1 2h2v2h-2zm1 2h2v1h-2zm0 1h3v1h-3zm1 1h2v1h-2zm1 1h2v2h-2zm-44 1h1v1h-1zm0 1h3v2h-3zm45 0h2v1h-2zm1 1h2v2h-2zm-46 1h4v2h-4zm47 1h2v1h-2zm-47 1h5v2h-5zm48 0h2v1h-2zm1 1h2v1h-2zm-49 1h6v2h-6zm50 0h2v1h-2zm1 1h2v1h-2zm-49 1h5v1h-5zm50 0h2v1h-2zm-48 1h3v1h-3zm49 0h2v1h-2zm-48 1h2v1h-2zm49 0h2v1h-2zm-49 1h3v1h-3zm1 1h2v1h-2zm1 1h1v1h-1zm0 1h2v1h-2zm1 1h1v1h-1zm0 1h2v1h-2zm1 1h1v1h-1zm0 1h2v1h-2zm1 1h1v1h-1zm1 1h1v1h-1zm0 1h2v1h-2zm1 1h1v1h-1zm0 1h2v1h-2zm1 1h1v1h-1zm1 1h1v1h-1zm1 1h2v1h-2zm1 1h2v1h-2zm2 1h1v1h-1z"/><path fill="#d3d336" d="m0 0h3v1h-3zm38 0h2v1h-2zm-38 1h4v7h-4zm38 0h3v1h-3zm1 1h2v3h-2zm1 3h2v3h-2zm-40 3h5v2h-5zm40 0h3v1h-3zm1 1h2v2h-2zm-40 1h4v1h-4zm1 1h3v2h-3zm39 0h3v1h-3zm1 1h2v2h-2zm-39 1h2v2h-2zm40 1h2v2h-2zm-40 1h3v1h-3zm1 1h2v4h-2zm39 0h3v1h-3zm1 1h2v2h-2zm1 2h2v2h-2zm-40 1h1v1h-1zm0 1h2v4h-2zm41 0h2v2h-2zm1 2h2v2h-2zm-41 2h1v2h-1zm42 0h2v2h-2zm-42 2h2v2h-2zm43 0h2v1h-2zm1 1h2v2h-2zm-43 1h1v3h-1zm44 1h2v1h-2zm1 1h2v1h-2zm-45 1h2v1h-2zm46 0h2v1h-2zm-45 1h1v3h-1zm46 0h2v1h-2zm1 1h1v1h-1zm-46 2h1v3h-1zm0 3h2v1h-2zm1 1h1v2h-1zm1 2h1v2h-1zm1 2h1v2h-1zm1 2h1v2h-1zm1 2h1v2h-1zm1 2h1v1h-1zm1 1h1v1h-1zm1 1h1v1h-1zm1 1h1v1h-1zm1 1h1v1h-1zm1 1h1v1h-1z"/><path fill="#d8d830" d="m3 0h2v1h-2zm37 0h2v1h-2zm-36 1h1v4h-1zm37 0h1v2h-1zm0 2h2v2h-2zm-37 2h2v3h-2zm38 0h1v1h-1zm0 1h2v2h-2zm-37 2h1v6h-1zm38 0h1v1h-1zm0 1h2v2h-2zm1 2h1v1h-1zm0 1h2v2h-2zm-39 2h2v1h-2zm40 0h1v1h-1zm-39 1h1v6h-1zm39 0h2v1h-2zm1 1h1v1h-1zm0 1h2v2h-2zm1 2h1v1h-1zm0 1h2v1h-2zm-40 1h1v6h-1zm41 0h1v1h-1zm0 1h2v1h-2zm1 1h1v1h-1zm0 1h2v1h-2zm1 1h1v1h-1zm0 1h2v1h-2zm-42 1h1v5h-1zm43 0h1v1h-1zm1 1h1v1h-1zm0 1h2v1h-2zm1 1h2v1h-2zm1 1h2v1h-2zm-45 1h1v4h-1zm46 0h1v1h-1zm-45 4h1v3h-1zm1 4h1v2h-1zm1 3h1v1h-1zm1 2h1v1h-1zm1 2h1v1h-1zm1 1h1v2h-1zm1 2h1v1h-1zm2 2h1v1h-1zm1 1h1v1h-1zm1 1h1v1h-1zm1 1h2v1h-2z"/><path fill="#dddd2a" d="m5 0h1v5h-1zm37 0h1v2h-1zm0 2h2v1h-2zm1 1h1v2h-1zm0 2h2v1h-2zm1 1h1v2h-1zm-38 1h1v7h-1zm38 1h2v1h-2zm1 1h1v2h-1zm0 2h2v1h-2zm1 1h1v1h-1zm0 1h2v2h-2zm-39 1h1v7h-1zm40 1h1v1h-1zm0 1h2v1h-2zm1 1h1v2h-1zm0 2h2v1h-2zm1 1h1v1h-1zm-41 1h1v6h-1zm41 0h2v1h-2zm1 1h1v2h-1zm1 2h1v1h-1zm0 1h2v1h-2zm1 1h1v1h-1zm-43 1h1v5h-1zm43 0h2v1h-2zm1 1h1v1h-1zm1 1h1v1h-1zm1 1h1v1h-1zm-45 3h1v3h-1zm1 4h1v3h-1zm1 4h1v2h-1zm1 2h1v2h-1zm1 2h1v2h-1zm1 2h1v1h-1zm1 2h1v1h-1zm1 2h1v1h-1zm3 2h1v1h-1zm1 1h1v1h-1z"/><path fill="#e2e224" d="m6 0h1v7h-1zm37 0h1v1h-1zm0 1h2v1h-2zm1 1h1v2h-1zm0 2h2v1h-2zm1 1h1v2h-1zm0 2h2v1h-2zm1 1h1v1h-1zm-39 1h1v5h-1zm39 0h2v2h-2zm1 2h1v1h-1zm0 1h2v1h-2zm1 1h1v2h-1zm0 2h2v1h-2zm1 1h1v1h-1zm-41 1h1v4h-1zm41 0h2v2h-2zm1 2h1v1h-1zm0 1h2v1h-2zm1 1h1v2h-1zm-42 2h1v4h-1zm42 0h2v1h-2zm1 1h1v1h-1zm1 1h1v2h-1zm1 2h1v1h-1zm0 1h2v1h-2zm-44 1h1v4h-1zm45 0h1v1h-1zm-44 5h1v3h-1zm1 4h1v3h-1zm1 4h1v1h-1zm1 2h1v1h-1zm1 2h1v1h-1zm1 2h1v1h-1zm1 2h1v1h-1zm1 1h1v1h-1zm1 1h1v1h-1zm2 1h1v1h-1zm1 1h1v1h-1zm1 1h1v1h-1z"/><path fill="#e7e71e" d="m44 0h1v1h-1zm1 1h1v2h-1zm-38 2h1v6h-1zm38 0h2v1h-2zm1 1h1v2h-1zm0 2h2v1h-2zm1 1h1v1h-1zm0 1h2v1h-2zm1 1h1v2h-1zm0 2h2v1h-2zm-40 1h1v5h-1zm41 0h1v1h-1zm0 1h2v2h-2zm1 2h1v1h-1zm0 1h2v1h-2zm1 1h1v2h-1zm-42 2h1v4h-1zm42 0h2v1h-2zm1 1h1v2h-1zm0 2h2v1h-2zm1 1h1v1h-1zm0 1h2v1h-2zm-43 1h1v4h-1zm44 0h1v1h-1zm0 1h2v1h-2zm1 1h1v1h-1zm-44 4h1v3h-1zm1 4h1v3h-1zm1 5h1v2h-1zm1 3h1v1h-1zm1 2h1v1h-1zm1 2h1v1h-1zm1 1h1v2h-1zm1 2h1v1h-1zm1 1h1v1h-1zm1 1h1v1h-1zm2 1h1v1h-1zm1 1h1v1h-1zm1 1h1v1h-1z"/><path fill="#ebeb18" d="m7 0h1v3h-1zm38 0h2v1h-2zm1 1h1v1h-1zm0 1h2v1h-2zm1 1h1v2h-1zm0 2h2v1h-2zm1 1h1v1h-1zm0 1h2v1h-2zm1 1h1v2h-1zm-41 1h1v3h-1zm41 1h2v1h-2zm1 1h1v1h-1zm0 1h2v1h-2zm1 1h1v1h-1zm0 1h2v2h-2zm-42 2h1v3h-1zm43 0h1v1h-1zm0 1h2v2h-2zm1 2h1v1h-1zm0 1h2v2h-2zm-43 2h1v3h-1zm44 0h1v1h-1zm0 1h2v1h-2zm1 1h1v2h-1zm-44 4h1v3h-1zm1 5h1v2h-1zm1 4h1v3h-1zm1 4h1v2h-1zm1 2h1v2h-1zm1 2h1v2h-1zm1 2h1v1h-1zm1 2h1v1h-1zm3 3h1v1h-1zm3 2h1v1h-1zm1 1h1v1h-1z"/><path fill="#f0f012" d="m47 0h1v2h-1zm1 2h1v2h-1zm-40 2h1v5h-1zm40 0h2v1h-2zm1 1h1v1h-1zm0 1h2v1h-2zm1 1h1v1h-1zm0 1h2v2h-2zm1 2h1v1h-1zm0 1h2v1h-2zm-42 1h1v4h-1zm43 0h1v1h-1zm0 1h2v1h-2zm1 1h1v2h-1zm0 2h2v1h-2zm1 1h1v2h-1zm-44 2h1v3h-1zm44 0h2v1h-2zm1 1h1v3h-1zm-44 5h1v3h-1zm1 6h1v2h-1zm1 4h1v2h-1zm1 4h1v2h-1zm1 3h1v1h-1zm1 2h1v1h-1zm1 2h1v1h-1zm1 2h1v1h-1zm1 2h1v1h-1zm1 1h1v1h-1zm3 2h1v1h-1zm3 2h1v1h-1z"/><path fill="#f5f50c" d="m8 0h1v4h-1zm40 0h1v1h-1zm0 1h2v1h-2zm1 1h1v1h-1zm0 1h2v1h-2zm1 1h1v1h-1zm0 1h2v1h-2zm1 1h1v1h-1zm0 1h2v1h-2zm1 1h1v2h-1zm-43 2h1v2h-1zm43 0h2v1h-2zm1 1h1v1h-1zm0 1h2v1h-2zm1 1h1v1h-1zm0 1h2v2h-2zm-44 2h1v3h-1zm45 0h1v3h-1zm-44 6h1v3h-1zm1 6h1v3h-1zm1 5h1v2h-1zm1 4h1v2h-1zm1 4h1v1h-1zm1 2h1v1h-1zm1 2h1v1h-1zm1 2h1v1h-1zm1 2h1v1h-1zm1 1h1v1h-1zm1 1h1v1h-1zm1 1h1v1h-1zm2 1h1v1h-1zm1 1h1v1h-1z"/><path fill="#fafa06" d="m49 0h2v1h-2zm1 1h1v1h-1zm0 1h2v1h-2zm1 1h1v1h-1zm0 1h2v1h-2zm1 1h1v2h-1zm-43 2h1v3h-1zm44 0h1v2h-1zm0 2h2v1h-2zm1 1h1v1h-1zm0 1h2v1h-2zm1 1h1v2h-1zm-45 2h1v2h-1zm1 6h1v2h-1zm1 6h1v2h-1zm1 5h1v2h-1zm1 4h1v2h-1zm1 5h1v1h-1zm2 4h1v1h-1zm1 2h1v1h-1zm1 2h1v1h-1zm7 6h1v1h-1zm1 1h1v1h-1z"/><path fill="#ffff00" d="m51 1h1v1h-1zm1 2h1v1h-1zm-43 2h1v2h-1zm44 0h1v2h-1zm1 2h1v2h-1zm1 2h1v2h-1zm-45 3h1v2h-1zm1 7h1v1h-1zm1 6h1v1h-1zm1 5h1v1h-1zm2 9h1v1h-1zm1 3h1v1h-1zm3 5h1v1h-1zm1 2h1v1h-1zm3 3h1v1h-1z"/></g>
<path d="M162.0 1362.6v-3.5M162.0 1089.3v3.5M135 1335.8h3.5M409.2 1335.8h-3.5M210.6 1362.6v-3.5M210.6 1089.3v3.5M135 1287.5h3.5M409.2 1287.5h-3.5M259.2 1362.6v-3.5M259.2 1089.3v3.5M135 1239.2h3.5M409.2 1239.2h-3.5M307.8 1362.6v-3.5M307.8 1089.3v3.5M135 1190.9h3.5M409.2 1190.9h-3.5M356.4 1362.6v-3.5M356.4 1089.3v3.5M135 1142.7h3.5M409.2 1142.7h-3.5M405.0 1362.6v-3.5M405.0 1089.3v3.5M135 1094.4h3.5M409.2 1094.4h-3.5" stroke="#262626" stroke-width="1.6" fill="none"/><rect x="135" y="1089.3" width="274.2" height="273.3" fill="none" stroke="#262626" stroke-width="1.8"/><g class="s" font-size="31" fill="#262626" text-anchor="end"><text x="124.5" y="1346.8">40</text><text x="124.5" y="1298.5">60</text><text x="124.5" y="1250.2">80</text><text x="124.5" y="1201.9">100</text><text x="124.5" y="1153.7">120</text><text x="124.5" y="1105.4">140</text></g><g class="s" font-size="31" fill="#262626" text-anchor="middle"><text x="162.0" y="1401.9">40</text><text x="210.6" y="1401.9">60</text><text x="259.2" y="1401.9">80</text><text x="307.8" y="1401.9">100</text><text x="356.4" y="1401.9">120</text><text x="405.0" y="1401.9">140</text></g><text class="s" font-size="33" fill="#262626" text-anchor="middle" x="271.1" y="1441.6"><tspan font-style="italic">Lx</tspan> (μm)</text><text class="s" font-size="34.2" fill="#262626" text-anchor="middle" x="65.5" y="1226.5" transform="rotate(-90 65.5 1226.5)"><tspan font-style="italic">Ly</tspan> (μm)</text><rect x="442" y="1089.3" width="27.5" height="273.3" fill="url(#cp)" stroke="#262626" stroke-width="1"/><text class="s" font-size="31" fill="#262626" x="479.5" y="1100.7"><tspan font-style="italic">π</tspan></text><text class="s" font-size="31" fill="#262626" x="479.5" y="1374.0">-<tspan font-style="italic">π</tspan></text>
<g shape-rendering="crispEdges" transform="translate(614.2 1089.3) scale(4.88036 4.88036)"><path fill="#cdcd3d" d="M0 0h56v56H0z"/><path fill="#0000ff" d="m47 0h1v1h-1zm2 1h1v1h-1zm2 1h1v1h-1zm2 1h1v1h-1zm2 1h1v1h-1zm-53 26h1v1h-1zm15 10h1v1h-1zm4 1h1v1h-1zm10 2h1v1h-1zm6 1h1v1h-1zm14 2h1v1h-1z"/><path fill="#0000ff" d="m48 0h3v1h-3zm2 1h3v1h-3zm2 1h3v1h-3zm2 1h2v1h-2zm-54 24h1v1h-1zm4 6h1v1h-1zm1 1h1v1h-1zm5 3h1v1h-1zm16 5h1v1h-1zm26 4h1v1h-1z"/><path fill="#0000ff" d="m51 0h2v1h-2zm2 1h2v1h-2zm2 1h1v1h-1zm-48 33h1v1h-1zm5 3h1v1h-1zm2 1h1v1h-1zm4 1h1v1h-1zm14 3h1v1h-1zm6 1h1v1h-1zm6 1h1v1h-1zm9 1h1v1h-1z"/><path fill="#0000ff" d="m53 0h2v1h-2zm2 1h1v1h-1zm-54 27h1v1h-1zm21 13h1v1h-1zm5 1h1v1h-1zm27 4h1v1h-1z"/><path fill="#0000ff" d="m55 0h1v1h-1zm-46 36h1v1h-1zm24 7h1v1h-1zm12 2h1v1h-1z"/><path fill="#0000ff" d="m3 31h1v1h-1zm3 3h1v1h-1zm5 3h1v1h-1zm4 2h1v1h-1zm4 1h1v1h-1zm4 1h1v1h-1zm5 1h1v1h-1zm11 2h1v1h-1zm16 2h1v1h-1z"/><path fill="#0000ff" d="m0 26h1v1h-1zm2 3h1v1h-1zm2 3h1v1h-1zm4 3h1v1h-1zm5 3h1v1h-1zm21 5h1v1h-1zm12 2h1v1h-1z"/><path fill="#0000ff" d="m5 33h1v1h-1zm11 6h1v1h-1zm4 1h1v1h-1zm4 1h1v1h-1zm5 1h1v1h-1zm11 2h1v1h-1z"/><path fill="#0000ff" d="m10 36h1v1h-1zm37 9h1v1h-1z"/><path fill="#0000ff" d="m1 27h1v1h-1zm6 7h1v1h-1zm10 5h1v1h-1zm8 2h1v1h-1zm5 1h1v1h-1zm5 1h1v1h-1zm6 1h1v1h-1z"/><path fill="#0000ff" d="m3 30h1v1h-1zm9 7h1v1h-1zm2 1h1v1h-1zm7 2h1v1h-1z"/><path fill="#0000ff" d="m0 25h1v1h-1zm2 3h1v1h-1zm2 3h1v1h-1zm1 1h1v1h-1zm1 1h1v1h-1zm2 1h1v1h-1zm1 1h1v1h-1zm2 1h1v1h-1zm4 2h1v1h-1zm3 1h1v1h-1zm4 1h1v1h-1zm4 1h2v1h-2zm5 1h1v1h-1zm5 1h2v1h-2zm6 1h2v1h-2zm6 1h3v1h-3z"/><path fill="#0606ff" d="m0 24h1v1h-1zm1 2h1v1h-1zm1 1h1v1h-1zm1 2h1v1h-1zm1 1h1v1h-1zm1 1h1v1h-1zm1 1h1v1h-1zm1 1h2v1h-2zm2 1h1v1h-1zm1 1h2v1h-2zm2 1h1v1h-1zm1 1h2v1h-2zm3 1h3v1h-3zm3 1h3v1h-3zm4 1h3v1h-3zm5 1h3v1h-3zm4 1h3v1h-3zm6 1h3v1h-3zm6 1h3v1h-3zm7 1h4v1h-4z"/><path fill="#0d0dff" d="m0 23h1v1h-1zm1 1h1v2h-1zm1 2h1v1h-1zm1 1h1v2h-1zm1 2h1v1h-1zm1 1h1v1h-1zm1 1h2v1h-2zm1 1h2v1h-2zm2 1h1v1h-1zm1 1h1v1h-1zm2 1h1v1h-1zm1 1h2v1h-2zm2 1h3v1h-3zm4 1h2v1h-2zm3 1h3v1h-3zm4 1h3v1h-3zm5 1h2v1h-2zm4 1h3v1h-3zm6 1h3v1h-3zm6 1h4v1h-4zm8 1h1v1h-1z"/><path fill="#1515ff" d="m0 22h1v1h-1zm1 1h1v1h-1zm1 1h1v2h-1zm1 2h1v1h-1zm1 1h1v2h-1zm1 2h2v1h-2zm1 1h2v1h-2zm2 1h1v1h-1zm1 1h1v1h-1zm1 1h1v1h-1zm1 1h2v1h-2zm2 1h2v1h-2zm2 1h2v1h-2zm3 1h2v1h-2zm3 1h3v1h-3zm4 1h3v1h-3zm4 1h3v1h-3zm4 1h3v1h-3zm5 1h3v1h-3zm6 1h3v1h-3zm7 1h4v1h-4z"/><path fill="#1c1cff" d="m0 20h1v2h-1zm1 2h1v1h-1zm1 1h1v1h-1zm1 2h1v1h-1zm1 1h1v1h-1zm1 1h1v1h-1zm0 1h2v1h-2zm2 1h1v1h-1zm1 1h1v1h-1zm1 1h1v1h-1zm1 1h1v1h-1zm1 1h2v1h-2zm2 1h2v1h-2zm2 1h2v1h-2zm2 1h3v1h-3zm3 1h3v1h-3zm4 1h2v1h-2zm4 1h2v1h-2zm4 1h2v1h-2zm4 1h3v1h-3zm5 1h3v1h-3zm6 1h4v1h-4zm8 1h1v1h-1z"/><path fill="#2323ff" d="m0 19h1v1h-1zm1 1h1v2h-1zm1 2h1v1h-1zm1 1h1v2h-1zm1 2h1v1h-1zm1 1h1v1h-1zm1 1h1v1h-1zm1 1h1v1h-1zm1 1h1v1h-1zm1 1h1v1h-1zm1 1h1v1h-1zm1 1h2v1h-2zm2 1h1v1h-1zm2 1h1v1h-1zm2 1h2v1h-2zm3 1h2v1h-2zm3 1h2v1h-2zm3 1h3v1h-3zm4 1h3v1h-3zm4 1h3v1h-3zm5 1h2v1h-2zm5 1h3v1h-3zm7 1h3v1h-3z"/><path fill="#2b2bff" d="m0 17h1v2h-1zm1 2h1v1h-1zm1 1h1v2h-1zm1 2h1v1h-1zm1 1h1v2h-1zm1 2h1v1h-1zm1 1h1v1h-1zm1 1h1v1h-1zm1 1h1v1h-1zm1 1h1v1h-1zm1 1h1v1h-1zm1 1h1v1h-1zm2 1h1v1h-1zm1 1h2v1h-2zm2 1h2v1h-2zm3 1h2v1h-2zm3 1h2v1h-2zm3 1h2v1h-2zm4 1h2v1h-2zm4 1h2v1h-2zm4 1h2v1h-2zm4 1h3v1h-3zm6 1h3v1h-3zm7 1h2v1h-2z"/><path fill="#3232ff" d="m0 15h1v2h-1zm1 2h1v2h-1zm1 2h1v1h-1zm1 1h1v2h-1zm1 2h1v1h-1zm1 1h1v1h-1zm0 1h2v1h-2zm1 1h1v1h-1zm1 1h1v1h-1zm1 1h1v1h-1zm1 1h1v1h-1zm1 1h1v1h-1zm1 1h1v1h-1zm1 1h2v1h-2zm2 1h1v1h-1zm2 1h2v1h-2zm2 1h2v1h-2zm3 1h2v1h-2zm3 1h2v1h-2zm3 1h2v1h-2zm4 1h2v1h-2zm4 1h2v1h-2zm4 1h2v1h-2zm5 1h2v1h-2zm6 1h2v1h-2z"/><path fill="#3a3aff" d="m0 13h1v2h-1zm1 2h1v2h-1zm1 2h1v2h-1zm1 2h1v1h-1zm1 1h1v2h-1zm1 2h1v1h-1zm1 1h1v1h-1zm1 1h1v2h-1zm1 2h1v1h-1zm1 1h1v1h-1zm1 1h1v1h-1zm1 1h1v1h-1zm1 1h1v1h-1zm2 1h1v1h-1zm1 1h2v1h-2zm3 1h1v1h-1zm2 1h2v1h-2zm3 1h2v1h-2zm3 1h2v1h-2zm3 1h2v1h-2zm4 1h2v1h-2zm4 1h1v1h-1zm4 1h2v1h-2zm5 1h2v1h-2zm6 1h2v1h-2z"/><path fill="#4040fc" d="m0 11h1v2h-1zm1 2h1v2h-1zm1 2h1v2h-1zm1 2h1v2h-1zm1 2h1v1h-1zm1 1h1v2h-1zm1 2h1v1h-1zm1 1h1v1h-1zm1 1h1v2h-1zm1 2h1v1h-1zm1 1h1v1h-1zm1 1h1v1h-1zm1 1h1v1h-1zm1 1h2v1h-2zm2 1h1v1h-1zm2 1h1v1h-1zm2 1h2v1h-2zm3 1h2v1h-2zm3 1h2v1h-2zm3 1h2v1h-2zm3 1h2v1h-2zm4 1h1v1h-1zm3 1h2v1h-2zm5 1h2v1h-2zm5 1h3v1h-3zm6 1h2v1h-2z"/><path fill="#4444f5" d="m0 9h1v2h-1zm1 2h1v2h-1zm1 2h1v2h-1zm1 2h1v2h-1zm1 2h1v2h-1zm1 2h1v1h-1zm1 1h1v2h-1zm1 2h1v1h-1zm1 1h1v1h-1zm1 2h1v1h-1zm1 1h1v1h-1zm1 1h1v1h-1zm1 1h1v1h-1zm1 1h1v1h-1zm2 1h1v1h-1zm1 1h2v1h-2zm2 1h2v1h-2zm3 1h2v1h-2zm3 1h1v1h-1zm3 1h1v1h-1zm3 1h1v1h-1zm3 1h1v1h-1zm3 1h2v1h-2zm4 1h2v1h-2zm5 1h2v1h-2zm6 1h2v1h-2z"/><path fill="#4949ee" d="m0 7h1v2h-1zm1 2h1v2h-1zm1 2h1v2h-1zm1 3h1v1h-1zm1 1h1v2h-1zm1 2h1v2h-1zm1 2h1v1h-1zm1 1h1v2h-1zm1 2h1v1h-1zm1 1h1v2h-1zm1 2h1v1h-1zm1 1h1v1h-1zm1 1h1v1h-1zm1 1h1v1h-1zm1 1h2v1h-2zm2 1h1v1h-1zm2 1h1v1h-1zm2 1h2v1h-2zm3 1h1v1h-1zm2 1h2v1h-2zm3 1h2v1h-2zm3 1h2v1h-2zm3 1h2v1h-2zm4 1h2v1h-2zm4 1h2v1h-2zm5 1h2v1h-2zm6 1h2v1h-2z"/><path fill="#4d4de7" d="m0 5h1v2h-1zm1 2h1v2h-1zm1 3h1v1h-1zm1 2h1v2h-1zm1 2h1v1h-1zm1 2h1v1h-1zm1 1h1v2h-1zm1 2h1v1h-1zm1 2h1v1h-1zm1 1h1v1h-1zm1 2h1v1h-1zm1 1h1v1h-1zm1 1h1v1h-1zm1 1h1v1h-1zm1 1h1v1h-1zm2 1h1v1h-1zm1 1h2v1h-2zm2 1h2v1h-2zm3 1h1v1h-1zm2 1h2v1h-2zm3 1h2v1h-2zm3 1h1v1h-1zm3 1h1v1h-1zm3 1h2v1h-2zm4 1h1v1h-1zm4 1h2v1h-2zm5 1h2v1h-2zm6 1h1v1h-1z"/><path fill="#5252e0" d="m0 3h1v2h-1zm1 2h1v2h-1zm1 3h1v2h-1zm1 2h1v2h-1zm1 2h1v2h-1zm1 2h1v2h-1zm1 2h1v1h-1zm1 2h1v1h-1zm1 2h1v1h-1zm1 1h1v1h-1zm1 2h1v1h-1zm1 1h1v1h-1zm1 1h1v1h-1zm1 1h1v1h-1zm1 1h1v1h-1zm1 1h1v1h-1zm2 1h1v1h-1zm2 1h1v1h-1zm2 1h1v1h-1zm2 1h2v1h-2zm3 1h1v1h-1zm3 1h1v1h-1zm2 1h2v1h-2zm3 1h2v1h-2zm4 1h1v1h-1zm3 1h2v1h-2zm5 1h2v1h-2zm5 1h2v1h-2z"/><path fill="#5656d9" d="m0 1h1v2h-1zm1 3h1v1h-1zm1 2h1v2h-1zm1 2h1v2h-1zm1 3h1v1h-1zm1 2h1v1h-1zm1 2h1v1h-1zm1 2h1v1h-1zm1 1h1v2h-1zm1 2h1v1h-1zm1 2h1v1h-1zm1 1h1v1h-1zm3 3h1v1h-1zm1 1h1v1h-1zm1 1h2v1h-2zm2 1h1v1h-1zm2 1h1v1h-1zm2 1h2v1h-2zm3 1h1v1h-1zm2 1h2v1h-2zm3 1h2v1h-2zm3 1h1v1h-1zm3 1h1v1h-1zm3 1h2v1h-2zm4 1h2v1h-2zm5 1h2v1h-2zm5 1h2v1h-2z"/><path fill="#5b5bd2" d="m0 0h1v1h-1zm1 2h1v2h-1zm1 2h1v2h-1zm1 3h1v1h-1zm1 2h1v2h-1zm1 2h1v2h-1zm1 2h1v2h-1zm1 2h1v2h-1zm1 2h1v1h-1zm1 2h1v1h-1zm1 2h1v1h-1zm1 1h1v1h-1zm1 2h1v1h-1zm1 1h1v1h-1zm2 1h1v1h-1zm1 1h1v1h-1zm2 1h1v1h-1zm1 1h2v1h-2zm2 1h2v1h-2zm3 1h1v1h-1zm2 1h2v1h-2zm3 1h1v1h-1zm3 1h1v1h-1zm2 1h2v1h-2zm3 1h2v1h-2zm4 1h1v1h-1zm4 1h2v1h-2zm5 1h1v1h-1zm5 1h1v1h-1z"/><path fill="#6060c9" d="m1 0h1v2h-1zm1 2h1v2h-1zm1 3h1v2h-1zm1 3h1v1h-1zm1 2h1v1h-1zm1 2h1v1h-1zm1 2h1v1h-1zm1 2h1v1h-1zm1 2h1v1h-1zm1 2h1v1h-1zm1 1h1v1h-1zm1 2h1v1h-1zm1 1h1v1h-1zm1 1h1v1h-1zm2 1h1v1h-1zm1 1h1v1h-1zm2 1h1v1h-1zm2 1h1v1h-1zm2 1h1v1h-1zm2 1h2v1h-2zm3 1h1v1h-1zm2 1h2v1h-2zm3 1h1v1h-1zm3 1h1v1h-1zm3 1h1v1h-1zm3 1h2v1h-2zm5 1h1v1h-1zm4 1h2v1h-2z"/><path fill="#6565bf" d="m2 1h1v1h-1zm1 2h1v2h-1zm1 3h1v2h-1zm1 2h1v2h-1zm1 3h1v1h-1zm1 2h1v1h-1zm1 2h1v1h-1zm1 2h1v1h-1zm1 2h1v1h-1zm2 3h1v1h-1zm1 1h1v1h-1zm1 1h1v1h-1zm1 1h1v1h-1zm2 1h1v1h-1zm1 1h1v1h-1zm2 1h1v1h-1zm2 1h1v1h-1zm2 1h2v1h-2zm3 1h1v1h-1zm2 1h1v1h-1zm3 1h1v1h-1zm2 1h2v1h-2zm3 1h2v1h-2zm3 1h2v1h-2zm4 1h2v1h-2zm4 1h2v1h-2zm5 1h2v1h-2z"/><path fill="#6b6bb5" d="m2 0h1v1h-1zm1 2h1v1h-1zm1 2h1v2h-1zm1 3h1v1h-1zm1 2h1v2h-1zm1 2h1v2h-1zm1 3h1v1h-1zm1 2h1v1h-1zm1 2h1v1h-1zm1 2h1v1h-1zm1 1h1v1h-1zm1 1h1v1h-1zm1 1h1v1h-1zm1 1h1v1h-1zm1 1h1v1h-1zm2 1h1v1h-1zm1 1h2v1h-2zm2 1h2v1h-2zm2 1h2v1h-2zm3 1h1v1h-1zm2 1h1v1h-1zm2 1h2v1h-2zm3 1h1v1h-1zm3 1h1v1h-1zm3 1h1v1h-1zm3 1h1v1h-1zm4 1h1v1h-1zm4 1h2v1h-2zm5 1h1v1h-1z"/><path fill="#7070ab" d="m3 0h1v2h-1zm1 3h1v1h-1zm1 2h1v2h-1zm1 3h1v1h-1zm1 2h1v1h-1zm1 2h1v2h-1zm1 3h1v1h-1zm1 2h1v1h-1zm1 2h1v1h-1zm1 1h1v1h-1zm3 3h1v1h-1zm1 1h1v1h-1zm1 1h1v1h-1zm2 1h1v1h-1zm2 1h1v1h-1zm2 1h1v1h-1zm2 1h1v1h-1zm2 1h1v1h-1zm2 1h2v1h-2zm3 1h1v1h-1zm2 1h1v1h-1zm3 1h1v1h-1zm3 1h1v1h-1zm3 1h2v1h-2zm4 1h2v1h-2zm5 1h1v1h-1z"/><path fill="#7676a0" d="m4 1h1v2h-1zm1 3h1v1h-1zm1 2h1v2h-1zm1 3h1v1h-1zm1 2h1v1h-1zm1 3h1v1h-1zm1 2h1v1h-1zm1 2h1v1h-1zm1 1h1v1h-1zm1 2h1v1h-1zm1 1h1v1h-1zm2 1h1v1h-1zm1 1h1v1h-1zm1 1h1v1h-1zm2 1h1v1h-1zm2 1h1v1h-1zm2 1h1v1h-1zm2 1h1v1h-1zm2 1h2v1h-2zm3 1h1v1h-1zm2 1h1v1h-1zm2 1h2v1h-2zm3 1h1v1h-1zm3 1h2v1h-2zm4 1h1v1h-1zm4 1h2v1h-2zm4 1h2v1h-2z"/><path fill="#7b7b96" d="m4 0h1v1h-1zm1 2h1v2h-1zm1 3h1v1h-1zm1 3h1v1h-1zm1 2h1v1h-1zm1 3h1v1h-1zm1 2h1v1h-1zm1 2h1v1h-1zm2 3h1v1h-1zm1 1h1v1h-1zm1 1h1v1h-1zm2 1h1v1h-1zm1 1h1v1h-1zm1 1h2v1h-2zm2 1h1v1h-1zm2 1h1v1h-1zm2 1h2v1h-2zm2 1h2v1h-2zm3 1h1v1h-1zm2 1h1v1h-1zm2 1h1v1h-1zm3 1h1v1h-1zm2 1h2v1h-2zm4 1h1v1h-1zm3 1h2v1h-2zm5 1h1v1h-1zm4 1h1v1h-1z"/><path fill="#81818c" d="m5 1h1v1h-1zm1 3h1v1h-1zm1 2h1v2h-1zm1 3h1v1h-1zm1 2h1v2h-1zm1 3h1v1h-1zm1 2h1v1h-1zm1 2h1v1h-1zm1 1h1v1h-1zm1 1h1v1h-1zm1 1h1v1h-1zm1 1h1v1h-1zm3 2h1v1h-1zm2 1h1v1h-1zm1 1h2v1h-2zm2 1h2v1h-2zm3 1h1v1h-1zm2 1h1v1h-1zm2 1h1v1h-1zm2 1h1v1h-1zm2 1h2v1h-2zm3 1h1v1h-1zm3 1h1v1h-1zm3 1h1v1h-1zm4 1h1v1h-1zm4 1h2v1h-2z"/><path fill="#868684" d="m5 0h1v1h-1zm1 1h1v3h-1zm1 3h1v2h-1zm1 2h1v3h-1zm1 3h1v2h-1zm1 3h1v2h-1zm1 2h1v2h-1zm1 2h1v1h-1zm0 1h2v1h-2zm1 1h2v1h-2zm1 1h2v1h-2zm1 1h2v1h-2zm1 1h2v1h-2zm1 1h3v1h-3zm1 1h3v1h-3zm2 1h3v1h-3zm2 1h3v1h-3zm2 1h3v1h-3zm2 1h3v1h-3zm2 1h3v1h-3zm2 1h3v1h-3zm2 1h3v1h-3zm2 1h3v1h-3zm3 1h3v1h-3zm2 1h4v1h-4zm3 1h4v1h-4zm3 1h5v1h-5zm4 1h5v1h-5zm5 1h2v1h-2z"/><path fill="#8c8c7e" d="m6 0h1v1h-1zm1 1h1v3h-1zm1 3h1v2h-1zm1 3h1v2h-1zm1 2h1v2h-1zm0 2h2v1h-2zm1 1h1v1h-1zm0 1h2v1h-2zm1 1h1v1h-1zm0 1h2v1h-2zm1 1h2v1h-2zm1 1h2v1h-2zm1 1h2v1h-2zm1 1h2v1h-2zm1 1h2v1h-2zm1 1h3v1h-3zm2 1h2v1h-2zm1 1h3v1h-3zm2 1h3v1h-3zm2 1h3v1h-3zm2 1h3v1h-3zm2 1h3v1h-3zm2 1h3v1h-3zm2 1h3v1h-3zm2 1h3v1h-3zm2 1h4v1h-4zm3 1h4v1h-4zm3 1h4v1h-4zm3 1h5v1h-5zm4 1h5v1h-5zm4 1h2v1h-2z"/><path fill="#929279" d="m7 0h1v1h-1zm1 1h1v3h-1zm1 3h1v3h-1zm1 3h1v2h-1zm1 2h1v2h-1zm1 2h1v2h-1zm1 2h1v1h-1zm0 1h2v1h-2zm1 1h2v1h-2zm1 1h2v1h-2zm1 1h2v1h-2zm1 1h2v1h-2zm1 1h2v1h-2zm1 1h3v1h-3zm2 1h2v1h-2zm1 1h3v1h-3zm2 1h3v1h-3zm2 1h3v1h-3zm2 1h2v1h-2zm2 1h2v1h-2zm2 1h2v1h-2zm2 1h3v1h-3zm2 1h3v1h-3zm2 1h4v1h-4zm3 1h4v1h-4zm3 1h4v1h-4zm3 1h5v1h-5zm4 1h5v1h-5zm4 1h1v1h-1z"/><path fill="#989874" d="m8 0h1v1h-1zm1 2h1v2h-1zm1 2h1v3h-1zm1 3h1v2h-1zm1 2h1v2h-1zm1 2h1v1h-1zm0 1h2v1h-2zm1 1h2v1h-2zm1 1h2v1h-2zm1 1h2v1h-2zm1 1h2v1h-2zm1 1h2v1h-2zm1 1h2v1h-2zm1 1h3v1h-3zm2 1h2v1h-2zm1 1h3v1h-3zm2 1h3v1h-3zm2 1h3v1h-3zm2 1h2v1h-2zm1 1h3v1h-3zm2 1h3v1h-3zm2 1h3v1h-3zm3 1h3v1h-3zm2 1h3v1h-3zm3 1h3v1h-3zm3 1h4v1h-4zm3 1h5v1h-5zm4 1h4v1h-4z"/><path fill="#9e9e6e" d="m9 0h1v2h-1zm1 2h1v2h-1zm1 3h1v2h-1zm1 2h1v2h-1zm1 2h1v1h-1zm0 1h2v1h-2zm1 1h2v1h-2zm1 1h2v1h-2zm1 1h1v1h-1zm1 1h2v1h-2zm1 1h2v1h-2zm1 1h2v1h-2zm1 1h2v1h-2zm1 1h3v1h-3zm2 1h2v1h-2zm1 1h3v1h-3zm2 1h3v1h-3zm2 1h2v1h-2zm2 1h2v1h-2zm1 1h3v1h-3zm2 1h3v1h-3zm2 1h3v1h-3zm2 1h4v1h-4zm3 1h3v1h-3zm2 1h4v1h-4zm3 1h5v1h-5zm4 1h5v1h-5zm4 1h3v1h-3z"/><path fill="#a4a469" d="m10 0h1v2h-1zm1 2h1v3h-1zm1 3h1v2h-1zm1 2h1v1h-1zm0 1h2v1h-2zm1 1h2v1h-2zm1 1h1v1h-1zm1 1h1v1h-1zm1 1h1v1h-1zm0 1h2v1h-2zm2 1h2v1h-2zm1 1h2v1h-2zm1 1h2v1h-2zm1 1h3v1h-3zm2 1h2v1h-2zm1 1h3v1h-3zm2 1h3v1h-3zm2 1h2v1h-2zm1 1h3v1h-3zm2 1h3v1h-3zm2 1h3v1h-3zm2 1h3v1h-3zm2 1h3v1h-3zm3 1h3v1h-3zm2 1h4v1h-4zm3 1h5v1h-5zm4 1h4v1h-4zm4 1h2v1h-2z"/><path fill="#aaaa64" d="m11 0h1v2h-1zm1 3h1v2h-1zm1 2h1v1h-1zm0 1h2v1h-2zm1 1h2v1h-2zm1 1h1v1h-1zm1 1h1v1h-1zm0 1h2v1h-2zm1 1h2v1h-2zm1 1h2v1h-2zm1 1h3v1h-3zm2 1h2v1h-2zm1 1h2v1h-2zm1 1h3v1h-3zm2 1h2v1h-2zm1 1h3v1h-3zm2 1h2v1h-2zm2 1h2v1h-2zm1 1h3v1h-3zm2 1h3v1h-3zm2 1h3v1h-3zm2 1h3v1h-3zm2 1h3v1h-3zm2 1h4v1h-4zm3 1h4v1h-4zm3 1h5v1h-5zm4 1h4v1h-4zm3 1h2v1h-2z"/><path fill="#b0b05e" d="m12 0h1v2h-1zm0 2h2v1h-2zm1 1h1v1h-1zm0 1h2v1h-2zm1 1h2v1h-2zm1 1h1v1h-1zm1 1h1v1h-1zm0 1h2v1h-2zm1 1h2v1h-2zm1 1h2v1h-2zm1 1h2v1h-2zm1 1h2v1h-2zm2 1h2v1h-2zm1 1h2v1h-2zm1 1h3v1h-3zm2 1h2v1h-2zm1 1h3v1h-3zm2 1h2v1h-2zm1 1h3v1h-3zm2 1h2v1h-2zm2 1h2v1h-2zm2 1h2v1h-2zm2 1h2v1h-2zm2 1h3v1h-3zm2 1h4v1h-4zm3 1h4v1h-4zm3 1h4v1h-4zm4 1h4v1h-4zm3 1h1v1h-1zm-55 18h1v1h-1zm0 1h2v2h-2zm0 2h3v3h-3zm0 3h4v3h-4z"/><path fill="#b6b657" d="m13 0h1v2h-1zm1 2h1v1h-1zm0 1h2v1h-2zm1 1h2v1h-2zm1 1h1v1h-1zm0 1h2v1h-2zm1 1h2v1h-2zm1 1h2v1h-2zm1 1h2v1h-2zm1 1h2v1h-2zm1 1h3v1h-3zm1 1h3v1h-3zm2 1h2v1h-2zm1 1h3v1h-3zm2 1h2v1h-2zm1 1h3v1h-3zm2 1h2v1h-2zm1 1h3v1h-3zm2 1h3v1h-3zm1 1h4v1h-4zm2 1h4v1h-4zm2 1h4v1h-4zm2 1h5v1h-5zm3 1h5v1h-5zm3 1h5v1h-5zm3 1h6v1h-6zm3 1h4v1h-4zm-52 16h1v1h-1zm0 1h2v1h-2zm0 1h3v1h-3zm0 1h4v1h-4zm1 1h4v1h-4zm1 1h4v1h-4zm0 1h5v1h-5zm1 1h5v2h-5zm0 2h6v1h-6zm1 1h5v3h-5z"/><path fill="#bbbb50" d="m14 0h2v2h-2zm1 2h2v1h-2zm1 1h2v1h-2zm1 1h2v1h-2zm0 1h3v1h-3zm1 1h3v1h-3zm1 1h3v1h-3zm1 1h3v1h-3zm1 1h3v1h-3zm1 1h3v1h-3zm2 1h2v1h-2zm1 1h3v1h-3zm1 1h3v1h-3zm2 1h3v1h-3zm1 1h3v1h-3zm2 1h3v1h-3zm1 1h4v1h-4zm2 1h4v1h-4zm2 1h4v1h-4zm2 1h5v1h-5zm2 1h6v1h-6zm2 1h7v1h-7zm3 1h7v1h-7zm3 1h7v1h-7zm3 1h5v1h-5zm4 1h1v1h-1zm-55 14h1v1h-1zm0 1h2v1h-2zm0 1h3v1h-3zm1 1h2v1h-2zm1 1h2v1h-2zm1 1h2v1h-2zm1 1h3v1h-3zm1 1h4v1h-4zm1 1h4v1h-4zm1 1h4v1h-4zm1 1h4v1h-4zm0 1h5v1h-5zm1 1h5v2h-5zm0 2h6v2h-6z"/><path fill="#c1c14a" d="m16 0h2v2h-2zm1 2h2v1h-2zm1 1h2v1h-2zm1 1h2v1h-2zm1 1h2v1h-2zm1 1h2v1h-2zm1 1h2v1h-2zm1 1h2v1h-2zm1 1h2v1h-2zm1 1h3v1h-3zm1 1h3v1h-3zm2 1h3v1h-3zm1 1h3v1h-3zm2 1h3v1h-3zm1 1h4v1h-4zm2 1h4v1h-4zm2 1h5v1h-5zm2 1h5v1h-5zm2 1h6v1h-6zm3 1h6v1h-6zm3 1h7v1h-7zm3 1h7v1h-7zm3 1h4v1h-4zm3 1h1v1h-1zm-55 14h1v2h-1zm1 2h1v1h-1zm1 1h1v1h-1zm1 1h1v1h-1zm0 1h2v1h-2zm1 1h3v1h-3zm1 1h4v1h-4zm2 1h3v1h-3zm2 1h3v1h-3zm1 1h4v1h-4zm1 1h5v1h-5zm1 1h5v1h-5zm1 1h6v1h-6zm1 1h6v2h-6zm1 2h6v2h-6z"/><path fill="#c7c743" d="m18 0h1v1h-1zm0 1h2v1h-2zm1 1h2v1h-2zm1 1h2v1h-2zm1 1h2v1h-2zm1 1h2v1h-2zm1 1h2v1h-2zm1 1h2v1h-2zm1 1h3v1h-3zm1 1h3v1h-3zm2 1h3v1h-3zm1 1h4v1h-4zm2 1h3v1h-3zm1 1h4v1h-4zm2 1h5v1h-5zm2 1h5v1h-5zm2 1h6v1h-6zm3 1h6v1h-6zm2 1h7v1h-7zm3 1h7v1h-7zm3 1h7v1h-7zm4 1h3v1h-3zm-53 16h1v1h-1zm1 1h1v1h-1zm0 1h2v1h-2zm1 1h1v1h-1zm1 1h1v1h-1zm1 1h2v1h-2zm1 1h3v1h-3zm2 1h2v1h-2zm2 1h2v1h-2zm1 1h3v1h-3zm2 1h3v1h-3zm2 1h4v1h-4zm2 1h5v1h-5zm1 1h6v1h-6zm2 1h6v1h-6zm1 1h7v1h-7zm0 1h9v1h-9zm1 1h8v1h-8zm0 1h9v1h-9z"/><path fill="#d3d336" d="m21 0h2v1h-2zm1 1h2v1h-2zm1 1h2v1h-2zm1 1h2v1h-2zm1 1h3v1h-3zm1 1h3v1h-3zm2 1h3v1h-3zm1 1h4v1h-4zm2 1h4v1h-4zm2 1h4v1h-4zm2 1h5v1h-5zm2 1h5v1h-5zm2 1h6v1h-6zm3 1h6v1h-6zm2 1h7v1h-7zm3 1h8v1h-8zm4 1h5v1h-5zm3 1h2v1h-2zm-54 18h1v1h-1zm1 1h1v1h-1zm1 1h1v1h-1zm1 1h1v1h-1zm1 1h1v1h-1zm1 1h1v1h-1zm1 1h2v1h-2zm2 1h2v1h-2zm2 1h2v1h-2zm2 1h2v1h-2zm2 1h3v1h-3zm2 1h4v1h-4zm4 1h4v1h-4zm3 1h6v1h-6zm4 1h8v1h-8zm4 1h10v1h-10zm5 1h12v1h-12zm4 1h15v1h-15zm3 1h13v1h-13zm2 1h11v1h-11zm1 1h10v1h-10z"/><path fill="#d8d830" d="m23 0h2v1h-2zm1 1h2v1h-2zm1 1h2v1h-2zm1 1h2v1h-2zm2 1h2v1h-2zm1 1h3v1h-3zm2 1h3v1h-3zm2 1h3v1h-3zm2 1h4v1h-4zm2 1h4v1h-4zm3 1h4v1h-4zm2 1h5v1h-5zm3 1h5v1h-5zm3 1h5v1h-5zm3 1h5v1h-5zm4 1h1v1h-1zm-55 18h1v2h-1zm1 2h1v1h-1zm1 1h1v1h-1zm1 1h1v1h-1zm2 2h1v1h-1zm1 1h2v1h-2zm2 1h1v1h-1zm2 1h1v1h-1zm2 1h1v1h-1zm2 1h2v1h-2zm3 1h3v1h-3zm3 1h4v1h-4zm4 1h5v1h-5zm5 1h6v1h-6zm6 1h7v1h-7zm6 1h10v1h-10zm7 1h8v1h-8zm7 1h1v1h-1z"/><path fill="#dddd2a" d="m25 0h1v1h-1zm1 1h1v1h-1zm1 1h2v1h-2zm1 1h3v1h-3zm2 1h2v1h-2zm2 1h3v1h-3zm2 1h3v1h-3zm2 1h4v1h-4zm3 1h4v1h-4zm2 1h4v1h-4zm3 1h4v1h-4zm3 1h4v1h-4zm3 1h4v1h-4zm3 1h3v1h-3zm-52 21h1v1h-1zm1 1h1v1h-1zm2 3h1v1h-1zm2 1h1v1h-1zm2 1h1v1h-1zm1 1h2v1h-2zm2 1h2v1h-2zm2 1h2v1h-2zm3 1h3v1h-3zm4 1h3v1h-3zm4 1h5v1h-5zm5 1h6v1h-6zm6 1h7v1h-7zm7 1h7v1h-7zm9 1h5v1h-5z"/><path fill="#e2e224" d="m26 0h2v1h-2zm1 1h2v1h-2zm2 1h2v1h-2zm2 1h2v1h-2zm1 1h4v1h-4zm3 1h4v1h-4zm2 1h4v1h-4zm3 1h4v1h-4zm3 1h4v1h-4zm2 1h4v1h-4zm3 1h4v1h-4zm3 1h4v1h-4zm3 1h2v1h-2zm-54 20h1v1h-1zm1 1h1v1h-1zm1 1h1v1h-1zm1 2h1v1h-1zm1 1h1v1h-1zm1 1h1v1h-1zm2 1h1v1h-1zm2 1h1v1h-1zm2 1h1v1h-1zm2 1h1v1h-1zm2 1h3v1h-3zm4 1h3v1h-3zm4 1h4v1h-4zm6 1h4v1h-4zm6 1h4v1h-4zm7 1h5v1h-5zm7 1h7v1h-7z"/><path fill="#e7e71e" d="m28 0h2v1h-2zm1 1h3v1h-3zm2 1h3v1h-3zm2 1h4v1h-4zm3 1h4v1h-4zm3 1h4v1h-4zm2 1h4v1h-4zm3 1h4v1h-4zm3 1h3v1h-3zm2 1h4v1h-4zm3 1h3v1h-3zm3 1h1v1h-1zm-55 20h1v1h-1zm1 1h1v1h-1zm1 1h1v1h-1zm1 2h1v1h-1zm1 1h1v1h-1zm1 1h1v1h-1zm1 1h2v1h-2zm2 1h1v1h-1zm2 1h1v1h-1zm2 1h1v1h-1zm2 1h2v1h-2zm4 1h3v1h-3zm4 1h3v1h-3zm5 1h4v1h-4zm6 1h4v1h-4zm6 1h5v1h-5zm8 1h6v1h-6z"/><path fill="#ebeb18" d="m30 0h3v1h-3zm2 1h4v1h-4zm2 1h5v1h-5zm3 1h5v1h-5zm3 1h4v1h-4zm3 1h3v1h-3zm2 1h4v1h-4zm3 1h3v1h-3zm2 1h4v1h-4zm3 1h3v1h-3zm2 1h1v1h-1zm-55 20h1v1h-1zm1 1h1v1h-1zm2 3h1v1h-1zm3 3h1v1h-1zm2 1h1v1h-1zm1 1h2v1h-2zm2 1h2v1h-2zm2 1h2v1h-2zm3 1h3v1h-3zm5 1h2v1h-2zm4 1h3v1h-3zm6 1h3v1h-3zm6 1h3v1h-3zm7 1h3v1h-3zm9 1h3v1h-3z"/><path fill="#f0f012" d="m33 0h4v1h-4zm3 1h4v1h-4zm3 1h4v1h-4zm3 1h3v1h-3zm2 1h4v1h-4zm2 1h4v1h-4zm3 1h3v1h-3zm2 1h3v1h-3zm3 1h2v1h-2zm-54 21h1v1h-1zm2 3h1v1h-1zm2 3h1v1h-1zm1 1h1v1h-1zm2 1h1v1h-1zm2 1h1v1h-1zm2 1h1v1h-1zm2 1h1v1h-1zm2 1h2v1h-2zm4 1h2v1h-2zm4 1h2v1h-2zm5 1h3v1h-3zm6 1h3v1h-3zm6 1h4v1h-4zm7 1h5v1h-5z"/><path fill="#f5f50c" d="m37 0h5v1h-5zm3 1h4v1h-4zm3 1h3v1h-3zm2 1h4v1h-4zm3 1h3v1h-3zm2 1h3v1h-3zm2 1h3v1h-3zm2 1h2v1h-2zm-53 23h1v1h-1zm1 1h1v1h-1zm1 2h1v1h-1zm1 1h1v1h-1zm1 1h1v1h-1zm1 1h1v1h-1zm2 1h1v1h-1zm2 1h1v1h-1zm2 1h1v1h-1zm2 1h1v1h-1zm3 1h2v1h-2zm4 1h2v1h-2zm4 1h3v1h-3zm6 1h3v1h-3zm6 1h3v1h-3zm7 1h2v1h-2zm8 1h4v1h-4z"/><path fill="#fafa06" d="m42 0h3v1h-3zm2 1h3v1h-3zm2 1h3v1h-3zm3 1h3v1h-3zm2 1h3v1h-3zm2 1h3v1h-3zm2 1h1v1h-1zm-55 22h1v1h-1zm1 1h1v1h-1zm6 7h1v1h-1zm2 1h1v1h-1zm2 1h1v1h-1zm4 2h1v1h-1zm4 1h2v1h-2zm4 1h2v1h-2zm5 1h2v1h-2zm6 1h2v1h-2zm6 1h2v1h-2zm6 1h3v1h-3z"/><path fill="#ffff00" d="m45 0h2v1h-2zm2 1h2v1h-2zm2 1h2v1h-2zm3 1h1v1h-1zm2 1h1v1h-1zm-51 28h1v1h-1zm3 3h1v1h-1zm2 1h1v1h-1zm5 3h1v1h-1zm3 1h1v1h-1zm9 2h1v1h-1zm5 1h1v1h-1zm6 1h1v1h-1zm6 1h2v1h-2zm7 1h2v1h-2z"/></g>
<path d="M641.2 1362.6v-3.5M641.2 1089.3v3.5M614.2 1335.8h3.5M887.5 1335.8h-3.5M689.8 1362.6v-3.5M689.8 1089.3v3.5M614.2 1287.5h3.5M887.5 1287.5h-3.5M738.4 1362.6v-3.5M738.4 1089.3v3.5M614.2 1239.2h3.5M887.5 1239.2h-3.5M787.0 1362.6v-3.5M787.0 1089.3v3.5M614.2 1190.9h3.5M887.5 1190.9h-3.5M835.6 1362.6v-3.5M835.6 1089.3v3.5M614.2 1142.7h3.5M887.5 1142.7h-3.5M884.2 1362.6v-3.5M884.2 1089.3v3.5M614.2 1094.4h3.5M887.5 1094.4h-3.5" stroke="#262626" stroke-width="1.6" fill="none"/><rect x="614.2" y="1089.3" width="273.3" height="273.3" fill="none" stroke="#262626" stroke-width="1.8"/><g class="s" font-size="31" fill="#262626" text-anchor="end"><text x="603.7" y="1346.8">40</text><text x="603.7" y="1298.5">60</text><text x="603.7" y="1250.2">80</text><text x="603.7" y="1201.9">100</text><text x="603.7" y="1153.7">120</text><text x="603.7" y="1105.4">140</text></g><g class="s" font-size="31" fill="#262626" text-anchor="middle"><text x="641.2" y="1401.9">40</text><text x="689.8" y="1401.9">60</text><text x="738.4" y="1401.9">80</text><text x="787.0" y="1401.9">100</text><text x="835.6" y="1401.9">120</text><text x="884.2" y="1401.9">140</text></g><text class="s" font-size="33" fill="#262626" text-anchor="middle" x="749.85" y="1441.6"><tspan font-style="italic">Lx</tspan> (μm)</text><text class="s" font-size="34.2" fill="#262626" text-anchor="middle" x="544.7" y="1226.5" transform="rotate(-90 544.7 1226.5)"><tspan font-style="italic">Ly</tspan> (μm)</text><rect x="920.5" y="1089.3" width="27.5" height="273.3" fill="url(#cp)" stroke="#262626" stroke-width="1"/><text class="s" font-size="31" fill="#262626" x="958.0" y="1100.7"><tspan font-style="italic">π</tspan></text><text class="s" font-size="31" fill="#262626" x="958.0" y="1374.0">-<tspan font-style="italic">π</tspan></text>
</svg>
</body></html>
